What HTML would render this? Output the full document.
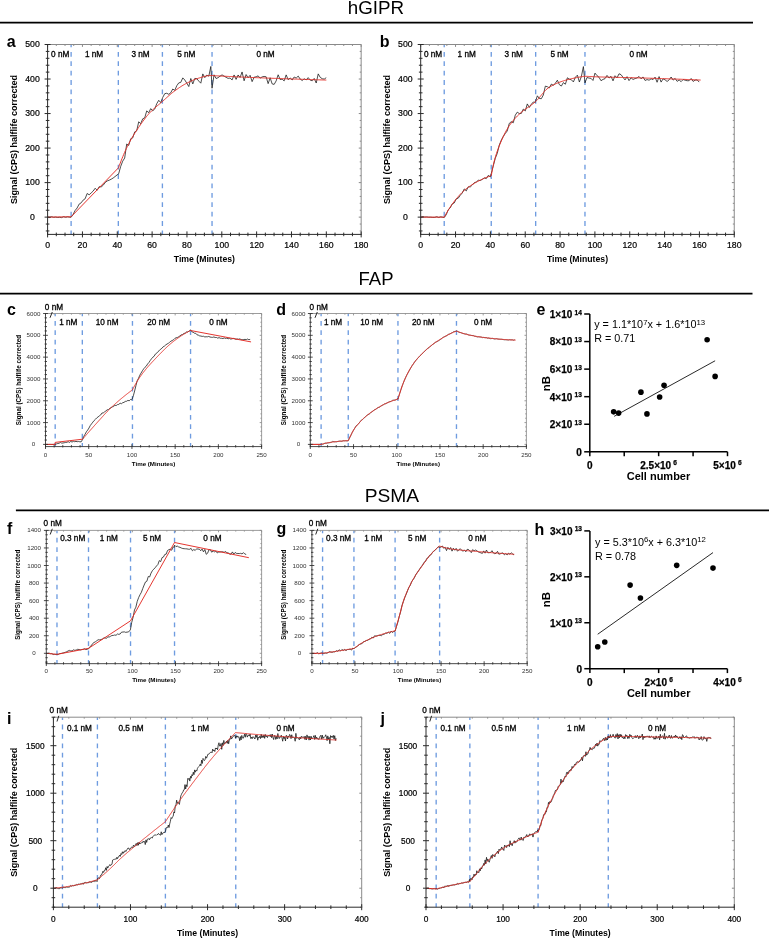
<!DOCTYPE html>
<html><head><meta charset="utf-8"><style>
html,body{margin:0;padding:0;background:#fff;}
svg{display:block;font-family:"Liberation Sans", sans-serif;will-change:transform;}
</style></head><body>
<svg width="769" height="938" viewBox="0 0 769 938">
<rect width="769" height="938" fill="#fff"/>
<text x="376" y="14" font-size="18.8" text-anchor="middle" fill="#000" >hGIPR</text>
<line x1="0" y1="22.6" x2="753" y2="22.6" stroke="#000" stroke-width="1.8" />
<text x="376" y="285" font-size="18.5" text-anchor="middle" fill="#000" >FAP</text>
<line x1="0" y1="293.6" x2="752.5" y2="293.6" stroke="#000" stroke-width="1.8" />
<text x="391.9" y="502" font-size="19.2" text-anchor="middle" fill="#000" >PSMA</text>
<line x1="15.9" y1="510.4" x2="769" y2="510.4" stroke="#000" stroke-width="1.7" />
<line x1="71.12" y1="44.5" x2="71.12" y2="234.4" stroke="#6f9ce0" stroke-width="1.35" stroke-dasharray="4.8 4.6" stroke-dashoffset="2"/>
<line x1="118.33" y1="44.5" x2="118.33" y2="234.4" stroke="#6f9ce0" stroke-width="1.35" stroke-dasharray="4.8 4.6" stroke-dashoffset="2"/>
<line x1="162.4" y1="44.5" x2="162.4" y2="234.4" stroke="#6f9ce0" stroke-width="1.35" stroke-dasharray="4.8 4.6" stroke-dashoffset="2"/>
<line x1="212.04" y1="44.5" x2="212.04" y2="234.4" stroke="#6f9ce0" stroke-width="1.35" stroke-dasharray="4.8 4.6" stroke-dashoffset="2"/>
<polyline points="47.6,217.03 49.6,217.56 51.61,216.7 53.61,217.35 55.61,217.06 57.62,217.51 59.62,217.25 61.62,217.62 63.63,216.66 65.63,217.29 67.63,216.81 69.64,217.22 71.12,217.22 73.12,214.46 75.12,210.47 77.13,207.97 79.13,204.13 81.13,202.85 83.14,200.11 85.14,198.77 87.14,193.47 89.15,194.8 91.15,192.98 93.15,191.08 95.16,188.26 97.16,190.29 99.16,186.69 101.17,186.94 103.17,185.26 105.17,182.56 107.18,180.96 109.18,180.19 111.18,179.23 113.19,177.98 118.67,173.75 120.68,166.44 122.68,161.19 124.68,158.03 126.69,144.01 128.69,145.42 130.69,138.75 132.7,137.94 134.7,131.89 136.7,130.81 138.71,121.79 140.71,123.68 142.71,118.82 144.72,117.84 146.72,110.88 148.72,112.68 150.73,108.64 152.73,110.85 154.73,109.04 156.74,103.71 158.74,100.31 160.74,102.64 162.75,97.38 164.75,93.65 166.75,93.26 168.76,94.31 170.76,92.75 172.76,89.01 174.77,90.39 176.77,85.73 178.77,82.9 180.78,82.37 182.78,77.89 184.78,79.97 186.79,83.15 188.79,86.55 190.79,78.51 192.8,83.95 194.8,78.39 196.8,78.67 198.81,81.11 200.81,83.18 202.81,73.92 204.82,77.64 206.82,75.12 208.82,76.17 210.83,66.44 212.04,88.22 214.05,74.82 216.05,78.49 218.05,77.7 220.06,76.13 222.06,74.89 224.06,76.11 226.07,77.3 228.07,78.38 230.07,78.04 232.08,79.98 234.08,74.95 236.08,79.42 238.09,74.98 240.09,77.44 242.09,71.94 244.1,80.79 246.1,74.56 248.1,77.74 250.11,75.28 252.11,81.64 254.11,77.2 256.12,76.82 258.12,75.86 260.12,78.14 262.13,76.88 264.13,76.45 266.13,76.79 268.14,83.65 270.14,77.78 272.14,83.87 274.15,84.4 276.15,80.92 278.15,74.79 280.16,79.54 282.16,79.18 284.16,80.9 286.17,74.89 288.17,79.67 290.17,77.99 292.18,79.98 294.18,76.99 296.18,78.08 298.19,76.1 300.19,79.07 302.19,80.5 304.2,78.77 306.2,79.88 308.2,77.61 310.21,80.14 312.21,80.76 314.21,78.43 316.22,83.02 318.22,73.88 320.22,77.35 322.23,78.72 324.23,79.08 326.23,77.7" fill="none" stroke="#111" stroke-width="0.75" stroke-linejoin="round"/>
<polyline points="47.6,217.14 71.12,216.79 71.12,216.79 118.5,167.76 118.5,167.76 119.37,165.41 120.24,163.11 121.11,160.86 121.98,158.66 122.85,156.52 123.73,154.43 124.6,152.41 125.47,150.45 126.34,148.56 127.21,146.73 128.08,144.97 128.95,143.28 129.82,141.65 130.69,140.07 131.56,138.54 132.44,137.05 133.31,135.61 134.18,134.2 135.05,132.82 135.92,131.47 136.79,130.14 137.66,128.83 138.53,127.54 139.4,126.25 140.27,124.98 141.15,123.73 142.02,122.5 142.89,121.28 143.76,120.1 144.63,118.94 145.5,117.81 146.37,116.71 147.24,115.64 148.11,114.61 148.98,113.63 149.86,112.68 150.73,111.77 151.6,110.9 152.47,110.06 153.34,109.25 154.21,108.46 155.08,107.69 155.95,106.93 156.82,106.19 157.69,105.46 158.57,104.73 159.44,104 160.31,103.27 161.18,102.53 162.05,101.77 162.92,101.01 163.79,100.23 164.66,99.45 165.53,98.66 166.4,97.88 167.28,97.09 168.15,96.31 169.02,95.54 169.89,94.78 170.76,94.03 171.63,93.3 172.5,92.59 173.37,91.9 174.24,91.24 175.11,90.6 175.99,89.97 176.86,89.35 177.73,88.73 178.6,88.13 179.47,87.54 180.34,86.96 181.21,86.39 182.08,85.84 182.95,85.31 183.82,84.79 184.7,84.29 185.57,83.81 186.44,83.35 187.31,82.91 188.18,82.47 189.05,82.04 189.92,81.63 190.79,81.22 191.66,80.82 192.53,80.43 193.41,80.06 194.28,79.7 195.15,79.35 196.02,79.02 196.89,78.71 197.76,78.42 198.63,78.15 199.5,77.89 200.37,77.63 201.24,77.37 202.12,77.11 202.99,76.85 203.86,76.6 204.73,76.37 205.6,76.15 206.47,75.97 207.34,75.81 208.21,75.69 209.08,75.61 209.95,75.58 210.83,75.57 211.7,75.57 212.04,75.57 212.04,75.57 212.92,75.62 213.79,75.67 214.66,75.72 215.53,75.77 216.4,75.81 217.27,75.86 218.14,75.91 219.01,75.96 219.88,76 220.75,76.05 221.63,76.09 222.5,76.14 223.37,76.19 224.24,76.23 225.11,76.28 225.98,76.32 226.85,76.36 227.72,76.41 228.59,76.45 229.46,76.5 230.34,76.54 231.21,76.58 232.08,76.62 232.95,76.66 233.82,76.71 234.69,76.75 235.56,76.79 236.43,76.83 237.3,76.87 238.17,76.91 239.05,76.95 239.92,76.99 240.79,77.03 241.66,77.06 242.53,77.1 243.4,77.14 244.27,77.18 245.14,77.21 246.01,77.25 246.88,77.29 247.76,77.32 248.63,77.36 249.5,77.4 250.37,77.43 251.24,77.47 252.11,77.5 252.98,77.54 253.85,77.57 254.72,77.61 255.59,77.64 256.47,77.68 257.34,77.71 258.21,77.74 259.08,77.78 259.95,77.81 260.82,77.85 261.69,77.88 262.56,77.91 263.43,77.94 264.3,77.98 265.18,78.01 266.05,78.04 266.92,78.07 267.79,78.11 268.66,78.14 269.53,78.17 270.4,78.2 271.27,78.24 272.14,78.27 273.01,78.3 273.89,78.33 274.76,78.36 275.63,78.39 276.5,78.42 277.37,78.46 278.24,78.49 279.11,78.52 279.98,78.55 280.85,78.58 281.72,78.61 282.6,78.64 283.47,78.67 284.34,78.7 285.21,78.73 286.08,78.77 286.95,78.8 287.82,78.83 288.69,78.86 289.56,78.89 290.43,78.92 291.31,78.95 292.18,78.98 293.05,79.01 293.92,79.04 294.79,79.07 295.66,79.1 296.53,79.12 297.4,79.15 298.27,79.18 299.14,79.21 300.02,79.24 300.89,79.27 301.76,79.3 302.63,79.33 303.5,79.36 304.37,79.38 305.24,79.41 306.11,79.44 306.98,79.47 307.85,79.5 308.73,79.53 309.6,79.55 310.47,79.58 311.34,79.61 312.21,79.64 313.08,79.66 313.95,79.69 314.82,79.72 315.69,79.74 316.56,79.77 317.44,79.8 318.31,79.82 319.18,79.85 320.05,79.88 320.92,79.9 321.79,79.93 322.66,79.96 323.53,79.98 324.4,80.01 325.27,80.03 326.15,80.06 326.32,80.06" fill="none" stroke="#e32b25" stroke-width="0.95" stroke-linejoin="round"/>
<line x1="47.6" y1="44.5" x2="361.16" y2="44.5" stroke="#8a8a8a" stroke-width="1.0" />
<line x1="361.16" y1="44.5" x2="361.16" y2="234.4" stroke="#8a8a8a" stroke-width="1.0" />
<line x1="47.6" y1="231.4" x2="47.6" y2="237.4" stroke="#2a2a2a" stroke-width="1.0" />
<line x1="47.6" y1="44.5" x2="47.6" y2="46.9" stroke="#8a8a8a" stroke-width="1.0" />
<text x="47.6" y="248.3" font-size="8.7" text-anchor="middle" stroke="#000" stroke-width="0.2" fill="#000" >0</text>
<line x1="56.31" y1="232.6" x2="56.31" y2="236.2" stroke="#2a2a2a" stroke-width="1.0" />
<line x1="56.31" y1="44.5" x2="56.31" y2="45.94" stroke="#8a8a8a" stroke-width="1.0" />
<line x1="65.02" y1="232.6" x2="65.02" y2="236.2" stroke="#2a2a2a" stroke-width="1.0" />
<line x1="65.02" y1="44.5" x2="65.02" y2="45.94" stroke="#8a8a8a" stroke-width="1.0" />
<line x1="73.73" y1="232.6" x2="73.73" y2="236.2" stroke="#2a2a2a" stroke-width="1.0" />
<line x1="73.73" y1="44.5" x2="73.73" y2="45.94" stroke="#8a8a8a" stroke-width="1.0" />
<line x1="82.44" y1="231.4" x2="82.44" y2="237.4" stroke="#2a2a2a" stroke-width="1.0" />
<line x1="82.44" y1="44.5" x2="82.44" y2="46.9" stroke="#8a8a8a" stroke-width="1.0" />
<text x="82.44" y="248.3" font-size="8.7" text-anchor="middle" stroke="#000" stroke-width="0.2" fill="#000" >20</text>
<line x1="91.15" y1="232.6" x2="91.15" y2="236.2" stroke="#2a2a2a" stroke-width="1.0" />
<line x1="91.15" y1="44.5" x2="91.15" y2="45.94" stroke="#8a8a8a" stroke-width="1.0" />
<line x1="99.86" y1="232.6" x2="99.86" y2="236.2" stroke="#2a2a2a" stroke-width="1.0" />
<line x1="99.86" y1="44.5" x2="99.86" y2="45.94" stroke="#8a8a8a" stroke-width="1.0" />
<line x1="108.57" y1="232.6" x2="108.57" y2="236.2" stroke="#2a2a2a" stroke-width="1.0" />
<line x1="108.57" y1="44.5" x2="108.57" y2="45.94" stroke="#8a8a8a" stroke-width="1.0" />
<line x1="117.28" y1="231.4" x2="117.28" y2="237.4" stroke="#2a2a2a" stroke-width="1.0" />
<line x1="117.28" y1="44.5" x2="117.28" y2="46.9" stroke="#8a8a8a" stroke-width="1.0" />
<text x="117.28" y="248.3" font-size="8.7" text-anchor="middle" stroke="#000" stroke-width="0.2" fill="#000" >40</text>
<line x1="125.99" y1="232.6" x2="125.99" y2="236.2" stroke="#2a2a2a" stroke-width="1.0" />
<line x1="125.99" y1="44.5" x2="125.99" y2="45.94" stroke="#8a8a8a" stroke-width="1.0" />
<line x1="134.7" y1="232.6" x2="134.7" y2="236.2" stroke="#2a2a2a" stroke-width="1.0" />
<line x1="134.7" y1="44.5" x2="134.7" y2="45.94" stroke="#8a8a8a" stroke-width="1.0" />
<line x1="143.41" y1="232.6" x2="143.41" y2="236.2" stroke="#2a2a2a" stroke-width="1.0" />
<line x1="143.41" y1="44.5" x2="143.41" y2="45.94" stroke="#8a8a8a" stroke-width="1.0" />
<line x1="152.12" y1="231.4" x2="152.12" y2="237.4" stroke="#2a2a2a" stroke-width="1.0" />
<line x1="152.12" y1="44.5" x2="152.12" y2="46.9" stroke="#8a8a8a" stroke-width="1.0" />
<text x="152.12" y="248.3" font-size="8.7" text-anchor="middle" stroke="#000" stroke-width="0.2" fill="#000" >60</text>
<line x1="160.83" y1="232.6" x2="160.83" y2="236.2" stroke="#2a2a2a" stroke-width="1.0" />
<line x1="160.83" y1="44.5" x2="160.83" y2="45.94" stroke="#8a8a8a" stroke-width="1.0" />
<line x1="169.54" y1="232.6" x2="169.54" y2="236.2" stroke="#2a2a2a" stroke-width="1.0" />
<line x1="169.54" y1="44.5" x2="169.54" y2="45.94" stroke="#8a8a8a" stroke-width="1.0" />
<line x1="178.25" y1="232.6" x2="178.25" y2="236.2" stroke="#2a2a2a" stroke-width="1.0" />
<line x1="178.25" y1="44.5" x2="178.25" y2="45.94" stroke="#8a8a8a" stroke-width="1.0" />
<line x1="186.96" y1="231.4" x2="186.96" y2="237.4" stroke="#2a2a2a" stroke-width="1.0" />
<line x1="186.96" y1="44.5" x2="186.96" y2="46.9" stroke="#8a8a8a" stroke-width="1.0" />
<text x="186.96" y="248.3" font-size="8.7" text-anchor="middle" stroke="#000" stroke-width="0.2" fill="#000" >80</text>
<line x1="195.67" y1="232.6" x2="195.67" y2="236.2" stroke="#2a2a2a" stroke-width="1.0" />
<line x1="195.67" y1="44.5" x2="195.67" y2="45.94" stroke="#8a8a8a" stroke-width="1.0" />
<line x1="204.38" y1="232.6" x2="204.38" y2="236.2" stroke="#2a2a2a" stroke-width="1.0" />
<line x1="204.38" y1="44.5" x2="204.38" y2="45.94" stroke="#8a8a8a" stroke-width="1.0" />
<line x1="213.09" y1="232.6" x2="213.09" y2="236.2" stroke="#2a2a2a" stroke-width="1.0" />
<line x1="213.09" y1="44.5" x2="213.09" y2="45.94" stroke="#8a8a8a" stroke-width="1.0" />
<line x1="221.8" y1="231.4" x2="221.8" y2="237.4" stroke="#2a2a2a" stroke-width="1.0" />
<line x1="221.8" y1="44.5" x2="221.8" y2="46.9" stroke="#8a8a8a" stroke-width="1.0" />
<text x="221.8" y="248.3" font-size="8.7" text-anchor="middle" stroke="#000" stroke-width="0.2" fill="#000" >100</text>
<line x1="230.51" y1="232.6" x2="230.51" y2="236.2" stroke="#2a2a2a" stroke-width="1.0" />
<line x1="230.51" y1="44.5" x2="230.51" y2="45.94" stroke="#8a8a8a" stroke-width="1.0" />
<line x1="239.22" y1="232.6" x2="239.22" y2="236.2" stroke="#2a2a2a" stroke-width="1.0" />
<line x1="239.22" y1="44.5" x2="239.22" y2="45.94" stroke="#8a8a8a" stroke-width="1.0" />
<line x1="247.93" y1="232.6" x2="247.93" y2="236.2" stroke="#2a2a2a" stroke-width="1.0" />
<line x1="247.93" y1="44.5" x2="247.93" y2="45.94" stroke="#8a8a8a" stroke-width="1.0" />
<line x1="256.64" y1="231.4" x2="256.64" y2="237.4" stroke="#2a2a2a" stroke-width="1.0" />
<line x1="256.64" y1="44.5" x2="256.64" y2="46.9" stroke="#8a8a8a" stroke-width="1.0" />
<text x="256.64" y="248.3" font-size="8.7" text-anchor="middle" stroke="#000" stroke-width="0.2" fill="#000" >120</text>
<line x1="265.35" y1="232.6" x2="265.35" y2="236.2" stroke="#2a2a2a" stroke-width="1.0" />
<line x1="265.35" y1="44.5" x2="265.35" y2="45.94" stroke="#8a8a8a" stroke-width="1.0" />
<line x1="274.06" y1="232.6" x2="274.06" y2="236.2" stroke="#2a2a2a" stroke-width="1.0" />
<line x1="274.06" y1="44.5" x2="274.06" y2="45.94" stroke="#8a8a8a" stroke-width="1.0" />
<line x1="282.77" y1="232.6" x2="282.77" y2="236.2" stroke="#2a2a2a" stroke-width="1.0" />
<line x1="282.77" y1="44.5" x2="282.77" y2="45.94" stroke="#8a8a8a" stroke-width="1.0" />
<line x1="291.48" y1="231.4" x2="291.48" y2="237.4" stroke="#2a2a2a" stroke-width="1.0" />
<line x1="291.48" y1="44.5" x2="291.48" y2="46.9" stroke="#8a8a8a" stroke-width="1.0" />
<text x="291.48" y="248.3" font-size="8.7" text-anchor="middle" stroke="#000" stroke-width="0.2" fill="#000" >140</text>
<line x1="300.19" y1="232.6" x2="300.19" y2="236.2" stroke="#2a2a2a" stroke-width="1.0" />
<line x1="300.19" y1="44.5" x2="300.19" y2="45.94" stroke="#8a8a8a" stroke-width="1.0" />
<line x1="308.9" y1="232.6" x2="308.9" y2="236.2" stroke="#2a2a2a" stroke-width="1.0" />
<line x1="308.9" y1="44.5" x2="308.9" y2="45.94" stroke="#8a8a8a" stroke-width="1.0" />
<line x1="317.61" y1="232.6" x2="317.61" y2="236.2" stroke="#2a2a2a" stroke-width="1.0" />
<line x1="317.61" y1="44.5" x2="317.61" y2="45.94" stroke="#8a8a8a" stroke-width="1.0" />
<line x1="326.32" y1="231.4" x2="326.32" y2="237.4" stroke="#2a2a2a" stroke-width="1.0" />
<line x1="326.32" y1="44.5" x2="326.32" y2="46.9" stroke="#8a8a8a" stroke-width="1.0" />
<text x="326.32" y="248.3" font-size="8.7" text-anchor="middle" stroke="#000" stroke-width="0.2" fill="#000" >160</text>
<line x1="335.03" y1="232.6" x2="335.03" y2="236.2" stroke="#2a2a2a" stroke-width="1.0" />
<line x1="335.03" y1="44.5" x2="335.03" y2="45.94" stroke="#8a8a8a" stroke-width="1.0" />
<line x1="343.74" y1="232.6" x2="343.74" y2="236.2" stroke="#2a2a2a" stroke-width="1.0" />
<line x1="343.74" y1="44.5" x2="343.74" y2="45.94" stroke="#8a8a8a" stroke-width="1.0" />
<line x1="352.45" y1="232.6" x2="352.45" y2="236.2" stroke="#2a2a2a" stroke-width="1.0" />
<line x1="352.45" y1="44.5" x2="352.45" y2="45.94" stroke="#8a8a8a" stroke-width="1.0" />
<line x1="361.16" y1="231.4" x2="361.16" y2="237.4" stroke="#2a2a2a" stroke-width="1.0" />
<line x1="361.16" y1="44.5" x2="361.16" y2="46.9" stroke="#8a8a8a" stroke-width="1.0" />
<text x="361.16" y="248.3" font-size="8.7" text-anchor="middle" stroke="#000" stroke-width="0.2" fill="#000" >180</text>
<line x1="45.8" y1="230.95" x2="49.4" y2="230.95" stroke="#2a2a2a" stroke-width="1.0" />
<line x1="359.72" y1="230.95" x2="361.16" y2="230.95" stroke="#8a8a8a" stroke-width="1.0" />
<line x1="45.8" y1="224.04" x2="49.4" y2="224.04" stroke="#2a2a2a" stroke-width="1.0" />
<line x1="359.72" y1="224.04" x2="361.16" y2="224.04" stroke="#8a8a8a" stroke-width="1.0" />
<line x1="44.6" y1="217.14" x2="50.6" y2="217.14" stroke="#2a2a2a" stroke-width="1.0" />
<line x1="358.76" y1="217.14" x2="361.16" y2="217.14" stroke="#8a8a8a" stroke-width="1.0" />
<text x="32.5" y="219.74" font-size="8.7" text-anchor="middle" stroke="#000" stroke-width="0.2" fill="#000" >0</text>
<line x1="45.8" y1="210.23" x2="49.4" y2="210.23" stroke="#2a2a2a" stroke-width="1.0" />
<line x1="359.72" y1="210.23" x2="361.16" y2="210.23" stroke="#8a8a8a" stroke-width="1.0" />
<line x1="45.8" y1="203.33" x2="49.4" y2="203.33" stroke="#2a2a2a" stroke-width="1.0" />
<line x1="359.72" y1="203.33" x2="361.16" y2="203.33" stroke="#8a8a8a" stroke-width="1.0" />
<line x1="45.8" y1="196.42" x2="49.4" y2="196.42" stroke="#2a2a2a" stroke-width="1.0" />
<line x1="359.72" y1="196.42" x2="361.16" y2="196.42" stroke="#8a8a8a" stroke-width="1.0" />
<line x1="45.8" y1="189.51" x2="49.4" y2="189.51" stroke="#2a2a2a" stroke-width="1.0" />
<line x1="359.72" y1="189.51" x2="361.16" y2="189.51" stroke="#8a8a8a" stroke-width="1.0" />
<line x1="44.6" y1="182.61" x2="50.6" y2="182.61" stroke="#2a2a2a" stroke-width="1.0" />
<line x1="358.76" y1="182.61" x2="361.16" y2="182.61" stroke="#8a8a8a" stroke-width="1.0" />
<text x="32.5" y="185.21" font-size="8.7" text-anchor="middle" stroke="#000" stroke-width="0.2" fill="#000" >100</text>
<line x1="45.8" y1="175.7" x2="49.4" y2="175.7" stroke="#2a2a2a" stroke-width="1.0" />
<line x1="359.72" y1="175.7" x2="361.16" y2="175.7" stroke="#8a8a8a" stroke-width="1.0" />
<line x1="45.8" y1="168.8" x2="49.4" y2="168.8" stroke="#2a2a2a" stroke-width="1.0" />
<line x1="359.72" y1="168.8" x2="361.16" y2="168.8" stroke="#8a8a8a" stroke-width="1.0" />
<line x1="45.8" y1="161.89" x2="49.4" y2="161.89" stroke="#2a2a2a" stroke-width="1.0" />
<line x1="359.72" y1="161.89" x2="361.16" y2="161.89" stroke="#8a8a8a" stroke-width="1.0" />
<line x1="45.8" y1="154.99" x2="49.4" y2="154.99" stroke="#2a2a2a" stroke-width="1.0" />
<line x1="359.72" y1="154.99" x2="361.16" y2="154.99" stroke="#8a8a8a" stroke-width="1.0" />
<line x1="44.6" y1="148.08" x2="50.6" y2="148.08" stroke="#2a2a2a" stroke-width="1.0" />
<line x1="358.76" y1="148.08" x2="361.16" y2="148.08" stroke="#8a8a8a" stroke-width="1.0" />
<text x="32.5" y="150.68" font-size="8.7" text-anchor="middle" stroke="#000" stroke-width="0.2" fill="#000" >200</text>
<line x1="45.8" y1="141.18" x2="49.4" y2="141.18" stroke="#2a2a2a" stroke-width="1.0" />
<line x1="359.72" y1="141.18" x2="361.16" y2="141.18" stroke="#8a8a8a" stroke-width="1.0" />
<line x1="45.8" y1="134.27" x2="49.4" y2="134.27" stroke="#2a2a2a" stroke-width="1.0" />
<line x1="359.72" y1="134.27" x2="361.16" y2="134.27" stroke="#8a8a8a" stroke-width="1.0" />
<line x1="45.8" y1="127.37" x2="49.4" y2="127.37" stroke="#2a2a2a" stroke-width="1.0" />
<line x1="359.72" y1="127.37" x2="361.16" y2="127.37" stroke="#8a8a8a" stroke-width="1.0" />
<line x1="45.8" y1="120.46" x2="49.4" y2="120.46" stroke="#2a2a2a" stroke-width="1.0" />
<line x1="359.72" y1="120.46" x2="361.16" y2="120.46" stroke="#8a8a8a" stroke-width="1.0" />
<line x1="44.6" y1="113.55" x2="50.6" y2="113.55" stroke="#2a2a2a" stroke-width="1.0" />
<line x1="358.76" y1="113.55" x2="361.16" y2="113.55" stroke="#8a8a8a" stroke-width="1.0" />
<text x="32.5" y="116.15" font-size="8.7" text-anchor="middle" stroke="#000" stroke-width="0.2" fill="#000" >300</text>
<line x1="45.8" y1="106.65" x2="49.4" y2="106.65" stroke="#2a2a2a" stroke-width="1.0" />
<line x1="359.72" y1="106.65" x2="361.16" y2="106.65" stroke="#8a8a8a" stroke-width="1.0" />
<line x1="45.8" y1="99.74" x2="49.4" y2="99.74" stroke="#2a2a2a" stroke-width="1.0" />
<line x1="359.72" y1="99.74" x2="361.16" y2="99.74" stroke="#8a8a8a" stroke-width="1.0" />
<line x1="45.8" y1="92.84" x2="49.4" y2="92.84" stroke="#2a2a2a" stroke-width="1.0" />
<line x1="359.72" y1="92.84" x2="361.16" y2="92.84" stroke="#8a8a8a" stroke-width="1.0" />
<line x1="45.8" y1="85.93" x2="49.4" y2="85.93" stroke="#2a2a2a" stroke-width="1.0" />
<line x1="359.72" y1="85.93" x2="361.16" y2="85.93" stroke="#8a8a8a" stroke-width="1.0" />
<line x1="44.6" y1="79.03" x2="50.6" y2="79.03" stroke="#2a2a2a" stroke-width="1.0" />
<line x1="358.76" y1="79.03" x2="361.16" y2="79.03" stroke="#8a8a8a" stroke-width="1.0" />
<text x="32.5" y="81.63" font-size="8.7" text-anchor="middle" stroke="#000" stroke-width="0.2" fill="#000" >400</text>
<line x1="45.8" y1="72.12" x2="49.4" y2="72.12" stroke="#2a2a2a" stroke-width="1.0" />
<line x1="359.72" y1="72.12" x2="361.16" y2="72.12" stroke="#8a8a8a" stroke-width="1.0" />
<line x1="45.8" y1="65.22" x2="49.4" y2="65.22" stroke="#2a2a2a" stroke-width="1.0" />
<line x1="359.72" y1="65.22" x2="361.16" y2="65.22" stroke="#8a8a8a" stroke-width="1.0" />
<line x1="45.8" y1="58.31" x2="49.4" y2="58.31" stroke="#2a2a2a" stroke-width="1.0" />
<line x1="359.72" y1="58.31" x2="361.16" y2="58.31" stroke="#8a8a8a" stroke-width="1.0" />
<line x1="45.8" y1="51.41" x2="49.4" y2="51.41" stroke="#2a2a2a" stroke-width="1.0" />
<line x1="359.72" y1="51.41" x2="361.16" y2="51.41" stroke="#8a8a8a" stroke-width="1.0" />
<line x1="44.6" y1="44.5" x2="50.6" y2="44.5" stroke="#2a2a2a" stroke-width="1.0" />
<line x1="358.76" y1="44.5" x2="361.16" y2="44.5" stroke="#8a8a8a" stroke-width="1.0" />
<text x="32.5" y="47.1" font-size="8.7" text-anchor="middle" stroke="#000" stroke-width="0.2" fill="#000" >500</text>
<line x1="47.6" y1="44.5" x2="47.6" y2="234.9" stroke="#2a2a2a" stroke-width="1.0" />
<line x1="47.1" y1="234.4" x2="361.66" y2="234.4" stroke="#2a2a2a" stroke-width="1.0" />
<text x="60.2" y="57.2" font-size="8.2" text-anchor="middle" stroke="#000" stroke-width="0.3" fill="#000" >0 nM</text>
<text x="94" y="57.2" font-size="8.2" text-anchor="middle" stroke="#000" stroke-width="0.3" fill="#000" >1 nM</text>
<text x="140.5" y="57.2" font-size="8.2" text-anchor="middle" stroke="#000" stroke-width="0.3" fill="#000" >3 nM</text>
<text x="186.3" y="57.2" font-size="8.2" text-anchor="middle" stroke="#000" stroke-width="0.3" fill="#000" >5 nM</text>
<text x="265.5" y="57.2" font-size="8.2" text-anchor="middle" stroke="#000" stroke-width="0.3" fill="#000" >0 nM</text>
<text x="17.2" y="139.45" font-size="9.0" text-anchor="middle" font-weight="bold" fill="#000" transform="rotate(-90 17.2 139.45)">Signal (CPS) halflife corrected</text>
<text x="204.38" y="262.4" font-size="8.7" text-anchor="middle" font-weight="bold" fill="#000" >Time (Minutes)</text>
<text x="6.8" y="47.4" font-size="16" text-anchor="start" font-weight="bold" fill="#000" >a</text>
<line x1="444.22" y1="44.5" x2="444.22" y2="234.4" stroke="#6f9ce0" stroke-width="1.35" stroke-dasharray="4.8 4.6" stroke-dashoffset="2"/>
<line x1="491.25" y1="44.5" x2="491.25" y2="234.4" stroke="#6f9ce0" stroke-width="1.35" stroke-dasharray="4.8 4.6" stroke-dashoffset="2"/>
<line x1="535.67" y1="44.5" x2="535.67" y2="234.4" stroke="#6f9ce0" stroke-width="1.35" stroke-dasharray="4.8 4.6" stroke-dashoffset="2"/>
<line x1="584.97" y1="44.5" x2="584.97" y2="234.4" stroke="#6f9ce0" stroke-width="1.35" stroke-dasharray="4.8 4.6" stroke-dashoffset="2"/>
<polyline points="420.7,217.31 422.7,216.58 424.71,217.05 426.71,216.92 428.71,217.22 430.72,217.18 432.72,217.41 434.72,217.39 436.73,216.71 438.73,217.5 440.73,216.81 442.74,217.23 444.22,217.55 446.22,214.71 448.22,209.81 450.23,207.86 452.23,203.93 454.23,202.98 456.24,198.84 458.24,198.17 460.24,195.31 462.25,193.02 464.25,188.93 466.25,190.92 468.26,186.81 470.26,186.91 472.26,185.06 474.27,182.71 476.27,182 478.27,180.25 480.28,180.49 482.28,179.36 484.28,177.88 486.29,178.61 488.29,175.41 490.29,176.93 491.25,173.44 493.25,165.91 495.26,158.35 497.26,153.36 499.26,145.19 501.27,140.22 503.27,136.47 505.27,133.52 507.28,130.92 509.28,123.39 511.28,121.67 513.29,122.75 515.29,115.14 517.29,112.15 519.3,113.6 521.3,113.46 523.3,109.05 525.31,110.91 527.31,103.92 529.31,107.49 531.32,104.27 533.32,102 535.32,102.24 537.33,95.82 539.33,98.43 541.33,98.71 543.34,95 545.34,86.13 547.34,86.73 549.35,87.87 551.35,84.1 553.35,85.37 555.36,83.2 557.36,80.18 559.36,84.66 561.37,86.07 563.37,82.6 565.37,84.24 567.38,77.79 569.38,79.25 571.38,79.78 573.39,81.95 575.39,77.23 577.39,75.16 579.4,82.02 581.4,76.36 583.4,66.59 584.97,82.91 586.97,77.54 588.98,78.06 590.98,78.3 592.98,80.48 594.99,73.11 596.99,75.64 598.99,77.26 601,80.72 603,79.39 605,78.67 607.01,75.4 609.01,78.06 611.01,76.32 613.02,80.84 615.02,75.73 617.02,77.88 619.03,73.76 621.03,74.66 623.03,77.32 625.04,79.93 627.04,76.65 629.04,80.64 631.05,77.79 633.05,79.47 635.05,78.55 637.06,77.95 639.06,76.48 641.06,78.8 643.07,76.94 645.07,80.47 647.07,79.57 649.08,80.21 651.08,78.82 653.08,79.55 655.09,77.12 657.09,82.26 659.09,76.59 661.1,82.09 663.1,78.83 665.1,79.85 667.11,81.47 669.11,79.87 671.11,77.01 673.12,80.12 675.12,78.4 677.12,81.36 679.13,79.99 681.13,81.65 683.13,79.53 685.14,80.22 687.14,80.72 689.14,80.69 691.15,78.48 693.15,81.43 695.15,80.1 697.16,79.91 699.16,82.1" fill="none" stroke="#111" stroke-width="0.75" stroke-linejoin="round"/>
<polyline points="420.7,217.14 444.22,217.14 444.22,217.14 445.09,215.57 445.96,214.03 446.83,212.53 447.7,211.06 448.57,209.62 449.44,208.24 450.31,206.9 451.19,205.61 452.06,204.38 452.93,203.21 453.8,202.06 454.67,200.94 455.54,199.84 456.41,198.76 457.28,197.71 458.15,196.69 459.02,195.69 459.89,194.73 460.77,193.8 461.64,192.91 462.51,192.05 463.38,191.23 464.25,190.45 465.12,189.72 465.99,189.01 466.86,188.33 467.73,187.66 468.61,187.02 469.48,186.41 470.35,185.81 471.22,185.23 472.09,184.67 472.96,184.13 473.83,183.6 474.7,183.1 475.57,182.6 476.44,182.13 477.31,181.66 478.19,181.21 479.06,180.77 479.93,180.33 480.8,179.91 481.67,179.49 482.54,179.09 483.41,178.69 484.28,178.3 485.15,177.93 486.02,177.57 486.9,177.22 487.77,176.89 488.64,176.57 489.51,176.27 490.38,175.98 491.25,175.7 491.25,175.7 492.12,170.93 492.99,166.47 493.86,162.58 494.74,159.3 495.61,156.3 496.48,153.52 497.35,150.94 498.22,148.53 499.09,146.26 499.96,144.09 500.83,142 501.7,139.99 502.57,138.04 503.44,136.17 504.32,134.37 505.19,132.65 506.06,131.02 506.93,129.48 507.8,128.03 508.67,126.67 509.54,125.4 510.41,124.17 511.28,122.99 512.15,121.87 513.03,120.78 513.9,119.74 514.77,118.74 515.64,117.78 516.51,116.85 517.38,115.95 518.25,115.09 519.12,114.25 519.99,113.44 520.87,112.67 521.74,111.94 522.61,111.24 523.48,110.57 524.35,109.92 525.22,109.29 526.09,108.67 526.96,108.06 527.83,107.46 528.7,106.85 529.58,106.25 530.45,105.63 531.32,104.99 532.19,104.34 533.06,103.67 533.93,102.97 534.8,102.24 535.67,101.47 536.54,100.64 537.41,99.74 538.28,98.77 539.16,97.76 540.03,96.72 540.9,95.66 541.77,94.59 542.64,93.54 543.51,92.51 544.38,91.53 545.25,90.59 546.12,89.72 547,88.94 547.87,88.25 548.74,87.65 549.61,87.09 550.48,86.56 551.35,86.05 552.22,85.56 553.09,85.09 553.96,84.65 554.83,84.23 555.7,83.82 556.58,83.43 557.45,83.06 558.32,82.71 559.19,82.37 560.06,82.04 560.93,81.73 561.8,81.42 562.67,81.13 563.54,80.85 564.41,80.58 565.29,80.32 566.16,80.06 567.03,79.82 567.9,79.58 568.77,79.36 569.64,79.14 570.51,78.93 571.38,78.72 572.25,78.53 573.12,78.34 574,78.15 574.87,77.97 575.74,77.79 576.61,77.62 577.48,77.45 578.35,77.29 579.22,77.14 580.09,76.98 580.96,76.84 581.84,76.7 582.71,76.57 583.58,76.45 584.45,76.33 584.97,76.27 584.97,76.27 585.84,76.31 586.71,76.36 587.58,76.4 588.45,76.45 589.33,76.5 590.2,76.54 591.07,76.58 591.94,76.63 592.81,76.67 593.68,76.71 594.55,76.75 595.42,76.79 596.29,76.82 597.16,76.86 598.04,76.89 598.91,76.92 599.78,76.95 600.65,76.98 601.52,77 602.39,77.03 603.26,77.05 604.13,77.08 605,77.1 605.87,77.12 606.75,77.15 607.62,77.17 608.49,77.19 609.36,77.21 610.23,77.23 611.1,77.25 611.97,77.26 612.84,77.28 613.71,77.3 614.58,77.32 615.46,77.34 616.33,77.35 617.2,77.37 618.07,77.39 618.94,77.41 619.81,77.42 620.68,77.44 621.55,77.46 622.42,77.48 623.29,77.5 624.17,77.51 625.04,77.53 625.91,77.55 626.78,77.57 627.65,77.59 628.52,77.62 629.39,77.64 630.26,77.66 631.13,77.68 632,77.71 632.88,77.73 633.75,77.75 634.62,77.78 635.49,77.8 636.36,77.82 637.23,77.85 638.1,77.87 638.97,77.9 639.84,77.92 640.71,77.94 641.59,77.97 642.46,77.99 643.33,78.02 644.2,78.04 645.07,78.07 645.94,78.1 646.81,78.12 647.68,78.15 648.55,78.17 649.42,78.2 650.3,78.23 651.17,78.25 652.04,78.28 652.91,78.31 653.78,78.33 654.65,78.36 655.52,78.39 656.39,78.42 657.26,78.44 658.13,78.47 659.01,78.5 659.88,78.53 660.75,78.56 661.62,78.58 662.49,78.61 663.36,78.64 664.23,78.67 665.1,78.7 665.97,78.73 666.84,78.76 667.72,78.79 668.59,78.82 669.46,78.85 670.33,78.88 671.2,78.91 672.07,78.94 672.94,78.97 673.81,79 674.68,79.03 675.55,79.07 676.43,79.1 677.3,79.13 678.17,79.16 679.04,79.2 679.91,79.23 680.78,79.26 681.65,79.29 682.52,79.33 683.39,79.36 684.26,79.39 685.14,79.43 686.01,79.46 686.88,79.5 687.75,79.53 688.62,79.57 689.49,79.6 690.36,79.64 691.23,79.67 692.1,79.71 692.97,79.74 693.85,79.78 694.72,79.81 695.59,79.85 696.46,79.89 697.33,79.92 698.2,79.96 699.07,80 699.94,80.03 700.64,80.06" fill="none" stroke="#e32b25" stroke-width="0.95" stroke-linejoin="round"/>
<line x1="420.7" y1="44.5" x2="734.26" y2="44.5" stroke="#8a8a8a" stroke-width="1.0" />
<line x1="734.26" y1="44.5" x2="734.26" y2="234.4" stroke="#8a8a8a" stroke-width="1.0" />
<line x1="420.7" y1="231.4" x2="420.7" y2="237.4" stroke="#2a2a2a" stroke-width="1.0" />
<line x1="420.7" y1="44.5" x2="420.7" y2="46.9" stroke="#8a8a8a" stroke-width="1.0" />
<text x="420.7" y="248.3" font-size="8.7" text-anchor="middle" stroke="#000" stroke-width="0.2" fill="#000" >0</text>
<line x1="429.41" y1="232.6" x2="429.41" y2="236.2" stroke="#2a2a2a" stroke-width="1.0" />
<line x1="429.41" y1="44.5" x2="429.41" y2="45.94" stroke="#8a8a8a" stroke-width="1.0" />
<line x1="438.12" y1="232.6" x2="438.12" y2="236.2" stroke="#2a2a2a" stroke-width="1.0" />
<line x1="438.12" y1="44.5" x2="438.12" y2="45.94" stroke="#8a8a8a" stroke-width="1.0" />
<line x1="446.83" y1="232.6" x2="446.83" y2="236.2" stroke="#2a2a2a" stroke-width="1.0" />
<line x1="446.83" y1="44.5" x2="446.83" y2="45.94" stroke="#8a8a8a" stroke-width="1.0" />
<line x1="455.54" y1="231.4" x2="455.54" y2="237.4" stroke="#2a2a2a" stroke-width="1.0" />
<line x1="455.54" y1="44.5" x2="455.54" y2="46.9" stroke="#8a8a8a" stroke-width="1.0" />
<text x="455.54" y="248.3" font-size="8.7" text-anchor="middle" stroke="#000" stroke-width="0.2" fill="#000" >20</text>
<line x1="464.25" y1="232.6" x2="464.25" y2="236.2" stroke="#2a2a2a" stroke-width="1.0" />
<line x1="464.25" y1="44.5" x2="464.25" y2="45.94" stroke="#8a8a8a" stroke-width="1.0" />
<line x1="472.96" y1="232.6" x2="472.96" y2="236.2" stroke="#2a2a2a" stroke-width="1.0" />
<line x1="472.96" y1="44.5" x2="472.96" y2="45.94" stroke="#8a8a8a" stroke-width="1.0" />
<line x1="481.67" y1="232.6" x2="481.67" y2="236.2" stroke="#2a2a2a" stroke-width="1.0" />
<line x1="481.67" y1="44.5" x2="481.67" y2="45.94" stroke="#8a8a8a" stroke-width="1.0" />
<line x1="490.38" y1="231.4" x2="490.38" y2="237.4" stroke="#2a2a2a" stroke-width="1.0" />
<line x1="490.38" y1="44.5" x2="490.38" y2="46.9" stroke="#8a8a8a" stroke-width="1.0" />
<text x="490.38" y="248.3" font-size="8.7" text-anchor="middle" stroke="#000" stroke-width="0.2" fill="#000" >40</text>
<line x1="499.09" y1="232.6" x2="499.09" y2="236.2" stroke="#2a2a2a" stroke-width="1.0" />
<line x1="499.09" y1="44.5" x2="499.09" y2="45.94" stroke="#8a8a8a" stroke-width="1.0" />
<line x1="507.8" y1="232.6" x2="507.8" y2="236.2" stroke="#2a2a2a" stroke-width="1.0" />
<line x1="507.8" y1="44.5" x2="507.8" y2="45.94" stroke="#8a8a8a" stroke-width="1.0" />
<line x1="516.51" y1="232.6" x2="516.51" y2="236.2" stroke="#2a2a2a" stroke-width="1.0" />
<line x1="516.51" y1="44.5" x2="516.51" y2="45.94" stroke="#8a8a8a" stroke-width="1.0" />
<line x1="525.22" y1="231.4" x2="525.22" y2="237.4" stroke="#2a2a2a" stroke-width="1.0" />
<line x1="525.22" y1="44.5" x2="525.22" y2="46.9" stroke="#8a8a8a" stroke-width="1.0" />
<text x="525.22" y="248.3" font-size="8.7" text-anchor="middle" stroke="#000" stroke-width="0.2" fill="#000" >60</text>
<line x1="533.93" y1="232.6" x2="533.93" y2="236.2" stroke="#2a2a2a" stroke-width="1.0" />
<line x1="533.93" y1="44.5" x2="533.93" y2="45.94" stroke="#8a8a8a" stroke-width="1.0" />
<line x1="542.64" y1="232.6" x2="542.64" y2="236.2" stroke="#2a2a2a" stroke-width="1.0" />
<line x1="542.64" y1="44.5" x2="542.64" y2="45.94" stroke="#8a8a8a" stroke-width="1.0" />
<line x1="551.35" y1="232.6" x2="551.35" y2="236.2" stroke="#2a2a2a" stroke-width="1.0" />
<line x1="551.35" y1="44.5" x2="551.35" y2="45.94" stroke="#8a8a8a" stroke-width="1.0" />
<line x1="560.06" y1="231.4" x2="560.06" y2="237.4" stroke="#2a2a2a" stroke-width="1.0" />
<line x1="560.06" y1="44.5" x2="560.06" y2="46.9" stroke="#8a8a8a" stroke-width="1.0" />
<text x="560.06" y="248.3" font-size="8.7" text-anchor="middle" stroke="#000" stroke-width="0.2" fill="#000" >80</text>
<line x1="568.77" y1="232.6" x2="568.77" y2="236.2" stroke="#2a2a2a" stroke-width="1.0" />
<line x1="568.77" y1="44.5" x2="568.77" y2="45.94" stroke="#8a8a8a" stroke-width="1.0" />
<line x1="577.48" y1="232.6" x2="577.48" y2="236.2" stroke="#2a2a2a" stroke-width="1.0" />
<line x1="577.48" y1="44.5" x2="577.48" y2="45.94" stroke="#8a8a8a" stroke-width="1.0" />
<line x1="586.19" y1="232.6" x2="586.19" y2="236.2" stroke="#2a2a2a" stroke-width="1.0" />
<line x1="586.19" y1="44.5" x2="586.19" y2="45.94" stroke="#8a8a8a" stroke-width="1.0" />
<line x1="594.9" y1="231.4" x2="594.9" y2="237.4" stroke="#2a2a2a" stroke-width="1.0" />
<line x1="594.9" y1="44.5" x2="594.9" y2="46.9" stroke="#8a8a8a" stroke-width="1.0" />
<text x="594.9" y="248.3" font-size="8.7" text-anchor="middle" stroke="#000" stroke-width="0.2" fill="#000" >100</text>
<line x1="603.61" y1="232.6" x2="603.61" y2="236.2" stroke="#2a2a2a" stroke-width="1.0" />
<line x1="603.61" y1="44.5" x2="603.61" y2="45.94" stroke="#8a8a8a" stroke-width="1.0" />
<line x1="612.32" y1="232.6" x2="612.32" y2="236.2" stroke="#2a2a2a" stroke-width="1.0" />
<line x1="612.32" y1="44.5" x2="612.32" y2="45.94" stroke="#8a8a8a" stroke-width="1.0" />
<line x1="621.03" y1="232.6" x2="621.03" y2="236.2" stroke="#2a2a2a" stroke-width="1.0" />
<line x1="621.03" y1="44.5" x2="621.03" y2="45.94" stroke="#8a8a8a" stroke-width="1.0" />
<line x1="629.74" y1="231.4" x2="629.74" y2="237.4" stroke="#2a2a2a" stroke-width="1.0" />
<line x1="629.74" y1="44.5" x2="629.74" y2="46.9" stroke="#8a8a8a" stroke-width="1.0" />
<text x="629.74" y="248.3" font-size="8.7" text-anchor="middle" stroke="#000" stroke-width="0.2" fill="#000" >120</text>
<line x1="638.45" y1="232.6" x2="638.45" y2="236.2" stroke="#2a2a2a" stroke-width="1.0" />
<line x1="638.45" y1="44.5" x2="638.45" y2="45.94" stroke="#8a8a8a" stroke-width="1.0" />
<line x1="647.16" y1="232.6" x2="647.16" y2="236.2" stroke="#2a2a2a" stroke-width="1.0" />
<line x1="647.16" y1="44.5" x2="647.16" y2="45.94" stroke="#8a8a8a" stroke-width="1.0" />
<line x1="655.87" y1="232.6" x2="655.87" y2="236.2" stroke="#2a2a2a" stroke-width="1.0" />
<line x1="655.87" y1="44.5" x2="655.87" y2="45.94" stroke="#8a8a8a" stroke-width="1.0" />
<line x1="664.58" y1="231.4" x2="664.58" y2="237.4" stroke="#2a2a2a" stroke-width="1.0" />
<line x1="664.58" y1="44.5" x2="664.58" y2="46.9" stroke="#8a8a8a" stroke-width="1.0" />
<text x="664.58" y="248.3" font-size="8.7" text-anchor="middle" stroke="#000" stroke-width="0.2" fill="#000" >140</text>
<line x1="673.29" y1="232.6" x2="673.29" y2="236.2" stroke="#2a2a2a" stroke-width="1.0" />
<line x1="673.29" y1="44.5" x2="673.29" y2="45.94" stroke="#8a8a8a" stroke-width="1.0" />
<line x1="682" y1="232.6" x2="682" y2="236.2" stroke="#2a2a2a" stroke-width="1.0" />
<line x1="682" y1="44.5" x2="682" y2="45.94" stroke="#8a8a8a" stroke-width="1.0" />
<line x1="690.71" y1="232.6" x2="690.71" y2="236.2" stroke="#2a2a2a" stroke-width="1.0" />
<line x1="690.71" y1="44.5" x2="690.71" y2="45.94" stroke="#8a8a8a" stroke-width="1.0" />
<line x1="699.42" y1="231.4" x2="699.42" y2="237.4" stroke="#2a2a2a" stroke-width="1.0" />
<line x1="699.42" y1="44.5" x2="699.42" y2="46.9" stroke="#8a8a8a" stroke-width="1.0" />
<text x="699.42" y="248.3" font-size="8.7" text-anchor="middle" stroke="#000" stroke-width="0.2" fill="#000" >160</text>
<line x1="708.13" y1="232.6" x2="708.13" y2="236.2" stroke="#2a2a2a" stroke-width="1.0" />
<line x1="708.13" y1="44.5" x2="708.13" y2="45.94" stroke="#8a8a8a" stroke-width="1.0" />
<line x1="716.84" y1="232.6" x2="716.84" y2="236.2" stroke="#2a2a2a" stroke-width="1.0" />
<line x1="716.84" y1="44.5" x2="716.84" y2="45.94" stroke="#8a8a8a" stroke-width="1.0" />
<line x1="725.55" y1="232.6" x2="725.55" y2="236.2" stroke="#2a2a2a" stroke-width="1.0" />
<line x1="725.55" y1="44.5" x2="725.55" y2="45.94" stroke="#8a8a8a" stroke-width="1.0" />
<line x1="734.26" y1="231.4" x2="734.26" y2="237.4" stroke="#2a2a2a" stroke-width="1.0" />
<line x1="734.26" y1="44.5" x2="734.26" y2="46.9" stroke="#8a8a8a" stroke-width="1.0" />
<text x="734.26" y="248.3" font-size="8.7" text-anchor="middle" stroke="#000" stroke-width="0.2" fill="#000" >180</text>
<line x1="418.9" y1="230.95" x2="422.5" y2="230.95" stroke="#2a2a2a" stroke-width="1.0" />
<line x1="732.82" y1="230.95" x2="734.26" y2="230.95" stroke="#8a8a8a" stroke-width="1.0" />
<line x1="418.9" y1="224.04" x2="422.5" y2="224.04" stroke="#2a2a2a" stroke-width="1.0" />
<line x1="732.82" y1="224.04" x2="734.26" y2="224.04" stroke="#8a8a8a" stroke-width="1.0" />
<line x1="417.7" y1="217.14" x2="423.7" y2="217.14" stroke="#2a2a2a" stroke-width="1.0" />
<line x1="731.86" y1="217.14" x2="734.26" y2="217.14" stroke="#8a8a8a" stroke-width="1.0" />
<text x="405.3" y="219.74" font-size="8.7" text-anchor="middle" stroke="#000" stroke-width="0.2" fill="#000" >0</text>
<line x1="418.9" y1="210.23" x2="422.5" y2="210.23" stroke="#2a2a2a" stroke-width="1.0" />
<line x1="732.82" y1="210.23" x2="734.26" y2="210.23" stroke="#8a8a8a" stroke-width="1.0" />
<line x1="418.9" y1="203.33" x2="422.5" y2="203.33" stroke="#2a2a2a" stroke-width="1.0" />
<line x1="732.82" y1="203.33" x2="734.26" y2="203.33" stroke="#8a8a8a" stroke-width="1.0" />
<line x1="418.9" y1="196.42" x2="422.5" y2="196.42" stroke="#2a2a2a" stroke-width="1.0" />
<line x1="732.82" y1="196.42" x2="734.26" y2="196.42" stroke="#8a8a8a" stroke-width="1.0" />
<line x1="418.9" y1="189.51" x2="422.5" y2="189.51" stroke="#2a2a2a" stroke-width="1.0" />
<line x1="732.82" y1="189.51" x2="734.26" y2="189.51" stroke="#8a8a8a" stroke-width="1.0" />
<line x1="417.7" y1="182.61" x2="423.7" y2="182.61" stroke="#2a2a2a" stroke-width="1.0" />
<line x1="731.86" y1="182.61" x2="734.26" y2="182.61" stroke="#8a8a8a" stroke-width="1.0" />
<text x="405.3" y="185.21" font-size="8.7" text-anchor="middle" stroke="#000" stroke-width="0.2" fill="#000" >100</text>
<line x1="418.9" y1="175.7" x2="422.5" y2="175.7" stroke="#2a2a2a" stroke-width="1.0" />
<line x1="732.82" y1="175.7" x2="734.26" y2="175.7" stroke="#8a8a8a" stroke-width="1.0" />
<line x1="418.9" y1="168.8" x2="422.5" y2="168.8" stroke="#2a2a2a" stroke-width="1.0" />
<line x1="732.82" y1="168.8" x2="734.26" y2="168.8" stroke="#8a8a8a" stroke-width="1.0" />
<line x1="418.9" y1="161.89" x2="422.5" y2="161.89" stroke="#2a2a2a" stroke-width="1.0" />
<line x1="732.82" y1="161.89" x2="734.26" y2="161.89" stroke="#8a8a8a" stroke-width="1.0" />
<line x1="418.9" y1="154.99" x2="422.5" y2="154.99" stroke="#2a2a2a" stroke-width="1.0" />
<line x1="732.82" y1="154.99" x2="734.26" y2="154.99" stroke="#8a8a8a" stroke-width="1.0" />
<line x1="417.7" y1="148.08" x2="423.7" y2="148.08" stroke="#2a2a2a" stroke-width="1.0" />
<line x1="731.86" y1="148.08" x2="734.26" y2="148.08" stroke="#8a8a8a" stroke-width="1.0" />
<text x="405.3" y="150.68" font-size="8.7" text-anchor="middle" stroke="#000" stroke-width="0.2" fill="#000" >200</text>
<line x1="418.9" y1="141.18" x2="422.5" y2="141.18" stroke="#2a2a2a" stroke-width="1.0" />
<line x1="732.82" y1="141.18" x2="734.26" y2="141.18" stroke="#8a8a8a" stroke-width="1.0" />
<line x1="418.9" y1="134.27" x2="422.5" y2="134.27" stroke="#2a2a2a" stroke-width="1.0" />
<line x1="732.82" y1="134.27" x2="734.26" y2="134.27" stroke="#8a8a8a" stroke-width="1.0" />
<line x1="418.9" y1="127.37" x2="422.5" y2="127.37" stroke="#2a2a2a" stroke-width="1.0" />
<line x1="732.82" y1="127.37" x2="734.26" y2="127.37" stroke="#8a8a8a" stroke-width="1.0" />
<line x1="418.9" y1="120.46" x2="422.5" y2="120.46" stroke="#2a2a2a" stroke-width="1.0" />
<line x1="732.82" y1="120.46" x2="734.26" y2="120.46" stroke="#8a8a8a" stroke-width="1.0" />
<line x1="417.7" y1="113.55" x2="423.7" y2="113.55" stroke="#2a2a2a" stroke-width="1.0" />
<line x1="731.86" y1="113.55" x2="734.26" y2="113.55" stroke="#8a8a8a" stroke-width="1.0" />
<text x="405.3" y="116.15" font-size="8.7" text-anchor="middle" stroke="#000" stroke-width="0.2" fill="#000" >300</text>
<line x1="418.9" y1="106.65" x2="422.5" y2="106.65" stroke="#2a2a2a" stroke-width="1.0" />
<line x1="732.82" y1="106.65" x2="734.26" y2="106.65" stroke="#8a8a8a" stroke-width="1.0" />
<line x1="418.9" y1="99.74" x2="422.5" y2="99.74" stroke="#2a2a2a" stroke-width="1.0" />
<line x1="732.82" y1="99.74" x2="734.26" y2="99.74" stroke="#8a8a8a" stroke-width="1.0" />
<line x1="418.9" y1="92.84" x2="422.5" y2="92.84" stroke="#2a2a2a" stroke-width="1.0" />
<line x1="732.82" y1="92.84" x2="734.26" y2="92.84" stroke="#8a8a8a" stroke-width="1.0" />
<line x1="418.9" y1="85.93" x2="422.5" y2="85.93" stroke="#2a2a2a" stroke-width="1.0" />
<line x1="732.82" y1="85.93" x2="734.26" y2="85.93" stroke="#8a8a8a" stroke-width="1.0" />
<line x1="417.7" y1="79.03" x2="423.7" y2="79.03" stroke="#2a2a2a" stroke-width="1.0" />
<line x1="731.86" y1="79.03" x2="734.26" y2="79.03" stroke="#8a8a8a" stroke-width="1.0" />
<text x="405.3" y="81.63" font-size="8.7" text-anchor="middle" stroke="#000" stroke-width="0.2" fill="#000" >400</text>
<line x1="418.9" y1="72.12" x2="422.5" y2="72.12" stroke="#2a2a2a" stroke-width="1.0" />
<line x1="732.82" y1="72.12" x2="734.26" y2="72.12" stroke="#8a8a8a" stroke-width="1.0" />
<line x1="418.9" y1="65.22" x2="422.5" y2="65.22" stroke="#2a2a2a" stroke-width="1.0" />
<line x1="732.82" y1="65.22" x2="734.26" y2="65.22" stroke="#8a8a8a" stroke-width="1.0" />
<line x1="418.9" y1="58.31" x2="422.5" y2="58.31" stroke="#2a2a2a" stroke-width="1.0" />
<line x1="732.82" y1="58.31" x2="734.26" y2="58.31" stroke="#8a8a8a" stroke-width="1.0" />
<line x1="418.9" y1="51.41" x2="422.5" y2="51.41" stroke="#2a2a2a" stroke-width="1.0" />
<line x1="732.82" y1="51.41" x2="734.26" y2="51.41" stroke="#8a8a8a" stroke-width="1.0" />
<line x1="417.7" y1="44.5" x2="423.7" y2="44.5" stroke="#2a2a2a" stroke-width="1.0" />
<line x1="731.86" y1="44.5" x2="734.26" y2="44.5" stroke="#8a8a8a" stroke-width="1.0" />
<text x="405.3" y="47.1" font-size="8.7" text-anchor="middle" stroke="#000" stroke-width="0.2" fill="#000" >500</text>
<line x1="420.7" y1="44.5" x2="420.7" y2="234.9" stroke="#2a2a2a" stroke-width="1.0" />
<line x1="420.2" y1="234.4" x2="734.76" y2="234.4" stroke="#2a2a2a" stroke-width="1.0" />
<text x="433" y="57.2" font-size="8.2" text-anchor="middle" stroke="#000" stroke-width="0.3" fill="#000" >0 nM</text>
<text x="466.7" y="57.2" font-size="8.2" text-anchor="middle" stroke="#000" stroke-width="0.3" fill="#000" >1 nM</text>
<text x="513.7" y="57.2" font-size="8.2" text-anchor="middle" stroke="#000" stroke-width="0.3" fill="#000" >3 nM</text>
<text x="559.5" y="57.2" font-size="8.2" text-anchor="middle" stroke="#000" stroke-width="0.3" fill="#000" >5 nM</text>
<text x="638.6" y="57.2" font-size="8.2" text-anchor="middle" stroke="#000" stroke-width="0.3" fill="#000" >0 nM</text>
<text x="390.3" y="139.45" font-size="9.0" text-anchor="middle" font-weight="bold" fill="#000" transform="rotate(-90 390.3 139.45)">Signal (CPS) halflife corrected</text>
<text x="577.48" y="262.4" font-size="8.7" text-anchor="middle" font-weight="bold" fill="#000" >Time (Minutes)</text>
<text x="379.8" y="47.4" font-size="16" text-anchor="start" font-weight="bold" fill="#000" >b</text>
<line x1="55.18" y1="313.5" x2="55.18" y2="446.58" stroke="#6f9ce0" stroke-width="1.35" stroke-dasharray="4.8 4.6" stroke-dashoffset="2"/>
<line x1="82.32" y1="313.5" x2="82.32" y2="446.58" stroke="#6f9ce0" stroke-width="1.35" stroke-dasharray="4.8 4.6" stroke-dashoffset="2"/>
<line x1="132.46" y1="313.5" x2="132.46" y2="446.58" stroke="#6f9ce0" stroke-width="1.35" stroke-dasharray="4.8 4.6" stroke-dashoffset="2"/>
<line x1="190.55" y1="313.5" x2="190.55" y2="446.58" stroke="#6f9ce0" stroke-width="1.35" stroke-dasharray="4.8 4.6" stroke-dashoffset="2"/>
<polyline points="45.5,444.33 46.8,444.45 48.09,444.46 49.39,444.39 50.69,444.4 51.98,444.47 53.28,444.4 54.58,444.43 55.18,444.81 56.48,443.91 57.77,443.51 59.07,443.26 60.37,442.49 61.66,443.09 62.96,443.02 64.26,442.72 65.55,442.45 66.85,442.34 68.15,441.66 69.44,442.44 70.74,441.4 72.04,442.09 73.33,441.32 74.63,441.7 75.93,441.4 77.22,441.68 78.52,441.54 79.82,441.78 81.11,441.87 82.5,439.66 83.79,436.39 85.09,434.23 86.39,431.79 87.68,430.08 88.98,428.02 90.28,425.56 91.57,423.8 92.87,422.14 94.17,420.51 95.46,419.29 96.76,417.88 98.06,416.95 99.35,415.85 100.65,415.01 101.95,413.02 103.24,412.92 104.54,411.87 105.84,410.99 107.13,409.82 108.43,409.58 109.72,408.34 111.02,407.67 112.32,406.92 113.61,406.49 114.91,405.27 116.21,405.54 117.5,404.57 118.8,404.42 120.1,403.17 121.39,403.74 122.69,402.73 123.99,402.38 125.28,401.42 126.58,401.28 127.88,400.38 129.17,400.8 130.47,399.54 131.77,399.69 132.03,399.46 133.32,395.82 134.62,391.03 135.92,385.72 137.21,380.75 138.51,378.32 139.81,375.21 141.1,373.02 142.4,370.75 143.7,368.86 144.99,367.24 146.29,366.13 147.59,364.03 148.88,362.56 150.18,360.57 151.48,358.77 152.77,357.23 154.07,356.33 155.37,354.07 156.66,353.28 157.96,351.61 159.26,350.67 160.55,349.18 161.85,348.33 163.14,346.8 164.44,346.1 165.74,344.91 167.03,344.03 168.33,343.34 169.63,342.28 170.92,341.15 172.22,340.52 173.52,339.77 174.81,338.45 176.11,337.75 177.41,337.47 178.7,336.71 180,335.87 181.3,334.79 182.59,334.54 183.89,333.44 185.19,333.17 186.48,331.93 187.78,332.02 189.08,331.06 190.37,330.45 190.55,329.76 191.84,331.76 193.14,332.21 194.44,333.2 195.73,333.28 197.03,334.82 198.33,335.13 199.62,335.86 200.92,336.06 202.22,336.38 203.51,336.25 204.81,336.93 206.11,336.76 207.4,336.8 208.7,336.45 210,337.01 211.29,337.26 212.59,337.35 213.89,336.96 215.18,337.49 216.48,337.49 217.77,338.15 219.07,337.61 220.37,338.24 221.66,338.28 222.96,338.56 224.26,337.92 225.55,338.53 226.85,338.07 228.15,338.8 229.44,338.34 230.74,339.09 232.04,338.78 233.33,338.4 234.63,338.7 235.93,339.32 237.22,338.99 238.52,339.24 239.82,338.89 241.11,339.61 242.41,339.6 243.71,339.55 245,339.39 246.3,339.57 247.6,339.06 248.89,339.73 250.19,339.41" fill="none" stroke="#111" stroke-width="0.75" stroke-linejoin="round"/>
<polyline points="45.5,444.4 55.18,444.4 55.18,442.39 82.5,439.21 82.5,439.21 82.93,438.71 83.36,438.2 83.79,437.7 84.23,437.2 84.66,436.7 85.09,436.21 85.52,435.71 85.95,435.21 86.39,434.72 86.82,434.22 87.25,433.73 87.68,433.23 88.11,432.74 88.55,432.25 88.98,431.76 89.41,431.26 89.84,430.77 90.28,430.28 90.71,429.8 91.14,429.31 91.57,428.82 92,428.34 92.44,427.85 92.87,427.36 93.3,426.88 93.73,426.4 94.17,425.91 94.6,425.43 95.03,424.95 95.46,424.47 95.89,423.99 96.33,423.51 96.76,423.03 97.19,422.56 97.62,422.08 98.06,421.6 98.49,421.12 98.92,420.64 99.35,420.16 99.78,419.68 100.22,419.2 100.65,418.72 101.08,418.23 101.51,417.75 101.95,417.27 102.38,416.79 102.81,416.32 103.24,415.84 103.67,415.36 104.11,414.89 104.54,414.42 104.97,413.95 105.4,413.48 105.84,413.02 106.27,412.56 106.7,412.1 107.13,411.64 107.56,411.19 108,410.75 108.43,410.3 108.86,409.86 109.29,409.43 109.72,409 110.16,408.57 110.59,408.15 111.02,407.73 111.45,407.32 111.89,406.91 112.32,406.5 112.75,406.1 113.18,405.69 113.61,405.29 114.05,404.9 114.48,404.51 114.91,404.11 115.34,403.73 115.78,403.34 116.21,402.96 116.64,402.58 117.07,402.2 117.5,401.82 117.94,401.45 118.37,401.07 118.8,400.7 119.23,400.33 119.67,399.96 120.1,399.6 120.53,399.23 120.96,398.87 121.39,398.51 121.83,398.15 122.26,397.79 122.69,397.44 123.12,397.08 123.56,396.73 123.99,396.38 124.42,396.03 124.85,395.68 125.28,395.33 125.72,394.99 126.15,394.65 126.58,394.31 127.01,393.97 127.45,393.63 127.88,393.3 128.31,392.96 128.74,392.63 129.17,392.3 129.61,391.98 130.04,391.65 130.47,391.33 130.9,391.01 131.33,390.69 131.77,390.37 132.2,390.05 132.29,389.99 132.29,389.99 132.72,389.19 133.15,388.4 133.58,387.6 134.01,386.82 134.45,386.04 134.88,385.27 135.31,384.51 135.74,383.75 136.18,383 136.61,382.27 137.04,381.54 137.47,380.83 137.9,380.13 138.34,379.44 138.77,378.76 139.2,378.1 139.63,377.45 140.07,376.82 140.5,376.2 140.93,375.6 141.36,375 141.79,374.42 142.23,373.84 142.66,373.26 143.09,372.7 143.52,372.14 143.96,371.59 144.39,371.04 144.82,370.5 145.25,369.97 145.68,369.44 146.12,368.92 146.55,368.41 146.98,367.9 147.41,367.39 147.84,366.89 148.28,366.39 148.71,365.9 149.14,365.41 149.57,364.93 150.01,364.45 150.44,363.97 150.87,363.5 151.3,363.02 151.73,362.56 152.17,362.09 152.6,361.63 153.03,361.16 153.46,360.7 153.9,360.25 154.33,359.79 154.76,359.33 155.19,358.88 155.62,358.43 156.06,357.97 156.49,357.52 156.92,357.07 157.35,356.61 157.79,356.16 158.22,355.71 158.65,355.26 159.08,354.81 159.51,354.37 159.95,353.92 160.38,353.48 160.81,353.03 161.24,352.59 161.68,352.15 162.11,351.72 162.54,351.28 162.97,350.85 163.4,350.42 163.84,349.99 164.27,349.57 164.7,349.14 165.13,348.72 165.57,348.31 166,347.89 166.43,347.48 166.86,347.08 167.29,346.68 167.73,346.28 168.16,345.88 168.59,345.49 169.02,345.1 169.45,344.72 169.89,344.34 170.32,343.97 170.75,343.6 171.18,343.24 171.62,342.88 172.05,342.53 172.48,342.18 172.91,341.83 173.34,341.5 173.78,341.16 174.21,340.84 174.64,340.51 175.07,340.19 175.51,339.87 175.94,339.55 176.37,339.23 176.8,338.92 177.23,338.61 177.67,338.3 178.1,337.99 178.53,337.69 178.96,337.39 179.4,337.09 179.83,336.8 180.26,336.5 180.69,336.21 181.12,335.93 181.56,335.64 181.99,335.36 182.42,335.08 182.85,334.81 183.29,334.54 183.72,334.27 184.15,334.01 184.58,333.74 185.01,333.49 185.45,333.23 185.88,332.98 186.31,332.73 186.74,332.49 187.18,332.25 187.61,332.01 188.04,331.77 188.47,331.54 188.9,331.32 189.34,331.1 189.77,330.88 190.2,330.66 190.55,330.5 190.55,330.5 251.05,341.91" fill="none" stroke="#e32b25" stroke-width="0.95" stroke-linejoin="round"/>
<line x1="45.5" y1="313.5" x2="261.6" y2="313.5" stroke="#8a8a8a" stroke-width="0.85" />
<line x1="261.6" y1="313.5" x2="261.6" y2="446.58" stroke="#8a8a8a" stroke-width="0.85" />
<line x1="45.5" y1="444.18" x2="45.5" y2="448.98" stroke="#2a2a2a" stroke-width="0.85" />
<line x1="45.5" y1="313.5" x2="45.5" y2="315.42" stroke="#8a8a8a" stroke-width="0.85" />
<text x="45.5" y="456.6" font-size="6.2" text-anchor="middle" fill="#333" >0</text>
<line x1="54.14" y1="445.08" x2="54.14" y2="447.48" stroke="#2a2a2a" stroke-width="0.85" />
<line x1="54.14" y1="313.5" x2="54.14" y2="314.7" stroke="#8a8a8a" stroke-width="0.85" />
<line x1="62.79" y1="445.08" x2="62.79" y2="447.48" stroke="#2a2a2a" stroke-width="0.85" />
<line x1="62.79" y1="313.5" x2="62.79" y2="314.7" stroke="#8a8a8a" stroke-width="0.85" />
<line x1="71.43" y1="445.08" x2="71.43" y2="447.48" stroke="#2a2a2a" stroke-width="0.85" />
<line x1="71.43" y1="313.5" x2="71.43" y2="314.7" stroke="#8a8a8a" stroke-width="0.85" />
<line x1="80.08" y1="445.08" x2="80.08" y2="447.48" stroke="#2a2a2a" stroke-width="0.85" />
<line x1="80.08" y1="313.5" x2="80.08" y2="314.7" stroke="#8a8a8a" stroke-width="0.85" />
<line x1="88.72" y1="444.18" x2="88.72" y2="448.98" stroke="#2a2a2a" stroke-width="0.85" />
<line x1="88.72" y1="313.5" x2="88.72" y2="315.42" stroke="#8a8a8a" stroke-width="0.85" />
<text x="88.72" y="456.6" font-size="6.2" text-anchor="middle" fill="#333" >50</text>
<line x1="97.36" y1="445.08" x2="97.36" y2="447.48" stroke="#2a2a2a" stroke-width="0.85" />
<line x1="97.36" y1="313.5" x2="97.36" y2="314.7" stroke="#8a8a8a" stroke-width="0.85" />
<line x1="106.01" y1="445.08" x2="106.01" y2="447.48" stroke="#2a2a2a" stroke-width="0.85" />
<line x1="106.01" y1="313.5" x2="106.01" y2="314.7" stroke="#8a8a8a" stroke-width="0.85" />
<line x1="114.65" y1="445.08" x2="114.65" y2="447.48" stroke="#2a2a2a" stroke-width="0.85" />
<line x1="114.65" y1="313.5" x2="114.65" y2="314.7" stroke="#8a8a8a" stroke-width="0.85" />
<line x1="123.3" y1="445.08" x2="123.3" y2="447.48" stroke="#2a2a2a" stroke-width="0.85" />
<line x1="123.3" y1="313.5" x2="123.3" y2="314.7" stroke="#8a8a8a" stroke-width="0.85" />
<line x1="131.94" y1="444.18" x2="131.94" y2="448.98" stroke="#2a2a2a" stroke-width="0.85" />
<line x1="131.94" y1="313.5" x2="131.94" y2="315.42" stroke="#8a8a8a" stroke-width="0.85" />
<text x="131.94" y="456.6" font-size="6.2" text-anchor="middle" fill="#333" >100</text>
<line x1="140.58" y1="445.08" x2="140.58" y2="447.48" stroke="#2a2a2a" stroke-width="0.85" />
<line x1="140.58" y1="313.5" x2="140.58" y2="314.7" stroke="#8a8a8a" stroke-width="0.85" />
<line x1="149.23" y1="445.08" x2="149.23" y2="447.48" stroke="#2a2a2a" stroke-width="0.85" />
<line x1="149.23" y1="313.5" x2="149.23" y2="314.7" stroke="#8a8a8a" stroke-width="0.85" />
<line x1="157.87" y1="445.08" x2="157.87" y2="447.48" stroke="#2a2a2a" stroke-width="0.85" />
<line x1="157.87" y1="313.5" x2="157.87" y2="314.7" stroke="#8a8a8a" stroke-width="0.85" />
<line x1="166.52" y1="445.08" x2="166.52" y2="447.48" stroke="#2a2a2a" stroke-width="0.85" />
<line x1="166.52" y1="313.5" x2="166.52" y2="314.7" stroke="#8a8a8a" stroke-width="0.85" />
<line x1="175.16" y1="444.18" x2="175.16" y2="448.98" stroke="#2a2a2a" stroke-width="0.85" />
<line x1="175.16" y1="313.5" x2="175.16" y2="315.42" stroke="#8a8a8a" stroke-width="0.85" />
<text x="175.16" y="456.6" font-size="6.2" text-anchor="middle" fill="#333" >150</text>
<line x1="183.8" y1="445.08" x2="183.8" y2="447.48" stroke="#2a2a2a" stroke-width="0.85" />
<line x1="183.8" y1="313.5" x2="183.8" y2="314.7" stroke="#8a8a8a" stroke-width="0.85" />
<line x1="192.45" y1="445.08" x2="192.45" y2="447.48" stroke="#2a2a2a" stroke-width="0.85" />
<line x1="192.45" y1="313.5" x2="192.45" y2="314.7" stroke="#8a8a8a" stroke-width="0.85" />
<line x1="201.09" y1="445.08" x2="201.09" y2="447.48" stroke="#2a2a2a" stroke-width="0.85" />
<line x1="201.09" y1="313.5" x2="201.09" y2="314.7" stroke="#8a8a8a" stroke-width="0.85" />
<line x1="209.74" y1="445.08" x2="209.74" y2="447.48" stroke="#2a2a2a" stroke-width="0.85" />
<line x1="209.74" y1="313.5" x2="209.74" y2="314.7" stroke="#8a8a8a" stroke-width="0.85" />
<line x1="218.38" y1="444.18" x2="218.38" y2="448.98" stroke="#2a2a2a" stroke-width="0.85" />
<line x1="218.38" y1="313.5" x2="218.38" y2="315.42" stroke="#8a8a8a" stroke-width="0.85" />
<text x="218.38" y="456.6" font-size="6.2" text-anchor="middle" fill="#333" >200</text>
<line x1="227.02" y1="445.08" x2="227.02" y2="447.48" stroke="#2a2a2a" stroke-width="0.85" />
<line x1="227.02" y1="313.5" x2="227.02" y2="314.7" stroke="#8a8a8a" stroke-width="0.85" />
<line x1="235.67" y1="445.08" x2="235.67" y2="447.48" stroke="#2a2a2a" stroke-width="0.85" />
<line x1="235.67" y1="313.5" x2="235.67" y2="314.7" stroke="#8a8a8a" stroke-width="0.85" />
<line x1="244.31" y1="445.08" x2="244.31" y2="447.48" stroke="#2a2a2a" stroke-width="0.85" />
<line x1="244.31" y1="313.5" x2="244.31" y2="314.7" stroke="#8a8a8a" stroke-width="0.85" />
<line x1="252.96" y1="445.08" x2="252.96" y2="447.48" stroke="#2a2a2a" stroke-width="0.85" />
<line x1="252.96" y1="313.5" x2="252.96" y2="314.7" stroke="#8a8a8a" stroke-width="0.85" />
<line x1="261.6" y1="444.18" x2="261.6" y2="448.98" stroke="#2a2a2a" stroke-width="0.85" />
<line x1="261.6" y1="313.5" x2="261.6" y2="315.42" stroke="#8a8a8a" stroke-width="0.85" />
<text x="261.6" y="456.6" font-size="6.2" text-anchor="middle" fill="#333" >250</text>
<line x1="43.1" y1="444.4" x2="47.9" y2="444.4" stroke="#2a2a2a" stroke-width="0.85" />
<line x1="259.68" y1="444.4" x2="261.6" y2="444.4" stroke="#8a8a8a" stroke-width="0.85" />
<text x="33.5" y="446.4" font-size="6.2" text-anchor="middle" fill="#333" >0</text>
<line x1="44.6" y1="440.04" x2="47" y2="440.04" stroke="#2a2a2a" stroke-width="0.85" />
<line x1="260.4" y1="440.04" x2="261.6" y2="440.04" stroke="#8a8a8a" stroke-width="0.85" />
<line x1="44.6" y1="435.67" x2="47" y2="435.67" stroke="#2a2a2a" stroke-width="0.85" />
<line x1="260.4" y1="435.67" x2="261.6" y2="435.67" stroke="#8a8a8a" stroke-width="0.85" />
<line x1="44.6" y1="431.31" x2="47" y2="431.31" stroke="#2a2a2a" stroke-width="0.85" />
<line x1="260.4" y1="431.31" x2="261.6" y2="431.31" stroke="#8a8a8a" stroke-width="0.85" />
<line x1="44.6" y1="426.95" x2="47" y2="426.95" stroke="#2a2a2a" stroke-width="0.85" />
<line x1="260.4" y1="426.95" x2="261.6" y2="426.95" stroke="#8a8a8a" stroke-width="0.85" />
<line x1="43.1" y1="422.58" x2="47.9" y2="422.58" stroke="#2a2a2a" stroke-width="0.85" />
<line x1="259.68" y1="422.58" x2="261.6" y2="422.58" stroke="#8a8a8a" stroke-width="0.85" />
<text x="33.5" y="424.58" font-size="6.2" text-anchor="middle" fill="#333" >1000</text>
<line x1="44.6" y1="418.22" x2="47" y2="418.22" stroke="#2a2a2a" stroke-width="0.85" />
<line x1="260.4" y1="418.22" x2="261.6" y2="418.22" stroke="#8a8a8a" stroke-width="0.85" />
<line x1="44.6" y1="413.86" x2="47" y2="413.86" stroke="#2a2a2a" stroke-width="0.85" />
<line x1="260.4" y1="413.86" x2="261.6" y2="413.86" stroke="#8a8a8a" stroke-width="0.85" />
<line x1="44.6" y1="409.49" x2="47" y2="409.49" stroke="#2a2a2a" stroke-width="0.85" />
<line x1="260.4" y1="409.49" x2="261.6" y2="409.49" stroke="#8a8a8a" stroke-width="0.85" />
<line x1="44.6" y1="405.13" x2="47" y2="405.13" stroke="#2a2a2a" stroke-width="0.85" />
<line x1="260.4" y1="405.13" x2="261.6" y2="405.13" stroke="#8a8a8a" stroke-width="0.85" />
<line x1="43.1" y1="400.77" x2="47.9" y2="400.77" stroke="#2a2a2a" stroke-width="0.85" />
<line x1="259.68" y1="400.77" x2="261.6" y2="400.77" stroke="#8a8a8a" stroke-width="0.85" />
<text x="33.5" y="402.77" font-size="6.2" text-anchor="middle" fill="#333" >2000</text>
<line x1="44.6" y1="396.4" x2="47" y2="396.4" stroke="#2a2a2a" stroke-width="0.85" />
<line x1="260.4" y1="396.4" x2="261.6" y2="396.4" stroke="#8a8a8a" stroke-width="0.85" />
<line x1="44.6" y1="392.04" x2="47" y2="392.04" stroke="#2a2a2a" stroke-width="0.85" />
<line x1="260.4" y1="392.04" x2="261.6" y2="392.04" stroke="#8a8a8a" stroke-width="0.85" />
<line x1="44.6" y1="387.68" x2="47" y2="387.68" stroke="#2a2a2a" stroke-width="0.85" />
<line x1="260.4" y1="387.68" x2="261.6" y2="387.68" stroke="#8a8a8a" stroke-width="0.85" />
<line x1="44.6" y1="383.31" x2="47" y2="383.31" stroke="#2a2a2a" stroke-width="0.85" />
<line x1="260.4" y1="383.31" x2="261.6" y2="383.31" stroke="#8a8a8a" stroke-width="0.85" />
<line x1="43.1" y1="378.95" x2="47.9" y2="378.95" stroke="#2a2a2a" stroke-width="0.85" />
<line x1="259.68" y1="378.95" x2="261.6" y2="378.95" stroke="#8a8a8a" stroke-width="0.85" />
<text x="33.5" y="380.95" font-size="6.2" text-anchor="middle" fill="#333" >3000</text>
<line x1="44.6" y1="374.59" x2="47" y2="374.59" stroke="#2a2a2a" stroke-width="0.85" />
<line x1="260.4" y1="374.59" x2="261.6" y2="374.59" stroke="#8a8a8a" stroke-width="0.85" />
<line x1="44.6" y1="370.22" x2="47" y2="370.22" stroke="#2a2a2a" stroke-width="0.85" />
<line x1="260.4" y1="370.22" x2="261.6" y2="370.22" stroke="#8a8a8a" stroke-width="0.85" />
<line x1="44.6" y1="365.86" x2="47" y2="365.86" stroke="#2a2a2a" stroke-width="0.85" />
<line x1="260.4" y1="365.86" x2="261.6" y2="365.86" stroke="#8a8a8a" stroke-width="0.85" />
<line x1="44.6" y1="361.5" x2="47" y2="361.5" stroke="#2a2a2a" stroke-width="0.85" />
<line x1="260.4" y1="361.5" x2="261.6" y2="361.5" stroke="#8a8a8a" stroke-width="0.85" />
<line x1="43.1" y1="357.13" x2="47.9" y2="357.13" stroke="#2a2a2a" stroke-width="0.85" />
<line x1="259.68" y1="357.13" x2="261.6" y2="357.13" stroke="#8a8a8a" stroke-width="0.85" />
<text x="33.5" y="359.13" font-size="6.2" text-anchor="middle" fill="#333" >4000</text>
<line x1="44.6" y1="352.77" x2="47" y2="352.77" stroke="#2a2a2a" stroke-width="0.85" />
<line x1="260.4" y1="352.77" x2="261.6" y2="352.77" stroke="#8a8a8a" stroke-width="0.85" />
<line x1="44.6" y1="348.41" x2="47" y2="348.41" stroke="#2a2a2a" stroke-width="0.85" />
<line x1="260.4" y1="348.41" x2="261.6" y2="348.41" stroke="#8a8a8a" stroke-width="0.85" />
<line x1="44.6" y1="344.04" x2="47" y2="344.04" stroke="#2a2a2a" stroke-width="0.85" />
<line x1="260.4" y1="344.04" x2="261.6" y2="344.04" stroke="#8a8a8a" stroke-width="0.85" />
<line x1="44.6" y1="339.68" x2="47" y2="339.68" stroke="#2a2a2a" stroke-width="0.85" />
<line x1="260.4" y1="339.68" x2="261.6" y2="339.68" stroke="#8a8a8a" stroke-width="0.85" />
<line x1="43.1" y1="335.32" x2="47.9" y2="335.32" stroke="#2a2a2a" stroke-width="0.85" />
<line x1="259.68" y1="335.32" x2="261.6" y2="335.32" stroke="#8a8a8a" stroke-width="0.85" />
<text x="33.5" y="337.32" font-size="6.2" text-anchor="middle" fill="#333" >5000</text>
<line x1="44.6" y1="330.95" x2="47" y2="330.95" stroke="#2a2a2a" stroke-width="0.85" />
<line x1="260.4" y1="330.95" x2="261.6" y2="330.95" stroke="#8a8a8a" stroke-width="0.85" />
<line x1="44.6" y1="326.59" x2="47" y2="326.59" stroke="#2a2a2a" stroke-width="0.85" />
<line x1="260.4" y1="326.59" x2="261.6" y2="326.59" stroke="#8a8a8a" stroke-width="0.85" />
<line x1="44.6" y1="322.23" x2="47" y2="322.23" stroke="#2a2a2a" stroke-width="0.85" />
<line x1="260.4" y1="322.23" x2="261.6" y2="322.23" stroke="#8a8a8a" stroke-width="0.85" />
<line x1="44.6" y1="317.86" x2="47" y2="317.86" stroke="#2a2a2a" stroke-width="0.85" />
<line x1="260.4" y1="317.86" x2="261.6" y2="317.86" stroke="#8a8a8a" stroke-width="0.85" />
<line x1="43.1" y1="313.5" x2="47.9" y2="313.5" stroke="#2a2a2a" stroke-width="0.85" />
<line x1="259.68" y1="313.5" x2="261.6" y2="313.5" stroke="#8a8a8a" stroke-width="0.85" />
<text x="33.5" y="315.5" font-size="6.2" text-anchor="middle" fill="#333" >6000</text>
<line x1="45.5" y1="313.5" x2="45.5" y2="447.08" stroke="#2a2a2a" stroke-width="0.85" />
<line x1="45" y1="446.58" x2="262.1" y2="446.58" stroke="#2a2a2a" stroke-width="0.85" />
<text x="68.3" y="324.8" font-size="8.2" text-anchor="middle" stroke="#000" stroke-width="0.3" fill="#000" >1 nM</text>
<text x="107.1" y="324.8" font-size="8.2" text-anchor="middle" stroke="#000" stroke-width="0.3" fill="#000" >10 nM</text>
<text x="158.7" y="324.8" font-size="8.2" text-anchor="middle" stroke="#000" stroke-width="0.3" fill="#000" >20 nM</text>
<text x="218.4" y="324.8" font-size="8.2" text-anchor="middle" stroke="#000" stroke-width="0.3" fill="#000" >0 nM</text>
<text x="44.8" y="309.9" font-size="8.2" text-anchor="start" stroke="#000" stroke-width="0.3" fill="#000" >0 nM</text>
<line x1="50" y1="317.8" x2="52.3" y2="312" stroke="#111" stroke-width="0.9" />
<text x="21.4" y="380.04" font-size="6.3" text-anchor="middle" font-weight="bold" fill="#000" transform="rotate(-90 21.4 380.04)">Signal (CPS) halflife corrected</text>
<text x="153.55" y="466.1" font-size="6.2" text-anchor="middle" font-weight="bold" fill="#000" >Time (Minutes)</text>
<text x="6.9" y="314.5" font-size="16" text-anchor="start" font-weight="bold" fill="#000" >c</text>
<line x1="321.11" y1="313.5" x2="321.11" y2="446.58" stroke="#6f9ce0" stroke-width="1.35" stroke-dasharray="4.8 4.6" stroke-dashoffset="2"/>
<line x1="348.25" y1="313.5" x2="348.25" y2="446.58" stroke="#6f9ce0" stroke-width="1.35" stroke-dasharray="4.8 4.6" stroke-dashoffset="2"/>
<line x1="397.95" y1="313.5" x2="397.95" y2="446.58" stroke="#6f9ce0" stroke-width="1.35" stroke-dasharray="4.8 4.6" stroke-dashoffset="2"/>
<line x1="456.47" y1="313.5" x2="456.47" y2="446.58" stroke="#6f9ce0" stroke-width="1.35" stroke-dasharray="4.8 4.6" stroke-dashoffset="2"/>
<polyline points="310.3,444.34 311.6,444.32 312.89,444.37 314.19,444.44 315.49,444.42 316.78,444.4 318.08,444.38 319.38,444.36 320.67,444.38 321.11,444.11 322.4,444.32 323.7,443.94 324.99,443.01 326.29,443.3 327.59,442.98 328.88,442.86 330.18,442.68 331.48,442.24 332.77,441.27 334.07,441.75 335.37,441.8 336.66,441.89 337.96,441.45 339.26,441.09 340.55,441.18 341.85,441.42 343.15,440.64 344.44,440.81 345.74,440.72 347.04,441.02 348.25,440.83 349.54,438.01 350.84,435.61 352.14,432.59 353.43,430.32 354.73,428.26 356.03,425.89 357.32,424.91 358.62,423.74 359.92,421.97 361.21,420.19 362.51,419.65 363.81,418.3 365.1,417.07 366.4,416.08 367.7,414.63 368.99,414.38 370.29,413.27 371.59,411.88 372.88,411.21 374.18,409.93 375.48,409.46 376.77,408.49 378.07,407.48 379.37,407.32 380.66,406.33 381.96,405.44 383.26,404.85 384.55,403.87 385.85,403.75 387.15,402.86 388.44,402.2 389.74,401.59 391.03,401.58 392.33,400.25 393.63,400.07 394.92,400.24 396.22,399.62 397.52,398.57 397.95,399.16 399.25,394.77 400.54,390.9 401.84,386.99 403.14,383.55 404.43,380.22 405.73,377.26 407.03,374.62 408.32,372.35 409.62,369.95 410.92,367.74 412.21,365.51 413.51,363.77 414.81,361.47 416.1,360.3 417.4,358.45 418.7,357.3 419.99,355.72 421.29,354.7 422.59,353.2 423.88,351.94 425.18,350.83 426.48,349.31 427.77,348.25 429.07,347.64 430.37,346.26 431.66,345.48 432.96,344.12 434.25,343.52 435.55,341.93 436.85,341.74 438.14,341.05 439.44,340.2 440.74,339.3 442.03,338.42 443.33,337.01 444.63,336.61 445.92,336.09 447.22,335.53 448.52,333.97 449.81,334.05 451.11,333.17 452.41,332.6 453.7,331.5 455,331.47 456.3,331.04 456.47,331.08 457.77,331.37 459.06,332.37 460.36,332.56 461.66,332.98 462.95,333.53 464.25,333.84 465.55,334.02 466.84,333.95 468.14,334.83 469.44,335.19 470.73,335.25 472.03,335.56 473.33,335.43 474.62,336.29 475.92,336.41 477.22,337.06 478.51,336.78 479.81,336.9 481.11,336.97 482.4,337.66 483.7,337.39 485,337.75 486.29,337.54 487.59,338.27 488.89,337.98 490.18,338.72 491.48,338.57 492.77,338.3 494.07,339.1 495.37,338.92 496.66,338.61 497.96,339.13 499.26,339.24 500.55,339.31 501.85,339.27 503.15,339.57 504.44,339.85 505.74,339.75 507.04,339.86 508.33,340.1 509.63,339.63 510.93,339.9 512.22,339.7 513.52,340.29 514.82,339.7" fill="none" stroke="#111" stroke-width="0.55" stroke-linejoin="round"/>
<polyline points="310.3,444.4 321.11,444.4 321.11,444.4 321.54,444.28 321.97,444.16 322.4,444.04 322.83,443.92 323.27,443.81 323.7,443.69 324.13,443.58 324.56,443.48 324.99,443.37 325.43,443.27 325.86,443.18 326.29,443.08 326.72,442.99 327.16,442.91 327.59,442.83 328.02,442.75 328.45,442.68 328.88,442.6 329.32,442.53 329.75,442.46 330.18,442.39 330.61,442.33 331.05,442.26 331.48,442.2 331.91,442.14 332.34,442.08 332.77,442.02 333.21,441.97 333.64,441.91 334.07,441.86 334.5,441.8 334.94,441.75 335.37,441.7 335.8,441.65 336.23,441.61 336.66,441.56 337.1,441.52 337.53,441.47 337.96,441.42 338.39,441.38 338.83,441.34 339.26,441.29 339.69,441.25 340.12,441.21 340.55,441.17 340.99,441.13 341.42,441.09 341.85,441.05 342.28,441.01 342.72,440.97 343.15,440.93 343.58,440.9 344.01,440.86 344.44,440.83 344.88,440.8 345.31,440.77 345.74,440.74 346.17,440.71 346.6,440.68 347.04,440.65 347.47,440.63 347.9,440.6 348.25,440.58 348.25,440.58 348.68,439.64 349.11,438.71 349.54,437.8 349.98,436.91 350.41,436.03 350.84,435.19 351.27,434.35 351.7,433.52 352.14,432.7 352.57,431.88 353,431.09 353.43,430.33 353.87,429.6 354.3,428.9 354.73,428.26 355.16,427.65 355.59,427.08 356.03,426.53 356.46,426.01 356.89,425.5 357.32,425.01 357.76,424.52 358.19,424.04 358.62,423.55 359.05,423.07 359.48,422.58 359.92,422.1 360.35,421.62 360.78,421.14 361.21,420.68 361.65,420.22 362.08,419.77 362.51,419.34 362.94,418.92 363.37,418.52 363.81,418.13 364.24,417.74 364.67,417.36 365.1,416.99 365.54,416.62 365.97,416.26 366.4,415.9 366.83,415.54 367.26,415.2 367.7,414.85 368.13,414.51 368.56,414.17 368.99,413.84 369.42,413.52 369.86,413.19 370.29,412.87 370.72,412.56 371.15,412.25 371.59,411.94 372.02,411.64 372.45,411.34 372.88,411.04 373.31,410.75 373.75,410.46 374.18,410.17 374.61,409.89 375.04,409.6 375.48,409.33 375.91,409.05 376.34,408.78 376.77,408.5 377.2,408.23 377.64,407.96 378.07,407.69 378.5,407.43 378.93,407.17 379.37,406.91 379.8,406.65 380.23,406.4 380.66,406.15 381.09,405.9 381.53,405.65 381.96,405.41 382.39,405.18 382.82,404.95 383.26,404.72 383.69,404.49 384.12,404.28 384.55,404.06 384.98,403.85 385.42,403.65 385.85,403.45 386.28,403.25 386.71,403.07 387.15,402.88 387.58,402.7 388.01,402.52 388.44,402.35 388.87,402.17 389.31,402 389.74,401.83 390.17,401.66 390.6,401.5 391.03,401.34 391.47,401.18 391.9,401.02 392.33,400.87 392.76,400.72 393.2,400.57 393.63,400.43 394.06,400.29 394.49,400.15 394.92,400.02 395.36,399.89 395.79,399.76 396.22,399.64 396.65,399.52 397.09,399.41 397.52,399.3 397.95,399.2 397.95,399.2 398.38,397.74 398.81,396.3 399.25,394.88 399.68,393.48 400.11,392.11 400.54,390.76 400.98,389.45 401.41,388.16 401.84,386.91 402.27,385.69 402.7,384.51 403.14,383.37 403.57,382.26 404,381.21 404.43,380.19 404.87,379.21 405.3,378.25 405.73,377.32 406.16,376.4 406.59,375.5 407.03,374.62 407.46,373.75 407.89,372.91 408.32,372.09 408.76,371.28 409.19,370.5 409.62,369.73 410.05,368.98 410.48,368.25 410.92,367.53 411.35,366.84 411.78,366.16 412.21,365.49 412.64,364.85 413.08,364.22 413.51,363.6 413.94,363 414.37,362.42 414.81,361.85 415.24,361.29 415.67,360.74 416.1,360.2 416.53,359.68 416.97,359.17 417.4,358.66 417.83,358.17 418.26,357.69 418.7,357.21 419.13,356.74 419.56,356.28 419.99,355.83 420.42,355.38 420.86,354.94 421.29,354.51 421.72,354.08 422.15,353.65 422.59,353.23 423.02,352.81 423.45,352.39 423.88,351.98 424.31,351.57 424.75,351.17 425.18,350.76 425.61,350.37 426.04,349.97 426.48,349.58 426.91,349.2 427.34,348.81 427.77,348.43 428.2,348.06 428.64,347.69 429.07,347.32 429.5,346.96 429.93,346.6 430.37,346.25 430.8,345.9 431.23,345.55 431.66,345.21 432.09,344.88 432.53,344.54 432.96,344.22 433.39,343.89 433.82,343.58 434.25,343.26 434.69,342.95 435.12,342.65 435.55,342.35 435.98,342.06 436.42,341.77 436.85,341.49 437.28,341.21 437.71,340.92 438.14,340.65 438.58,340.37 439.01,340.09 439.44,339.82 439.87,339.55 440.31,339.28 440.74,339.01 441.17,338.75 441.6,338.48 442.03,338.22 442.47,337.96 442.9,337.7 443.33,337.45 443.76,337.2 444.2,336.95 444.63,336.7 445.06,336.45 445.49,336.21 445.92,335.97 446.36,335.73 446.79,335.5 447.22,335.27 447.65,335.04 448.09,334.81 448.52,334.59 448.95,334.37 449.38,334.16 449.81,333.94 450.25,333.73 450.68,333.53 451.11,333.32 451.54,333.12 451.98,332.93 452.41,332.73 452.84,332.54 453.27,332.36 453.7,332.18 454.14,332 454.57,331.82 455,331.65 455.43,331.49 455.86,331.33 456.3,331.17 456.47,331.11 456.47,331.11 456.9,331.26 457.33,331.42 457.77,331.58 458.2,331.74 458.63,331.89 459.06,332.04 459.5,332.19 459.93,332.34 460.36,332.49 460.79,332.64 461.22,332.78 461.66,332.93 462.09,333.07 462.52,333.21 462.95,333.34 463.39,333.48 463.82,333.61 464.25,333.74 464.68,333.86 465.11,333.99 465.55,334.11 465.98,334.23 466.41,334.34 466.84,334.45 467.28,334.56 467.71,334.66 468.14,334.77 468.57,334.86 469,334.96 469.44,335.05 469.87,335.14 470.3,335.24 470.73,335.33 471.16,335.41 471.6,335.5 472.03,335.59 472.46,335.67 472.89,335.76 473.33,335.84 473.76,335.92 474.19,336 474.62,336.08 475.05,336.16 475.49,336.24 475.92,336.32 476.35,336.39 476.78,336.46 477.22,336.54 477.65,336.61 478.08,336.68 478.51,336.75 478.94,336.82 479.38,336.88 479.81,336.95 480.24,337.01 480.67,337.08 481.11,337.14 481.54,337.2 481.97,337.26 482.4,337.32 482.83,337.38 483.27,337.43 483.7,337.49 484.13,337.54 484.56,337.59 485,337.65 485.43,337.7 485.86,337.75 486.29,337.79 486.72,337.84 487.16,337.89 487.59,337.94 488.02,337.98 488.45,338.03 488.89,338.08 489.32,338.12 489.75,338.17 490.18,338.21 490.61,338.26 491.05,338.31 491.48,338.35 491.91,338.4 492.34,338.44 492.77,338.49 493.21,338.53 493.64,338.57 494.07,338.62 494.5,338.66 494.94,338.7 495.37,338.75 495.8,338.79 496.23,338.83 496.66,338.87 497.1,338.91 497.53,338.95 497.96,338.99 498.39,339.03 498.83,339.07 499.26,339.11 499.69,339.15 500.12,339.18 500.55,339.22 500.99,339.26 501.42,339.29 501.85,339.33 502.28,339.37 502.72,339.4 503.15,339.43 503.58,339.47 504.01,339.5 504.44,339.53 504.88,339.56 505.31,339.59 505.74,339.62 506.17,339.65 506.61,339.68 507.04,339.71 507.47,339.74 507.9,339.76 508.33,339.79 508.77,339.81 509.2,339.84 509.63,339.86 510.06,339.88 510.5,339.9 510.93,339.92 511.36,339.95 511.79,339.96 512.22,339.98 512.66,340 513.09,340.02 513.52,340.03 513.95,340.05 514.38,340.06 514.82,340.07 515.25,340.09 515.6,340.09" fill="none" stroke="#e32b25" stroke-width="1.0" stroke-linejoin="round"/>
<line x1="310.3" y1="313.5" x2="526.4" y2="313.5" stroke="#8a8a8a" stroke-width="0.85" />
<line x1="526.4" y1="313.5" x2="526.4" y2="446.58" stroke="#8a8a8a" stroke-width="0.85" />
<line x1="310.3" y1="444.18" x2="310.3" y2="448.98" stroke="#2a2a2a" stroke-width="0.85" />
<line x1="310.3" y1="313.5" x2="310.3" y2="315.42" stroke="#8a8a8a" stroke-width="0.85" />
<text x="310.3" y="456.6" font-size="6.2" text-anchor="middle" fill="#333" >0</text>
<line x1="318.94" y1="445.08" x2="318.94" y2="447.48" stroke="#2a2a2a" stroke-width="0.85" />
<line x1="318.94" y1="313.5" x2="318.94" y2="314.7" stroke="#8a8a8a" stroke-width="0.85" />
<line x1="327.59" y1="445.08" x2="327.59" y2="447.48" stroke="#2a2a2a" stroke-width="0.85" />
<line x1="327.59" y1="313.5" x2="327.59" y2="314.7" stroke="#8a8a8a" stroke-width="0.85" />
<line x1="336.23" y1="445.08" x2="336.23" y2="447.48" stroke="#2a2a2a" stroke-width="0.85" />
<line x1="336.23" y1="313.5" x2="336.23" y2="314.7" stroke="#8a8a8a" stroke-width="0.85" />
<line x1="344.88" y1="445.08" x2="344.88" y2="447.48" stroke="#2a2a2a" stroke-width="0.85" />
<line x1="344.88" y1="313.5" x2="344.88" y2="314.7" stroke="#8a8a8a" stroke-width="0.85" />
<line x1="353.52" y1="444.18" x2="353.52" y2="448.98" stroke="#2a2a2a" stroke-width="0.85" />
<line x1="353.52" y1="313.5" x2="353.52" y2="315.42" stroke="#8a8a8a" stroke-width="0.85" />
<text x="353.52" y="456.6" font-size="6.2" text-anchor="middle" fill="#333" >50</text>
<line x1="362.16" y1="445.08" x2="362.16" y2="447.48" stroke="#2a2a2a" stroke-width="0.85" />
<line x1="362.16" y1="313.5" x2="362.16" y2="314.7" stroke="#8a8a8a" stroke-width="0.85" />
<line x1="370.81" y1="445.08" x2="370.81" y2="447.48" stroke="#2a2a2a" stroke-width="0.85" />
<line x1="370.81" y1="313.5" x2="370.81" y2="314.7" stroke="#8a8a8a" stroke-width="0.85" />
<line x1="379.45" y1="445.08" x2="379.45" y2="447.48" stroke="#2a2a2a" stroke-width="0.85" />
<line x1="379.45" y1="313.5" x2="379.45" y2="314.7" stroke="#8a8a8a" stroke-width="0.85" />
<line x1="388.1" y1="445.08" x2="388.1" y2="447.48" stroke="#2a2a2a" stroke-width="0.85" />
<line x1="388.1" y1="313.5" x2="388.1" y2="314.7" stroke="#8a8a8a" stroke-width="0.85" />
<line x1="396.74" y1="444.18" x2="396.74" y2="448.98" stroke="#2a2a2a" stroke-width="0.85" />
<line x1="396.74" y1="313.5" x2="396.74" y2="315.42" stroke="#8a8a8a" stroke-width="0.85" />
<text x="396.74" y="456.6" font-size="6.2" text-anchor="middle" fill="#333" >100</text>
<line x1="405.38" y1="445.08" x2="405.38" y2="447.48" stroke="#2a2a2a" stroke-width="0.85" />
<line x1="405.38" y1="313.5" x2="405.38" y2="314.7" stroke="#8a8a8a" stroke-width="0.85" />
<line x1="414.03" y1="445.08" x2="414.03" y2="447.48" stroke="#2a2a2a" stroke-width="0.85" />
<line x1="414.03" y1="313.5" x2="414.03" y2="314.7" stroke="#8a8a8a" stroke-width="0.85" />
<line x1="422.67" y1="445.08" x2="422.67" y2="447.48" stroke="#2a2a2a" stroke-width="0.85" />
<line x1="422.67" y1="313.5" x2="422.67" y2="314.7" stroke="#8a8a8a" stroke-width="0.85" />
<line x1="431.32" y1="445.08" x2="431.32" y2="447.48" stroke="#2a2a2a" stroke-width="0.85" />
<line x1="431.32" y1="313.5" x2="431.32" y2="314.7" stroke="#8a8a8a" stroke-width="0.85" />
<line x1="439.96" y1="444.18" x2="439.96" y2="448.98" stroke="#2a2a2a" stroke-width="0.85" />
<line x1="439.96" y1="313.5" x2="439.96" y2="315.42" stroke="#8a8a8a" stroke-width="0.85" />
<text x="439.96" y="456.6" font-size="6.2" text-anchor="middle" fill="#333" >150</text>
<line x1="448.6" y1="445.08" x2="448.6" y2="447.48" stroke="#2a2a2a" stroke-width="0.85" />
<line x1="448.6" y1="313.5" x2="448.6" y2="314.7" stroke="#8a8a8a" stroke-width="0.85" />
<line x1="457.25" y1="445.08" x2="457.25" y2="447.48" stroke="#2a2a2a" stroke-width="0.85" />
<line x1="457.25" y1="313.5" x2="457.25" y2="314.7" stroke="#8a8a8a" stroke-width="0.85" />
<line x1="465.89" y1="445.08" x2="465.89" y2="447.48" stroke="#2a2a2a" stroke-width="0.85" />
<line x1="465.89" y1="313.5" x2="465.89" y2="314.7" stroke="#8a8a8a" stroke-width="0.85" />
<line x1="474.54" y1="445.08" x2="474.54" y2="447.48" stroke="#2a2a2a" stroke-width="0.85" />
<line x1="474.54" y1="313.5" x2="474.54" y2="314.7" stroke="#8a8a8a" stroke-width="0.85" />
<line x1="483.18" y1="444.18" x2="483.18" y2="448.98" stroke="#2a2a2a" stroke-width="0.85" />
<line x1="483.18" y1="313.5" x2="483.18" y2="315.42" stroke="#8a8a8a" stroke-width="0.85" />
<text x="483.18" y="456.6" font-size="6.2" text-anchor="middle" fill="#333" >200</text>
<line x1="491.82" y1="445.08" x2="491.82" y2="447.48" stroke="#2a2a2a" stroke-width="0.85" />
<line x1="491.82" y1="313.5" x2="491.82" y2="314.7" stroke="#8a8a8a" stroke-width="0.85" />
<line x1="500.47" y1="445.08" x2="500.47" y2="447.48" stroke="#2a2a2a" stroke-width="0.85" />
<line x1="500.47" y1="313.5" x2="500.47" y2="314.7" stroke="#8a8a8a" stroke-width="0.85" />
<line x1="509.11" y1="445.08" x2="509.11" y2="447.48" stroke="#2a2a2a" stroke-width="0.85" />
<line x1="509.11" y1="313.5" x2="509.11" y2="314.7" stroke="#8a8a8a" stroke-width="0.85" />
<line x1="517.76" y1="445.08" x2="517.76" y2="447.48" stroke="#2a2a2a" stroke-width="0.85" />
<line x1="517.76" y1="313.5" x2="517.76" y2="314.7" stroke="#8a8a8a" stroke-width="0.85" />
<line x1="526.4" y1="444.18" x2="526.4" y2="448.98" stroke="#2a2a2a" stroke-width="0.85" />
<line x1="526.4" y1="313.5" x2="526.4" y2="315.42" stroke="#8a8a8a" stroke-width="0.85" />
<text x="526.4" y="456.6" font-size="6.2" text-anchor="middle" fill="#333" >250</text>
<line x1="307.9" y1="444.4" x2="312.7" y2="444.4" stroke="#2a2a2a" stroke-width="0.85" />
<line x1="524.48" y1="444.4" x2="526.4" y2="444.4" stroke="#8a8a8a" stroke-width="0.85" />
<text x="298.5" y="446.4" font-size="6.2" text-anchor="middle" fill="#333" >0</text>
<line x1="309.4" y1="440.04" x2="311.8" y2="440.04" stroke="#2a2a2a" stroke-width="0.85" />
<line x1="525.2" y1="440.04" x2="526.4" y2="440.04" stroke="#8a8a8a" stroke-width="0.85" />
<line x1="309.4" y1="435.67" x2="311.8" y2="435.67" stroke="#2a2a2a" stroke-width="0.85" />
<line x1="525.2" y1="435.67" x2="526.4" y2="435.67" stroke="#8a8a8a" stroke-width="0.85" />
<line x1="309.4" y1="431.31" x2="311.8" y2="431.31" stroke="#2a2a2a" stroke-width="0.85" />
<line x1="525.2" y1="431.31" x2="526.4" y2="431.31" stroke="#8a8a8a" stroke-width="0.85" />
<line x1="309.4" y1="426.95" x2="311.8" y2="426.95" stroke="#2a2a2a" stroke-width="0.85" />
<line x1="525.2" y1="426.95" x2="526.4" y2="426.95" stroke="#8a8a8a" stroke-width="0.85" />
<line x1="307.9" y1="422.58" x2="312.7" y2="422.58" stroke="#2a2a2a" stroke-width="0.85" />
<line x1="524.48" y1="422.58" x2="526.4" y2="422.58" stroke="#8a8a8a" stroke-width="0.85" />
<text x="298.5" y="424.58" font-size="6.2" text-anchor="middle" fill="#333" >1000</text>
<line x1="309.4" y1="418.22" x2="311.8" y2="418.22" stroke="#2a2a2a" stroke-width="0.85" />
<line x1="525.2" y1="418.22" x2="526.4" y2="418.22" stroke="#8a8a8a" stroke-width="0.85" />
<line x1="309.4" y1="413.86" x2="311.8" y2="413.86" stroke="#2a2a2a" stroke-width="0.85" />
<line x1="525.2" y1="413.86" x2="526.4" y2="413.86" stroke="#8a8a8a" stroke-width="0.85" />
<line x1="309.4" y1="409.49" x2="311.8" y2="409.49" stroke="#2a2a2a" stroke-width="0.85" />
<line x1="525.2" y1="409.49" x2="526.4" y2="409.49" stroke="#8a8a8a" stroke-width="0.85" />
<line x1="309.4" y1="405.13" x2="311.8" y2="405.13" stroke="#2a2a2a" stroke-width="0.85" />
<line x1="525.2" y1="405.13" x2="526.4" y2="405.13" stroke="#8a8a8a" stroke-width="0.85" />
<line x1="307.9" y1="400.77" x2="312.7" y2="400.77" stroke="#2a2a2a" stroke-width="0.85" />
<line x1="524.48" y1="400.77" x2="526.4" y2="400.77" stroke="#8a8a8a" stroke-width="0.85" />
<text x="298.5" y="402.77" font-size="6.2" text-anchor="middle" fill="#333" >2000</text>
<line x1="309.4" y1="396.4" x2="311.8" y2="396.4" stroke="#2a2a2a" stroke-width="0.85" />
<line x1="525.2" y1="396.4" x2="526.4" y2="396.4" stroke="#8a8a8a" stroke-width="0.85" />
<line x1="309.4" y1="392.04" x2="311.8" y2="392.04" stroke="#2a2a2a" stroke-width="0.85" />
<line x1="525.2" y1="392.04" x2="526.4" y2="392.04" stroke="#8a8a8a" stroke-width="0.85" />
<line x1="309.4" y1="387.68" x2="311.8" y2="387.68" stroke="#2a2a2a" stroke-width="0.85" />
<line x1="525.2" y1="387.68" x2="526.4" y2="387.68" stroke="#8a8a8a" stroke-width="0.85" />
<line x1="309.4" y1="383.31" x2="311.8" y2="383.31" stroke="#2a2a2a" stroke-width="0.85" />
<line x1="525.2" y1="383.31" x2="526.4" y2="383.31" stroke="#8a8a8a" stroke-width="0.85" />
<line x1="307.9" y1="378.95" x2="312.7" y2="378.95" stroke="#2a2a2a" stroke-width="0.85" />
<line x1="524.48" y1="378.95" x2="526.4" y2="378.95" stroke="#8a8a8a" stroke-width="0.85" />
<text x="298.5" y="380.95" font-size="6.2" text-anchor="middle" fill="#333" >3000</text>
<line x1="309.4" y1="374.59" x2="311.8" y2="374.59" stroke="#2a2a2a" stroke-width="0.85" />
<line x1="525.2" y1="374.59" x2="526.4" y2="374.59" stroke="#8a8a8a" stroke-width="0.85" />
<line x1="309.4" y1="370.22" x2="311.8" y2="370.22" stroke="#2a2a2a" stroke-width="0.85" />
<line x1="525.2" y1="370.22" x2="526.4" y2="370.22" stroke="#8a8a8a" stroke-width="0.85" />
<line x1="309.4" y1="365.86" x2="311.8" y2="365.86" stroke="#2a2a2a" stroke-width="0.85" />
<line x1="525.2" y1="365.86" x2="526.4" y2="365.86" stroke="#8a8a8a" stroke-width="0.85" />
<line x1="309.4" y1="361.5" x2="311.8" y2="361.5" stroke="#2a2a2a" stroke-width="0.85" />
<line x1="525.2" y1="361.5" x2="526.4" y2="361.5" stroke="#8a8a8a" stroke-width="0.85" />
<line x1="307.9" y1="357.13" x2="312.7" y2="357.13" stroke="#2a2a2a" stroke-width="0.85" />
<line x1="524.48" y1="357.13" x2="526.4" y2="357.13" stroke="#8a8a8a" stroke-width="0.85" />
<text x="298.5" y="359.13" font-size="6.2" text-anchor="middle" fill="#333" >4000</text>
<line x1="309.4" y1="352.77" x2="311.8" y2="352.77" stroke="#2a2a2a" stroke-width="0.85" />
<line x1="525.2" y1="352.77" x2="526.4" y2="352.77" stroke="#8a8a8a" stroke-width="0.85" />
<line x1="309.4" y1="348.41" x2="311.8" y2="348.41" stroke="#2a2a2a" stroke-width="0.85" />
<line x1="525.2" y1="348.41" x2="526.4" y2="348.41" stroke="#8a8a8a" stroke-width="0.85" />
<line x1="309.4" y1="344.04" x2="311.8" y2="344.04" stroke="#2a2a2a" stroke-width="0.85" />
<line x1="525.2" y1="344.04" x2="526.4" y2="344.04" stroke="#8a8a8a" stroke-width="0.85" />
<line x1="309.4" y1="339.68" x2="311.8" y2="339.68" stroke="#2a2a2a" stroke-width="0.85" />
<line x1="525.2" y1="339.68" x2="526.4" y2="339.68" stroke="#8a8a8a" stroke-width="0.85" />
<line x1="307.9" y1="335.32" x2="312.7" y2="335.32" stroke="#2a2a2a" stroke-width="0.85" />
<line x1="524.48" y1="335.32" x2="526.4" y2="335.32" stroke="#8a8a8a" stroke-width="0.85" />
<text x="298.5" y="337.32" font-size="6.2" text-anchor="middle" fill="#333" >5000</text>
<line x1="309.4" y1="330.95" x2="311.8" y2="330.95" stroke="#2a2a2a" stroke-width="0.85" />
<line x1="525.2" y1="330.95" x2="526.4" y2="330.95" stroke="#8a8a8a" stroke-width="0.85" />
<line x1="309.4" y1="326.59" x2="311.8" y2="326.59" stroke="#2a2a2a" stroke-width="0.85" />
<line x1="525.2" y1="326.59" x2="526.4" y2="326.59" stroke="#8a8a8a" stroke-width="0.85" />
<line x1="309.4" y1="322.23" x2="311.8" y2="322.23" stroke="#2a2a2a" stroke-width="0.85" />
<line x1="525.2" y1="322.23" x2="526.4" y2="322.23" stroke="#8a8a8a" stroke-width="0.85" />
<line x1="309.4" y1="317.86" x2="311.8" y2="317.86" stroke="#2a2a2a" stroke-width="0.85" />
<line x1="525.2" y1="317.86" x2="526.4" y2="317.86" stroke="#8a8a8a" stroke-width="0.85" />
<line x1="307.9" y1="313.5" x2="312.7" y2="313.5" stroke="#2a2a2a" stroke-width="0.85" />
<line x1="524.48" y1="313.5" x2="526.4" y2="313.5" stroke="#8a8a8a" stroke-width="0.85" />
<text x="298.5" y="315.5" font-size="6.2" text-anchor="middle" fill="#333" >6000</text>
<line x1="310.3" y1="313.5" x2="310.3" y2="447.08" stroke="#2a2a2a" stroke-width="0.85" />
<line x1="309.8" y1="446.58" x2="526.9" y2="446.58" stroke="#2a2a2a" stroke-width="0.85" />
<text x="333" y="324.8" font-size="8.2" text-anchor="middle" stroke="#000" stroke-width="0.3" fill="#000" >1 nM</text>
<text x="371.7" y="324.8" font-size="8.2" text-anchor="middle" stroke="#000" stroke-width="0.3" fill="#000" >10 nM</text>
<text x="423.3" y="324.8" font-size="8.2" text-anchor="middle" stroke="#000" stroke-width="0.3" fill="#000" >20 nM</text>
<text x="483" y="324.8" font-size="8.2" text-anchor="middle" stroke="#000" stroke-width="0.3" fill="#000" >0 nM</text>
<text x="309.6" y="310" font-size="8.2" text-anchor="start" stroke="#000" stroke-width="0.3" fill="#000" >0 nM</text>
<line x1="315" y1="317.8" x2="317.3" y2="312" stroke="#111" stroke-width="0.9" />
<text x="286.2" y="380.04" font-size="6.3" text-anchor="middle" font-weight="bold" fill="#000" transform="rotate(-90 286.2 380.04)">Signal (CPS) halflife corrected</text>
<text x="418.35" y="466.1" font-size="6.2" text-anchor="middle" font-weight="bold" fill="#000" >Time (Minutes)</text>
<text x="276.3" y="314.5" font-size="16" text-anchor="start" font-weight="bold" fill="#000" >d</text>
<line x1="56.98" y1="530.4" x2="56.98" y2="663.66" stroke="#6f9ce0" stroke-width="1.35" stroke-dasharray="4.8 4.6" stroke-dashoffset="2"/>
<line x1="88.5" y1="530.4" x2="88.5" y2="663.66" stroke="#6f9ce0" stroke-width="1.35" stroke-dasharray="4.8 4.6" stroke-dashoffset="2"/>
<line x1="130.53" y1="530.4" x2="130.53" y2="663.66" stroke="#6f9ce0" stroke-width="1.35" stroke-dasharray="4.8 4.6" stroke-dashoffset="2"/>
<line x1="174.53" y1="530.4" x2="174.53" y2="663.66" stroke="#6f9ce0" stroke-width="1.35" stroke-dasharray="4.8 4.6" stroke-dashoffset="2"/>
<polyline points="46.3,653.24 47.68,653.42 49.06,653.09 50.43,653.66 51.81,653.59 53.19,654.48 54.57,654.34 55.95,654.4 56.98,654.32 58.36,654.42 59.73,653.59 61.11,653.44 62.49,653.07 63.87,652.78 65.25,652.31 66.62,651.73 68,651.02 69.38,650.39 70.76,650.92 72.14,650.88 73.51,649.82 74.89,650.38 76.27,649.96 77.65,649.3 79.03,649.53 80.4,649.85 81.78,649.54 83.16,649.28 84.54,648.79 85.92,649.6 87.29,649.18 88.5,648.85 89.88,646.72 91.25,645.75 92.63,643.59 94.01,642.49 95.39,641.77 96.77,640.78 98.14,639.73 99.52,639.87 100.9,639.59 102.28,639.14 103.66,638.06 105.03,637.82 106.41,638.42 107.79,636.8 109.17,637.06 110.55,636.29 111.92,635.49 113.3,635.43 114.68,635.01 116.06,635.29 117.44,633.98 118.81,634.35 120.19,633.93 121.57,632.14 122.95,632.06 124.32,631.85 125.7,632.39 127.08,632.07 128.46,632.02 130.35,629.93 131.73,622.35 133.11,617.2 134.49,609.92 135.86,607.19 137.24,601.37 138.62,597.62 140,594.69 141.38,592.29 142.75,588.51 144.13,585.04 145.51,581.93 146.89,581.19 148.27,576.5 149.64,576.93 151.02,573.13 152.4,570.66 153.78,569.15 155.16,567.71 156.53,565.96 157.91,564.47 159.29,560.6 160.67,561.63 162.05,557.63 163.42,557.08 164.8,554.45 166.18,554.13 167.56,550.46 168.93,549.67 170.31,549.13 171.69,550.21 173.07,546.86 174.45,547.29 174.53,545.14 175.91,546.58 177.29,546.09 178.67,546.96 180.04,547.33 181.42,548.04 182.8,548.52 184.18,548.69 185.56,548.79 186.93,548.89 188.31,549.21 189.69,549.22 191.07,548.4 192.45,550.8 193.82,549.49 195.2,550.43 196.58,548.84 197.96,549.08 199.34,549.11 200.71,550.75 202.09,549.07 203.47,551.86 204.85,549.41 206.22,554.3 207.6,553.24 208.98,549.67 210.36,549.72 211.74,552.28 213.11,550.85 214.49,551.89 215.87,551.06 217.25,552.96 218.63,552.07 220,551.96 221.38,551.76 222.76,551.81 224.14,552.3 225.52,551.5 226.89,552.73 228.27,552.95 229.65,554.03 231.03,554.2 232.41,551.91 233.78,554.18 235.16,552.51 236.54,553.41 237.92,553.49 239.29,553.59 240.67,553.34 242.05,553.93 243.43,552.63 244.81,554.05 246.18,554.41" fill="none" stroke="#111" stroke-width="0.75" stroke-linejoin="round"/>
<polyline points="46.3,653.3 56.98,654.35 88.5,648.38 130.53,620.82 174.53,542.51 248.85,557.7" fill="none" stroke="#e32b25" stroke-width="0.95" stroke-linejoin="round"/>
<line x1="46.3" y1="530.4" x2="261.6" y2="530.4" stroke="#8a8a8a" stroke-width="0.85" />
<line x1="261.6" y1="530.4" x2="261.6" y2="663.66" stroke="#8a8a8a" stroke-width="0.85" />
<line x1="46.3" y1="661.26" x2="46.3" y2="666.06" stroke="#2a2a2a" stroke-width="0.85" />
<line x1="46.3" y1="530.4" x2="46.3" y2="532.32" stroke="#8a8a8a" stroke-width="0.85" />
<text x="46.3" y="673" font-size="6.2" text-anchor="middle" fill="#333" >0</text>
<line x1="54.91" y1="662.16" x2="54.91" y2="664.56" stroke="#2a2a2a" stroke-width="0.85" />
<line x1="54.91" y1="530.4" x2="54.91" y2="531.6" stroke="#8a8a8a" stroke-width="0.85" />
<line x1="63.52" y1="662.16" x2="63.52" y2="664.56" stroke="#2a2a2a" stroke-width="0.85" />
<line x1="63.52" y1="530.4" x2="63.52" y2="531.6" stroke="#8a8a8a" stroke-width="0.85" />
<line x1="72.14" y1="662.16" x2="72.14" y2="664.56" stroke="#2a2a2a" stroke-width="0.85" />
<line x1="72.14" y1="530.4" x2="72.14" y2="531.6" stroke="#8a8a8a" stroke-width="0.85" />
<line x1="80.75" y1="662.16" x2="80.75" y2="664.56" stroke="#2a2a2a" stroke-width="0.85" />
<line x1="80.75" y1="530.4" x2="80.75" y2="531.6" stroke="#8a8a8a" stroke-width="0.85" />
<line x1="89.36" y1="661.26" x2="89.36" y2="666.06" stroke="#2a2a2a" stroke-width="0.85" />
<line x1="89.36" y1="530.4" x2="89.36" y2="532.32" stroke="#8a8a8a" stroke-width="0.85" />
<text x="89.36" y="673" font-size="6.2" text-anchor="middle" fill="#333" >50</text>
<line x1="97.97" y1="662.16" x2="97.97" y2="664.56" stroke="#2a2a2a" stroke-width="0.85" />
<line x1="97.97" y1="530.4" x2="97.97" y2="531.6" stroke="#8a8a8a" stroke-width="0.85" />
<line x1="106.58" y1="662.16" x2="106.58" y2="664.56" stroke="#2a2a2a" stroke-width="0.85" />
<line x1="106.58" y1="530.4" x2="106.58" y2="531.6" stroke="#8a8a8a" stroke-width="0.85" />
<line x1="115.2" y1="662.16" x2="115.2" y2="664.56" stroke="#2a2a2a" stroke-width="0.85" />
<line x1="115.2" y1="530.4" x2="115.2" y2="531.6" stroke="#8a8a8a" stroke-width="0.85" />
<line x1="123.81" y1="662.16" x2="123.81" y2="664.56" stroke="#2a2a2a" stroke-width="0.85" />
<line x1="123.81" y1="530.4" x2="123.81" y2="531.6" stroke="#8a8a8a" stroke-width="0.85" />
<line x1="132.42" y1="661.26" x2="132.42" y2="666.06" stroke="#2a2a2a" stroke-width="0.85" />
<line x1="132.42" y1="530.4" x2="132.42" y2="532.32" stroke="#8a8a8a" stroke-width="0.85" />
<text x="132.42" y="673" font-size="6.2" text-anchor="middle" fill="#333" >100</text>
<line x1="141.03" y1="662.16" x2="141.03" y2="664.56" stroke="#2a2a2a" stroke-width="0.85" />
<line x1="141.03" y1="530.4" x2="141.03" y2="531.6" stroke="#8a8a8a" stroke-width="0.85" />
<line x1="149.64" y1="662.16" x2="149.64" y2="664.56" stroke="#2a2a2a" stroke-width="0.85" />
<line x1="149.64" y1="530.4" x2="149.64" y2="531.6" stroke="#8a8a8a" stroke-width="0.85" />
<line x1="158.26" y1="662.16" x2="158.26" y2="664.56" stroke="#2a2a2a" stroke-width="0.85" />
<line x1="158.26" y1="530.4" x2="158.26" y2="531.6" stroke="#8a8a8a" stroke-width="0.85" />
<line x1="166.87" y1="662.16" x2="166.87" y2="664.56" stroke="#2a2a2a" stroke-width="0.85" />
<line x1="166.87" y1="530.4" x2="166.87" y2="531.6" stroke="#8a8a8a" stroke-width="0.85" />
<line x1="175.48" y1="661.26" x2="175.48" y2="666.06" stroke="#2a2a2a" stroke-width="0.85" />
<line x1="175.48" y1="530.4" x2="175.48" y2="532.32" stroke="#8a8a8a" stroke-width="0.85" />
<text x="175.48" y="673" font-size="6.2" text-anchor="middle" fill="#333" >150</text>
<line x1="184.09" y1="662.16" x2="184.09" y2="664.56" stroke="#2a2a2a" stroke-width="0.85" />
<line x1="184.09" y1="530.4" x2="184.09" y2="531.6" stroke="#8a8a8a" stroke-width="0.85" />
<line x1="192.7" y1="662.16" x2="192.7" y2="664.56" stroke="#2a2a2a" stroke-width="0.85" />
<line x1="192.7" y1="530.4" x2="192.7" y2="531.6" stroke="#8a8a8a" stroke-width="0.85" />
<line x1="201.32" y1="662.16" x2="201.32" y2="664.56" stroke="#2a2a2a" stroke-width="0.85" />
<line x1="201.32" y1="530.4" x2="201.32" y2="531.6" stroke="#8a8a8a" stroke-width="0.85" />
<line x1="209.93" y1="662.16" x2="209.93" y2="664.56" stroke="#2a2a2a" stroke-width="0.85" />
<line x1="209.93" y1="530.4" x2="209.93" y2="531.6" stroke="#8a8a8a" stroke-width="0.85" />
<line x1="218.54" y1="661.26" x2="218.54" y2="666.06" stroke="#2a2a2a" stroke-width="0.85" />
<line x1="218.54" y1="530.4" x2="218.54" y2="532.32" stroke="#8a8a8a" stroke-width="0.85" />
<text x="218.54" y="673" font-size="6.2" text-anchor="middle" fill="#333" >200</text>
<line x1="227.15" y1="662.16" x2="227.15" y2="664.56" stroke="#2a2a2a" stroke-width="0.85" />
<line x1="227.15" y1="530.4" x2="227.15" y2="531.6" stroke="#8a8a8a" stroke-width="0.85" />
<line x1="235.76" y1="662.16" x2="235.76" y2="664.56" stroke="#2a2a2a" stroke-width="0.85" />
<line x1="235.76" y1="530.4" x2="235.76" y2="531.6" stroke="#8a8a8a" stroke-width="0.85" />
<line x1="244.38" y1="662.16" x2="244.38" y2="664.56" stroke="#2a2a2a" stroke-width="0.85" />
<line x1="244.38" y1="530.4" x2="244.38" y2="531.6" stroke="#8a8a8a" stroke-width="0.85" />
<line x1="252.99" y1="662.16" x2="252.99" y2="664.56" stroke="#2a2a2a" stroke-width="0.85" />
<line x1="252.99" y1="530.4" x2="252.99" y2="531.6" stroke="#8a8a8a" stroke-width="0.85" />
<line x1="261.6" y1="661.26" x2="261.6" y2="666.06" stroke="#2a2a2a" stroke-width="0.85" />
<line x1="261.6" y1="530.4" x2="261.6" y2="532.32" stroke="#8a8a8a" stroke-width="0.85" />
<text x="261.6" y="673" font-size="6.2" text-anchor="middle" fill="#333" >250</text>
<line x1="45.4" y1="662.08" x2="47.8" y2="662.08" stroke="#2a2a2a" stroke-width="0.85" />
<line x1="260.4" y1="662.08" x2="261.6" y2="662.08" stroke="#8a8a8a" stroke-width="0.85" />
<line x1="45.4" y1="657.69" x2="47.8" y2="657.69" stroke="#2a2a2a" stroke-width="0.85" />
<line x1="260.4" y1="657.69" x2="261.6" y2="657.69" stroke="#8a8a8a" stroke-width="0.85" />
<line x1="43.9" y1="653.3" x2="48.7" y2="653.3" stroke="#2a2a2a" stroke-width="0.85" />
<line x1="259.68" y1="653.3" x2="261.6" y2="653.3" stroke="#8a8a8a" stroke-width="0.85" />
<text x="34.1" y="655.3" font-size="6.2" text-anchor="middle" fill="#333" >0</text>
<line x1="45.4" y1="648.91" x2="47.8" y2="648.91" stroke="#2a2a2a" stroke-width="0.85" />
<line x1="260.4" y1="648.91" x2="261.6" y2="648.91" stroke="#8a8a8a" stroke-width="0.85" />
<line x1="45.4" y1="644.52" x2="47.8" y2="644.52" stroke="#2a2a2a" stroke-width="0.85" />
<line x1="260.4" y1="644.52" x2="261.6" y2="644.52" stroke="#8a8a8a" stroke-width="0.85" />
<line x1="45.4" y1="640.13" x2="47.8" y2="640.13" stroke="#2a2a2a" stroke-width="0.85" />
<line x1="260.4" y1="640.13" x2="261.6" y2="640.13" stroke="#8a8a8a" stroke-width="0.85" />
<line x1="43.9" y1="635.74" x2="48.7" y2="635.74" stroke="#2a2a2a" stroke-width="0.85" />
<line x1="259.68" y1="635.74" x2="261.6" y2="635.74" stroke="#8a8a8a" stroke-width="0.85" />
<text x="34.1" y="637.74" font-size="6.2" text-anchor="middle" fill="#333" >200</text>
<line x1="45.4" y1="631.35" x2="47.8" y2="631.35" stroke="#2a2a2a" stroke-width="0.85" />
<line x1="260.4" y1="631.35" x2="261.6" y2="631.35" stroke="#8a8a8a" stroke-width="0.85" />
<line x1="45.4" y1="626.96" x2="47.8" y2="626.96" stroke="#2a2a2a" stroke-width="0.85" />
<line x1="260.4" y1="626.96" x2="261.6" y2="626.96" stroke="#8a8a8a" stroke-width="0.85" />
<line x1="45.4" y1="622.57" x2="47.8" y2="622.57" stroke="#2a2a2a" stroke-width="0.85" />
<line x1="260.4" y1="622.57" x2="261.6" y2="622.57" stroke="#8a8a8a" stroke-width="0.85" />
<line x1="43.9" y1="618.19" x2="48.7" y2="618.19" stroke="#2a2a2a" stroke-width="0.85" />
<line x1="259.68" y1="618.19" x2="261.6" y2="618.19" stroke="#8a8a8a" stroke-width="0.85" />
<text x="34.1" y="620.19" font-size="6.2" text-anchor="middle" fill="#333" >400</text>
<line x1="45.4" y1="613.8" x2="47.8" y2="613.8" stroke="#2a2a2a" stroke-width="0.85" />
<line x1="260.4" y1="613.8" x2="261.6" y2="613.8" stroke="#8a8a8a" stroke-width="0.85" />
<line x1="45.4" y1="609.41" x2="47.8" y2="609.41" stroke="#2a2a2a" stroke-width="0.85" />
<line x1="260.4" y1="609.41" x2="261.6" y2="609.41" stroke="#8a8a8a" stroke-width="0.85" />
<line x1="45.4" y1="605.02" x2="47.8" y2="605.02" stroke="#2a2a2a" stroke-width="0.85" />
<line x1="260.4" y1="605.02" x2="261.6" y2="605.02" stroke="#8a8a8a" stroke-width="0.85" />
<line x1="43.9" y1="600.63" x2="48.7" y2="600.63" stroke="#2a2a2a" stroke-width="0.85" />
<line x1="259.68" y1="600.63" x2="261.6" y2="600.63" stroke="#8a8a8a" stroke-width="0.85" />
<text x="34.1" y="602.63" font-size="6.2" text-anchor="middle" fill="#333" >600</text>
<line x1="45.4" y1="596.24" x2="47.8" y2="596.24" stroke="#2a2a2a" stroke-width="0.85" />
<line x1="260.4" y1="596.24" x2="261.6" y2="596.24" stroke="#8a8a8a" stroke-width="0.85" />
<line x1="45.4" y1="591.85" x2="47.8" y2="591.85" stroke="#2a2a2a" stroke-width="0.85" />
<line x1="260.4" y1="591.85" x2="261.6" y2="591.85" stroke="#8a8a8a" stroke-width="0.85" />
<line x1="45.4" y1="587.46" x2="47.8" y2="587.46" stroke="#2a2a2a" stroke-width="0.85" />
<line x1="260.4" y1="587.46" x2="261.6" y2="587.46" stroke="#8a8a8a" stroke-width="0.85" />
<line x1="43.9" y1="583.07" x2="48.7" y2="583.07" stroke="#2a2a2a" stroke-width="0.85" />
<line x1="259.68" y1="583.07" x2="261.6" y2="583.07" stroke="#8a8a8a" stroke-width="0.85" />
<text x="34.1" y="585.07" font-size="6.2" text-anchor="middle" fill="#333" >800</text>
<line x1="45.4" y1="578.68" x2="47.8" y2="578.68" stroke="#2a2a2a" stroke-width="0.85" />
<line x1="260.4" y1="578.68" x2="261.6" y2="578.68" stroke="#8a8a8a" stroke-width="0.85" />
<line x1="45.4" y1="574.29" x2="47.8" y2="574.29" stroke="#2a2a2a" stroke-width="0.85" />
<line x1="260.4" y1="574.29" x2="261.6" y2="574.29" stroke="#8a8a8a" stroke-width="0.85" />
<line x1="45.4" y1="569.9" x2="47.8" y2="569.9" stroke="#2a2a2a" stroke-width="0.85" />
<line x1="260.4" y1="569.9" x2="261.6" y2="569.9" stroke="#8a8a8a" stroke-width="0.85" />
<line x1="43.9" y1="565.51" x2="48.7" y2="565.51" stroke="#2a2a2a" stroke-width="0.85" />
<line x1="259.68" y1="565.51" x2="261.6" y2="565.51" stroke="#8a8a8a" stroke-width="0.85" />
<text x="34.1" y="567.51" font-size="6.2" text-anchor="middle" fill="#333" >1000</text>
<line x1="45.4" y1="561.12" x2="47.8" y2="561.12" stroke="#2a2a2a" stroke-width="0.85" />
<line x1="260.4" y1="561.12" x2="261.6" y2="561.12" stroke="#8a8a8a" stroke-width="0.85" />
<line x1="45.4" y1="556.74" x2="47.8" y2="556.74" stroke="#2a2a2a" stroke-width="0.85" />
<line x1="260.4" y1="556.74" x2="261.6" y2="556.74" stroke="#8a8a8a" stroke-width="0.85" />
<line x1="45.4" y1="552.35" x2="47.8" y2="552.35" stroke="#2a2a2a" stroke-width="0.85" />
<line x1="260.4" y1="552.35" x2="261.6" y2="552.35" stroke="#8a8a8a" stroke-width="0.85" />
<line x1="43.9" y1="547.96" x2="48.7" y2="547.96" stroke="#2a2a2a" stroke-width="0.85" />
<line x1="259.68" y1="547.96" x2="261.6" y2="547.96" stroke="#8a8a8a" stroke-width="0.85" />
<text x="34.1" y="549.96" font-size="6.2" text-anchor="middle" fill="#333" >1200</text>
<line x1="45.4" y1="543.57" x2="47.8" y2="543.57" stroke="#2a2a2a" stroke-width="0.85" />
<line x1="260.4" y1="543.57" x2="261.6" y2="543.57" stroke="#8a8a8a" stroke-width="0.85" />
<line x1="45.4" y1="539.18" x2="47.8" y2="539.18" stroke="#2a2a2a" stroke-width="0.85" />
<line x1="260.4" y1="539.18" x2="261.6" y2="539.18" stroke="#8a8a8a" stroke-width="0.85" />
<line x1="45.4" y1="534.79" x2="47.8" y2="534.79" stroke="#2a2a2a" stroke-width="0.85" />
<line x1="260.4" y1="534.79" x2="261.6" y2="534.79" stroke="#8a8a8a" stroke-width="0.85" />
<line x1="43.9" y1="530.4" x2="48.7" y2="530.4" stroke="#2a2a2a" stroke-width="0.85" />
<line x1="259.68" y1="530.4" x2="261.6" y2="530.4" stroke="#8a8a8a" stroke-width="0.85" />
<text x="34.1" y="532.4" font-size="6.2" text-anchor="middle" fill="#333" >1400</text>
<line x1="46.3" y1="530.4" x2="46.3" y2="664.16" stroke="#2a2a2a" stroke-width="0.85" />
<line x1="45.8" y1="663.66" x2="262.1" y2="663.66" stroke="#2a2a2a" stroke-width="0.85" />
<text x="72.7" y="541.2" font-size="8.2" text-anchor="middle" stroke="#000" stroke-width="0.3" fill="#000" >0.3 nM</text>
<text x="108.8" y="541.2" font-size="8.2" text-anchor="middle" stroke="#000" stroke-width="0.3" fill="#000" >1 nM</text>
<text x="152" y="541.2" font-size="8.2" text-anchor="middle" stroke="#000" stroke-width="0.3" fill="#000" >5 nM</text>
<text x="212.4" y="541.2" font-size="8.2" text-anchor="middle" stroke="#000" stroke-width="0.3" fill="#000" >0 nM</text>
<text x="43.6" y="526.2" font-size="8.2" text-anchor="start" stroke="#000" stroke-width="0.3" fill="#000" >0 nM</text>
<line x1="50.2" y1="534.5" x2="52.3" y2="528.8" stroke="#111" stroke-width="0.9" />
<text x="20.3" y="594.7" font-size="6.3" text-anchor="middle" font-weight="bold" fill="#000" transform="rotate(-90 20.3 594.7)">Signal (CPS) halflife corrected</text>
<text x="153.95" y="682.3" font-size="6.2" text-anchor="middle" font-weight="bold" fill="#000" >Time (Minutes)</text>
<text x="7" y="534" font-size="16" text-anchor="start" font-weight="bold" fill="#000" >f</text>
<line x1="322.58" y1="530.4" x2="322.58" y2="663.66" stroke="#6f9ce0" stroke-width="1.35" stroke-dasharray="4.8 4.6" stroke-dashoffset="2"/>
<line x1="353.93" y1="530.4" x2="353.93" y2="663.66" stroke="#6f9ce0" stroke-width="1.35" stroke-dasharray="4.8 4.6" stroke-dashoffset="2"/>
<line x1="395.09" y1="530.4" x2="395.09" y2="663.66" stroke="#6f9ce0" stroke-width="1.35" stroke-dasharray="4.8 4.6" stroke-dashoffset="2"/>
<line x1="439.62" y1="530.4" x2="439.62" y2="663.66" stroke="#6f9ce0" stroke-width="1.35" stroke-dasharray="4.8 4.6" stroke-dashoffset="2"/>
<polyline points="311.9,653.42 313.28,653.54 314.66,653.46 316.03,653.54 317.41,652.67 318.79,653.86 320.17,653.32 321.55,652.87 322.58,653.18 323.96,653.31 325.33,653.02 326.71,653.25 328.09,652.58 329.47,651.62 330.85,652.03 332.22,652.3 333.6,651.79 334.98,651.9 336.36,650.68 337.74,651.25 339.11,649.73 340.49,650.98 341.87,649.51 343.25,650.43 344.63,649.46 346,650.62 347.38,649.47 348.76,649.48 350.14,649.09 351.52,650.09 352.89,647.99 353.93,648.85 355.3,647.44 356.68,646.91 358.06,645.47 359.44,644.43 360.82,643.89 362.19,643.51 363.57,641.64 364.95,641.39 366.33,640.49 367.71,640.33 369.08,639.27 370.46,638.99 371.84,637.22 373.22,638.03 374.6,635.73 375.97,636.11 377.35,635.75 378.73,635.35 380.11,635.27 381.48,635.68 382.86,634.4 384.24,634.17 385.62,633.11 387,633.23 388.37,632.13 389.75,633.32 391.13,631.16 392.51,632.49 393.89,631.34 395.09,631.26 396.47,626.48 397.85,622.24 399.23,616.56 400.6,611.75 401.98,605.5 403.36,601.49 404.74,597.56 406.12,594.41 407.49,590.83 408.87,587.42 410.25,585.37 411.63,581.65 413,579.71 414.38,577.79 415.76,574.65 417.14,572.76 418.52,570.71 419.89,568.69 421.27,566.67 422.65,564.96 424.03,562.31 425.41,561.58 426.78,558.48 428.16,557.8 429.54,555.39 430.92,554.89 432.3,552.71 433.67,551.07 435.05,550.38 436.43,548.56 437.81,547.23 439.19,546.52 439.62,547.6 440.99,546.93 442.37,545.99 443.75,548.32 445.13,547.24 446.51,550.6 447.88,547.35 449.26,549.49 450.64,547.54 452.02,551.15 453.4,548.29 454.77,550.25 456.15,548.35 457.53,551.24 458.91,549.85 460.28,548.69 461.66,550.35 463.04,551.18 464.42,550.13 465.8,551.74 467.17,549.35 468.55,549.52 469.93,551.12 471.31,552.65 472.69,549.58 474.06,550.87 475.44,550.04 476.82,550.7 478.2,551.81 479.58,552.49 480.95,552.84 482.33,553.42 483.71,550.9 485.09,553.16 486.47,550.06 487.84,552.78 489.22,552.69 490.6,552.45 491.98,550.7 493.35,552.95 494.73,553.68 496.11,553.27 497.49,551.37 498.87,554.23 500.24,553.81 501.62,553.26 503,552.92 504.38,554.88 505.76,553.64 507.13,554.92 508.51,553.2 509.89,554.2 511.27,552.79 512.65,553.93 514.02,555" fill="none" stroke="#111" stroke-width="0.75" stroke-linejoin="round"/>
<polyline points="311.9,653.3 322.58,653.3 322.58,653.3 323.01,653.24 323.44,653.18 323.87,653.12 324.3,653.06 324.73,653 325.16,652.94 325.59,652.88 326.02,652.82 326.45,652.76 326.88,652.7 327.32,652.64 327.75,652.58 328.18,652.52 328.61,652.46 329.04,652.4 329.47,652.33 329.9,652.27 330.33,652.21 330.76,652.15 331.19,652.08 331.62,652.02 332.05,651.96 332.48,651.89 332.91,651.83 333.34,651.77 333.77,651.7 334.21,651.64 334.64,651.57 335.07,651.51 335.5,651.45 335.93,651.38 336.36,651.32 336.79,651.25 337.22,651.18 337.65,651.12 338.08,651.05 338.51,650.99 338.94,650.92 339.37,650.85 339.8,650.79 340.23,650.72 340.66,650.65 341.09,650.58 341.53,650.52 341.96,650.45 342.39,650.38 342.82,650.31 343.25,650.24 343.68,650.17 344.11,650.11 344.54,650.04 344.97,649.97 345.4,649.9 345.83,649.83 346.26,649.76 346.69,649.69 347.12,649.62 347.55,649.54 347.98,649.47 348.41,649.4 348.85,649.33 349.28,649.26 349.71,649.19 350.14,649.12 350.57,649.04 351,648.97 351.43,648.9 351.86,648.82 352.29,648.75 352.72,648.68 353.15,648.6 353.58,648.53 353.93,648.47 353.93,648.47 354.36,648.15 354.79,647.82 355.22,647.5 355.65,647.18 356.08,646.86 356.51,646.55 356.94,646.24 357.37,645.93 357.8,645.63 358.23,645.33 358.66,645.04 359.09,644.75 359.52,644.46 359.95,644.18 360.39,643.9 360.82,643.63 361.25,643.36 361.68,643.1 362.11,642.84 362.54,642.59 362.97,642.35 363.4,642.11 363.83,641.88 364.26,641.65 364.69,641.42 365.12,641.19 365.55,640.97 365.98,640.75 366.41,640.53 366.84,640.32 367.28,640.1 367.71,639.89 368.14,639.68 368.57,639.48 369,639.27 369.43,639.07 369.86,638.88 370.29,638.68 370.72,638.49 371.15,638.3 371.58,638.11 372.01,637.92 372.44,637.74 372.87,637.56 373.3,637.38 373.73,637.2 374.16,637.03 374.6,636.86 375.03,636.69 375.46,636.53 375.89,636.37 376.32,636.21 376.75,636.05 377.18,635.9 377.61,635.75 378.04,635.6 378.47,635.45 378.9,635.3 379.33,635.16 379.76,635.02 380.19,634.87 380.62,634.73 381.05,634.59 381.48,634.45 381.92,634.32 382.35,634.18 382.78,634.04 383.21,633.91 383.64,633.78 384.07,633.65 384.5,633.52 384.93,633.39 385.36,633.26 385.79,633.14 386.22,633.02 386.65,632.89 387.08,632.77 387.51,632.66 387.94,632.54 388.37,632.43 388.81,632.31 389.24,632.2 389.67,632.1 390.1,631.99 390.53,631.88 390.96,631.78 391.39,631.68 391.82,631.58 392.25,631.49 392.68,631.39 393.11,631.3 393.54,631.21 393.97,631.13 394.4,631.04 394.83,630.96 395.09,630.91 395.09,630.91 395.52,629.42 395.95,627.92 396.38,626.43 396.81,624.93 397.24,623.43 397.68,621.93 398.11,620.43 398.54,618.93 398.97,617.41 399.4,615.84 399.83,614.25 400.26,612.64 400.69,611.01 401.12,609.39 401.55,607.78 401.98,606.2 402.41,604.65 402.84,603.15 403.27,601.71 403.7,600.34 404.13,599.05 404.57,597.85 405,596.7 405.43,595.58 405.86,594.49 406.29,593.43 406.72,592.39 407.15,591.38 407.58,590.39 408.01,589.42 408.44,588.48 408.87,587.56 409.3,586.65 409.73,585.77 410.16,584.9 410.59,584.06 411.02,583.22 411.45,582.41 411.89,581.61 412.32,580.82 412.75,580.04 413.18,579.27 413.61,578.52 414.04,577.79 414.47,577.07 414.9,576.37 415.33,575.68 415.76,575.01 416.19,574.35 416.62,573.71 417.05,573.07 417.48,572.44 417.91,571.82 418.34,571.21 418.77,570.6 419.21,570 419.64,569.4 420.07,568.8 420.5,568.2 420.93,567.61 421.36,567.01 421.79,566.4 422.22,565.8 422.65,565.19 423.08,564.57 423.51,563.96 423.94,563.34 424.37,562.73 424.8,562.11 425.23,561.5 425.66,560.9 426.1,560.29 426.53,559.7 426.96,559.11 427.39,558.52 427.82,557.95 428.25,557.39 428.68,556.84 429.11,556.3 429.54,555.77 429.97,555.26 430.4,554.76 430.83,554.28 431.26,553.81 431.69,553.34 432.12,552.89 432.55,552.43 432.98,551.99 433.42,551.55 433.85,551.12 434.28,550.69 434.71,550.28 435.14,549.87 435.57,549.47 436,549.07 436.43,548.69 436.86,548.31 437.29,547.94 437.72,547.58 438.15,547.23 438.58,546.89 439.01,546.56 439.44,546.24 439.62,546.11 439.62,546.11 440.05,546.24 440.48,546.37 440.91,546.5 441.34,546.62 441.77,546.75 442.2,546.88 442.63,547 443.06,547.12 443.49,547.25 443.92,547.37 444.35,547.48 444.78,547.6 445.21,547.71 445.64,547.83 446.07,547.94 446.51,548.04 446.94,548.15 447.37,548.25 447.8,548.35 448.23,548.44 448.66,548.53 449.09,548.62 449.52,548.7 449.95,548.78 450.38,548.86 450.81,548.93 451.24,549 451.67,549.06 452.1,549.12 452.53,549.18 452.96,549.24 453.4,549.3 453.83,549.36 454.26,549.41 454.69,549.46 455.12,549.52 455.55,549.57 455.98,549.62 456.41,549.67 456.84,549.72 457.27,549.77 457.7,549.81 458.13,549.86 458.56,549.9 458.99,549.95 459.42,549.99 459.85,550.03 460.28,550.08 460.72,550.12 461.15,550.16 461.58,550.2 462.01,550.24 462.44,550.28 462.87,550.31 463.3,550.35 463.73,550.39 464.16,550.43 464.59,550.46 465.02,550.5 465.45,550.54 465.88,550.57 466.31,550.61 466.74,550.64 467.17,550.68 467.6,550.71 468.04,550.75 468.47,550.78 468.9,550.81 469.33,550.85 469.76,550.88 470.19,550.92 470.62,550.95 471.05,550.99 471.48,551.02 471.91,551.06 472.34,551.09 472.77,551.13 473.2,551.16 473.63,551.2 474.06,551.23 474.49,551.27 474.93,551.31 475.36,551.34 475.79,551.38 476.22,551.42 476.65,551.46 477.08,551.49 477.51,551.53 477.94,551.57 478.37,551.6 478.8,551.64 479.23,551.67 479.66,551.71 480.09,551.75 480.52,551.78 480.95,551.82 481.38,551.85 481.81,551.89 482.25,551.93 482.68,551.96 483.11,552 483.54,552.03 483.97,552.07 484.4,552.1 484.83,552.14 485.26,552.17 485.69,552.21 486.12,552.24 486.55,552.28 486.98,552.31 487.41,552.35 487.84,552.38 488.27,552.42 488.7,552.45 489.13,552.49 489.57,552.52 490,552.55 490.43,552.59 490.86,552.62 491.29,552.66 491.72,552.69 492.15,552.72 492.58,552.76 493.01,552.79 493.44,552.82 493.87,552.86 494.3,552.89 494.73,552.92 495.16,552.95 495.59,552.99 496.02,553.02 496.46,553.05 496.89,553.08 497.32,553.12 497.75,553.15 498.18,553.18 498.61,553.21 499.04,553.24 499.47,553.28 499.9,553.31 500.33,553.34 500.76,553.37 501.19,553.4 501.62,553.43 502.05,553.46 502.48,553.49 502.91,553.52 503.34,553.55 503.78,553.58 504.21,553.61 504.64,553.64 505.07,553.67 505.5,553.7 505.93,553.73 506.36,553.76 506.79,553.79 507.22,553.82 507.65,553.85 508.08,553.88 508.51,553.91 508.94,553.94 509.37,553.96 509.8,553.99 510.23,554.02 510.66,554.05 511.1,554.08 511.53,554.1 511.96,554.13 512.39,554.16 512.82,554.19 513.25,554.21 513.68,554.24 514.11,554.27 514.28,554.28" fill="none" stroke="#e32b25" stroke-width="0.95" stroke-linejoin="round"/>
<line x1="311.9" y1="530.4" x2="527.2" y2="530.4" stroke="#8a8a8a" stroke-width="0.85" />
<line x1="527.2" y1="530.4" x2="527.2" y2="663.66" stroke="#8a8a8a" stroke-width="0.85" />
<line x1="311.9" y1="661.26" x2="311.9" y2="666.06" stroke="#2a2a2a" stroke-width="0.85" />
<line x1="311.9" y1="530.4" x2="311.9" y2="532.32" stroke="#8a8a8a" stroke-width="0.85" />
<text x="311.9" y="673" font-size="6.2" text-anchor="middle" fill="#333" >0</text>
<line x1="320.51" y1="662.16" x2="320.51" y2="664.56" stroke="#2a2a2a" stroke-width="0.85" />
<line x1="320.51" y1="530.4" x2="320.51" y2="531.6" stroke="#8a8a8a" stroke-width="0.85" />
<line x1="329.12" y1="662.16" x2="329.12" y2="664.56" stroke="#2a2a2a" stroke-width="0.85" />
<line x1="329.12" y1="530.4" x2="329.12" y2="531.6" stroke="#8a8a8a" stroke-width="0.85" />
<line x1="337.74" y1="662.16" x2="337.74" y2="664.56" stroke="#2a2a2a" stroke-width="0.85" />
<line x1="337.74" y1="530.4" x2="337.74" y2="531.6" stroke="#8a8a8a" stroke-width="0.85" />
<line x1="346.35" y1="662.16" x2="346.35" y2="664.56" stroke="#2a2a2a" stroke-width="0.85" />
<line x1="346.35" y1="530.4" x2="346.35" y2="531.6" stroke="#8a8a8a" stroke-width="0.85" />
<line x1="354.96" y1="661.26" x2="354.96" y2="666.06" stroke="#2a2a2a" stroke-width="0.85" />
<line x1="354.96" y1="530.4" x2="354.96" y2="532.32" stroke="#8a8a8a" stroke-width="0.85" />
<text x="354.96" y="673" font-size="6.2" text-anchor="middle" fill="#333" >50</text>
<line x1="363.57" y1="662.16" x2="363.57" y2="664.56" stroke="#2a2a2a" stroke-width="0.85" />
<line x1="363.57" y1="530.4" x2="363.57" y2="531.6" stroke="#8a8a8a" stroke-width="0.85" />
<line x1="372.18" y1="662.16" x2="372.18" y2="664.56" stroke="#2a2a2a" stroke-width="0.85" />
<line x1="372.18" y1="530.4" x2="372.18" y2="531.6" stroke="#8a8a8a" stroke-width="0.85" />
<line x1="380.8" y1="662.16" x2="380.8" y2="664.56" stroke="#2a2a2a" stroke-width="0.85" />
<line x1="380.8" y1="530.4" x2="380.8" y2="531.6" stroke="#8a8a8a" stroke-width="0.85" />
<line x1="389.41" y1="662.16" x2="389.41" y2="664.56" stroke="#2a2a2a" stroke-width="0.85" />
<line x1="389.41" y1="530.4" x2="389.41" y2="531.6" stroke="#8a8a8a" stroke-width="0.85" />
<line x1="398.02" y1="661.26" x2="398.02" y2="666.06" stroke="#2a2a2a" stroke-width="0.85" />
<line x1="398.02" y1="530.4" x2="398.02" y2="532.32" stroke="#8a8a8a" stroke-width="0.85" />
<text x="398.02" y="673" font-size="6.2" text-anchor="middle" fill="#333" >100</text>
<line x1="406.63" y1="662.16" x2="406.63" y2="664.56" stroke="#2a2a2a" stroke-width="0.85" />
<line x1="406.63" y1="530.4" x2="406.63" y2="531.6" stroke="#8a8a8a" stroke-width="0.85" />
<line x1="415.24" y1="662.16" x2="415.24" y2="664.56" stroke="#2a2a2a" stroke-width="0.85" />
<line x1="415.24" y1="530.4" x2="415.24" y2="531.6" stroke="#8a8a8a" stroke-width="0.85" />
<line x1="423.86" y1="662.16" x2="423.86" y2="664.56" stroke="#2a2a2a" stroke-width="0.85" />
<line x1="423.86" y1="530.4" x2="423.86" y2="531.6" stroke="#8a8a8a" stroke-width="0.85" />
<line x1="432.47" y1="662.16" x2="432.47" y2="664.56" stroke="#2a2a2a" stroke-width="0.85" />
<line x1="432.47" y1="530.4" x2="432.47" y2="531.6" stroke="#8a8a8a" stroke-width="0.85" />
<line x1="441.08" y1="661.26" x2="441.08" y2="666.06" stroke="#2a2a2a" stroke-width="0.85" />
<line x1="441.08" y1="530.4" x2="441.08" y2="532.32" stroke="#8a8a8a" stroke-width="0.85" />
<text x="441.08" y="673" font-size="6.2" text-anchor="middle" fill="#333" >150</text>
<line x1="449.69" y1="662.16" x2="449.69" y2="664.56" stroke="#2a2a2a" stroke-width="0.85" />
<line x1="449.69" y1="530.4" x2="449.69" y2="531.6" stroke="#8a8a8a" stroke-width="0.85" />
<line x1="458.3" y1="662.16" x2="458.3" y2="664.56" stroke="#2a2a2a" stroke-width="0.85" />
<line x1="458.3" y1="530.4" x2="458.3" y2="531.6" stroke="#8a8a8a" stroke-width="0.85" />
<line x1="466.92" y1="662.16" x2="466.92" y2="664.56" stroke="#2a2a2a" stroke-width="0.85" />
<line x1="466.92" y1="530.4" x2="466.92" y2="531.6" stroke="#8a8a8a" stroke-width="0.85" />
<line x1="475.53" y1="662.16" x2="475.53" y2="664.56" stroke="#2a2a2a" stroke-width="0.85" />
<line x1="475.53" y1="530.4" x2="475.53" y2="531.6" stroke="#8a8a8a" stroke-width="0.85" />
<line x1="484.14" y1="661.26" x2="484.14" y2="666.06" stroke="#2a2a2a" stroke-width="0.85" />
<line x1="484.14" y1="530.4" x2="484.14" y2="532.32" stroke="#8a8a8a" stroke-width="0.85" />
<text x="484.14" y="673" font-size="6.2" text-anchor="middle" fill="#333" >200</text>
<line x1="492.75" y1="662.16" x2="492.75" y2="664.56" stroke="#2a2a2a" stroke-width="0.85" />
<line x1="492.75" y1="530.4" x2="492.75" y2="531.6" stroke="#8a8a8a" stroke-width="0.85" />
<line x1="501.36" y1="662.16" x2="501.36" y2="664.56" stroke="#2a2a2a" stroke-width="0.85" />
<line x1="501.36" y1="530.4" x2="501.36" y2="531.6" stroke="#8a8a8a" stroke-width="0.85" />
<line x1="509.98" y1="662.16" x2="509.98" y2="664.56" stroke="#2a2a2a" stroke-width="0.85" />
<line x1="509.98" y1="530.4" x2="509.98" y2="531.6" stroke="#8a8a8a" stroke-width="0.85" />
<line x1="518.59" y1="662.16" x2="518.59" y2="664.56" stroke="#2a2a2a" stroke-width="0.85" />
<line x1="518.59" y1="530.4" x2="518.59" y2="531.6" stroke="#8a8a8a" stroke-width="0.85" />
<line x1="527.2" y1="661.26" x2="527.2" y2="666.06" stroke="#2a2a2a" stroke-width="0.85" />
<line x1="527.2" y1="530.4" x2="527.2" y2="532.32" stroke="#8a8a8a" stroke-width="0.85" />
<text x="527.2" y="673" font-size="6.2" text-anchor="middle" fill="#333" >250</text>
<line x1="311" y1="662.08" x2="313.4" y2="662.08" stroke="#2a2a2a" stroke-width="0.85" />
<line x1="526" y1="662.08" x2="527.2" y2="662.08" stroke="#8a8a8a" stroke-width="0.85" />
<line x1="311" y1="657.69" x2="313.4" y2="657.69" stroke="#2a2a2a" stroke-width="0.85" />
<line x1="526" y1="657.69" x2="527.2" y2="657.69" stroke="#8a8a8a" stroke-width="0.85" />
<line x1="309.5" y1="653.3" x2="314.3" y2="653.3" stroke="#2a2a2a" stroke-width="0.85" />
<line x1="525.28" y1="653.3" x2="527.2" y2="653.3" stroke="#8a8a8a" stroke-width="0.85" />
<text x="299.5" y="655.3" font-size="6.2" text-anchor="middle" fill="#333" >0</text>
<line x1="311" y1="648.91" x2="313.4" y2="648.91" stroke="#2a2a2a" stroke-width="0.85" />
<line x1="526" y1="648.91" x2="527.2" y2="648.91" stroke="#8a8a8a" stroke-width="0.85" />
<line x1="311" y1="644.52" x2="313.4" y2="644.52" stroke="#2a2a2a" stroke-width="0.85" />
<line x1="526" y1="644.52" x2="527.2" y2="644.52" stroke="#8a8a8a" stroke-width="0.85" />
<line x1="311" y1="640.13" x2="313.4" y2="640.13" stroke="#2a2a2a" stroke-width="0.85" />
<line x1="526" y1="640.13" x2="527.2" y2="640.13" stroke="#8a8a8a" stroke-width="0.85" />
<line x1="309.5" y1="635.74" x2="314.3" y2="635.74" stroke="#2a2a2a" stroke-width="0.85" />
<line x1="525.28" y1="635.74" x2="527.2" y2="635.74" stroke="#8a8a8a" stroke-width="0.85" />
<text x="299.5" y="637.74" font-size="6.2" text-anchor="middle" fill="#333" >200</text>
<line x1="311" y1="631.35" x2="313.4" y2="631.35" stroke="#2a2a2a" stroke-width="0.85" />
<line x1="526" y1="631.35" x2="527.2" y2="631.35" stroke="#8a8a8a" stroke-width="0.85" />
<line x1="311" y1="626.96" x2="313.4" y2="626.96" stroke="#2a2a2a" stroke-width="0.85" />
<line x1="526" y1="626.96" x2="527.2" y2="626.96" stroke="#8a8a8a" stroke-width="0.85" />
<line x1="311" y1="622.57" x2="313.4" y2="622.57" stroke="#2a2a2a" stroke-width="0.85" />
<line x1="526" y1="622.57" x2="527.2" y2="622.57" stroke="#8a8a8a" stroke-width="0.85" />
<line x1="309.5" y1="618.19" x2="314.3" y2="618.19" stroke="#2a2a2a" stroke-width="0.85" />
<line x1="525.28" y1="618.19" x2="527.2" y2="618.19" stroke="#8a8a8a" stroke-width="0.85" />
<text x="299.5" y="620.19" font-size="6.2" text-anchor="middle" fill="#333" >400</text>
<line x1="311" y1="613.8" x2="313.4" y2="613.8" stroke="#2a2a2a" stroke-width="0.85" />
<line x1="526" y1="613.8" x2="527.2" y2="613.8" stroke="#8a8a8a" stroke-width="0.85" />
<line x1="311" y1="609.41" x2="313.4" y2="609.41" stroke="#2a2a2a" stroke-width="0.85" />
<line x1="526" y1="609.41" x2="527.2" y2="609.41" stroke="#8a8a8a" stroke-width="0.85" />
<line x1="311" y1="605.02" x2="313.4" y2="605.02" stroke="#2a2a2a" stroke-width="0.85" />
<line x1="526" y1="605.02" x2="527.2" y2="605.02" stroke="#8a8a8a" stroke-width="0.85" />
<line x1="309.5" y1="600.63" x2="314.3" y2="600.63" stroke="#2a2a2a" stroke-width="0.85" />
<line x1="525.28" y1="600.63" x2="527.2" y2="600.63" stroke="#8a8a8a" stroke-width="0.85" />
<text x="299.5" y="602.63" font-size="6.2" text-anchor="middle" fill="#333" >600</text>
<line x1="311" y1="596.24" x2="313.4" y2="596.24" stroke="#2a2a2a" stroke-width="0.85" />
<line x1="526" y1="596.24" x2="527.2" y2="596.24" stroke="#8a8a8a" stroke-width="0.85" />
<line x1="311" y1="591.85" x2="313.4" y2="591.85" stroke="#2a2a2a" stroke-width="0.85" />
<line x1="526" y1="591.85" x2="527.2" y2="591.85" stroke="#8a8a8a" stroke-width="0.85" />
<line x1="311" y1="587.46" x2="313.4" y2="587.46" stroke="#2a2a2a" stroke-width="0.85" />
<line x1="526" y1="587.46" x2="527.2" y2="587.46" stroke="#8a8a8a" stroke-width="0.85" />
<line x1="309.5" y1="583.07" x2="314.3" y2="583.07" stroke="#2a2a2a" stroke-width="0.85" />
<line x1="525.28" y1="583.07" x2="527.2" y2="583.07" stroke="#8a8a8a" stroke-width="0.85" />
<text x="299.5" y="585.07" font-size="6.2" text-anchor="middle" fill="#333" >800</text>
<line x1="311" y1="578.68" x2="313.4" y2="578.68" stroke="#2a2a2a" stroke-width="0.85" />
<line x1="526" y1="578.68" x2="527.2" y2="578.68" stroke="#8a8a8a" stroke-width="0.85" />
<line x1="311" y1="574.29" x2="313.4" y2="574.29" stroke="#2a2a2a" stroke-width="0.85" />
<line x1="526" y1="574.29" x2="527.2" y2="574.29" stroke="#8a8a8a" stroke-width="0.85" />
<line x1="311" y1="569.9" x2="313.4" y2="569.9" stroke="#2a2a2a" stroke-width="0.85" />
<line x1="526" y1="569.9" x2="527.2" y2="569.9" stroke="#8a8a8a" stroke-width="0.85" />
<line x1="309.5" y1="565.51" x2="314.3" y2="565.51" stroke="#2a2a2a" stroke-width="0.85" />
<line x1="525.28" y1="565.51" x2="527.2" y2="565.51" stroke="#8a8a8a" stroke-width="0.85" />
<text x="299.5" y="567.51" font-size="6.2" text-anchor="middle" fill="#333" >1000</text>
<line x1="311" y1="561.12" x2="313.4" y2="561.12" stroke="#2a2a2a" stroke-width="0.85" />
<line x1="526" y1="561.12" x2="527.2" y2="561.12" stroke="#8a8a8a" stroke-width="0.85" />
<line x1="311" y1="556.74" x2="313.4" y2="556.74" stroke="#2a2a2a" stroke-width="0.85" />
<line x1="526" y1="556.74" x2="527.2" y2="556.74" stroke="#8a8a8a" stroke-width="0.85" />
<line x1="311" y1="552.35" x2="313.4" y2="552.35" stroke="#2a2a2a" stroke-width="0.85" />
<line x1="526" y1="552.35" x2="527.2" y2="552.35" stroke="#8a8a8a" stroke-width="0.85" />
<line x1="309.5" y1="547.96" x2="314.3" y2="547.96" stroke="#2a2a2a" stroke-width="0.85" />
<line x1="525.28" y1="547.96" x2="527.2" y2="547.96" stroke="#8a8a8a" stroke-width="0.85" />
<text x="299.5" y="549.96" font-size="6.2" text-anchor="middle" fill="#333" >1200</text>
<line x1="311" y1="543.57" x2="313.4" y2="543.57" stroke="#2a2a2a" stroke-width="0.85" />
<line x1="526" y1="543.57" x2="527.2" y2="543.57" stroke="#8a8a8a" stroke-width="0.85" />
<line x1="311" y1="539.18" x2="313.4" y2="539.18" stroke="#2a2a2a" stroke-width="0.85" />
<line x1="526" y1="539.18" x2="527.2" y2="539.18" stroke="#8a8a8a" stroke-width="0.85" />
<line x1="311" y1="534.79" x2="313.4" y2="534.79" stroke="#2a2a2a" stroke-width="0.85" />
<line x1="526" y1="534.79" x2="527.2" y2="534.79" stroke="#8a8a8a" stroke-width="0.85" />
<line x1="309.5" y1="530.4" x2="314.3" y2="530.4" stroke="#2a2a2a" stroke-width="0.85" />
<line x1="525.28" y1="530.4" x2="527.2" y2="530.4" stroke="#8a8a8a" stroke-width="0.85" />
<text x="299.5" y="532.4" font-size="6.2" text-anchor="middle" fill="#333" >1400</text>
<line x1="311.9" y1="530.4" x2="311.9" y2="664.16" stroke="#2a2a2a" stroke-width="0.85" />
<line x1="311.4" y1="663.66" x2="527.7" y2="663.66" stroke="#2a2a2a" stroke-width="0.85" />
<text x="338.6" y="541.2" font-size="8.2" text-anchor="middle" stroke="#000" stroke-width="0.3" fill="#000" >0.3 nM</text>
<text x="373.3" y="541.2" font-size="8.2" text-anchor="middle" stroke="#000" stroke-width="0.3" fill="#000" >1 nM</text>
<text x="417.2" y="541.2" font-size="8.2" text-anchor="middle" stroke="#000" stroke-width="0.3" fill="#000" >5 nM</text>
<text x="477.3" y="541.2" font-size="8.2" text-anchor="middle" stroke="#000" stroke-width="0.3" fill="#000" >0 nM</text>
<text x="308.7" y="526.2" font-size="8.2" text-anchor="start" stroke="#000" stroke-width="0.3" fill="#000" >0 nM</text>
<line x1="315.7" y1="534.5" x2="317.8" y2="528.8" stroke="#111" stroke-width="0.9" />
<text x="286.4" y="594.7" font-size="6.3" text-anchor="middle" font-weight="bold" fill="#000" transform="rotate(-90 286.4 594.7)">Signal (CPS) halflife corrected</text>
<text x="419.55" y="682.3" font-size="6.2" text-anchor="middle" font-weight="bold" fill="#000" >Time (Minutes)</text>
<text x="276.6" y="534" font-size="16" text-anchor="start" font-weight="bold" fill="#000" >g</text>
<line x1="62.49" y1="717.2" x2="62.49" y2="907.2" stroke="#6f9ce0" stroke-width="1.35" stroke-dasharray="4.8 4.6" stroke-dashoffset="2"/>
<line x1="97.41" y1="717.2" x2="97.41" y2="907.2" stroke="#6f9ce0" stroke-width="1.35" stroke-dasharray="4.8 4.6" stroke-dashoffset="2"/>
<line x1="165.39" y1="717.2" x2="165.39" y2="907.2" stroke="#6f9ce0" stroke-width="1.35" stroke-dasharray="4.8 4.6" stroke-dashoffset="2"/>
<line x1="235.76" y1="717.2" x2="235.76" y2="907.2" stroke="#6f9ce0" stroke-width="1.35" stroke-dasharray="4.8 4.6" stroke-dashoffset="2"/>
<polyline points="53.4,888.55 54.09,888.42 54.79,888.2 55.48,888.25 56.17,887.33 56.87,888.18 57.56,888.05 58.26,888.82 58.95,888.38 59.64,888.73 60.34,887.41 61.03,888.34 61.72,887.49 62.42,888.16 63.11,887.36 63.81,887.25 64.5,887.55 65.19,887.62 65.89,887.47 66.58,887.02 67.27,887.14 67.97,887.48 68.66,887.12 69.35,887.3 70.05,886.13 70.74,885.5 71.44,886.15 72.13,885.84 72.82,885.42 73.52,886.06 74.21,885.32 74.9,885.56 75.6,885.17 76.29,884.52 76.98,885.18 77.68,884.67 78.37,884.12 79.07,884.68 79.76,883.92 80.45,883.96 81.15,883.72 81.84,883.8 82.53,883.19 83.23,884.32 83.92,882.75 84.62,882.7 85.31,882.42 86,882.61 86.7,882.93 87.39,882.8 88.08,882.62 88.78,882.73 89.47,881.66 90.16,882.47 90.86,881.64 91.55,882.5 92.25,881.52 92.94,881.6 93.63,881.26 94.33,881.59 95.02,880.19 95.71,881.42 96.41,880.72 97.1,881.62 97.41,878.87 98.1,877.87 98.8,878.04 99.49,878.55 100.18,876.68 100.88,874.98 101.57,875.04 102.27,873.04 102.96,871.24 103.65,872.49 104.35,870.36 105.04,870.44 105.73,867.74 106.43,870.33 107.12,866.46 107.81,868.04 108.51,866.36 109.2,865.83 109.9,864.54 110.59,865.59 111.28,864.6 111.98,864.25 112.67,860.04 113.36,859.65 114.06,859.21 114.75,859.35 115.45,859.02 116.14,859.26 116.83,857.33 117.53,858.69 118.22,856.87 118.91,856.65 119.61,855.14 120.3,856.38 120.99,853.52 121.69,854.52 122.38,851.75 123.08,853.43 123.77,851.77 124.46,852.18 125.16,850.59 125.85,851.51 126.54,849.93 127.24,849.5 127.93,848.04 128.63,848 129.32,849.54 130.01,849.07 130.71,847.83 131.4,847.43 132.09,846.83 132.79,847.7 133.48,845.1 134.17,846.34 134.87,846.25 135.56,844.26 136.26,843.38 136.95,845.61 137.64,842.68 138.34,845.26 139.03,842.17 139.72,844.06 140.42,843.1 141.11,843.37 141.81,842.39 142.5,842.6 143.19,841.13 143.89,842.19 144.58,841.47 145.27,844.57 145.97,839.86 146.66,842.41 147.35,839.2 148.05,839.03 148.74,838.7 149.44,839.78 150.13,837.85 150.82,838.22 151.52,837.55 152.21,838.12 152.9,836.59 153.6,835.68 154.29,835.25 154.98,834.92 155.68,834.98 156.37,835.21 157.07,834.51 157.76,834.53 158.45,833.45 159.15,834.51 159.84,834.61 160.53,835.24 161.23,831.79 161.92,834.67 162.62,833.25 163.31,833.07 164,832.1 164.85,832.48 165.54,831.13 166.24,827.54 166.93,827.73 167.63,827.58 168.32,825.01 169.01,827.58 169.71,823.9 170.4,821.22 171.09,817.61 171.79,818.57 172.48,816.82 173.17,816.36 173.87,811.86 174.56,812.98 175.26,805.69 175.95,805.29 176.64,800.18 177.34,803.31 178.03,802.27 178.72,803.48 179.42,804.4 180.11,799.67 180.8,795.91 181.5,794.32 182.19,792.74 182.89,792.22 183.58,789.98 184.27,789.83 184.97,784.61 185.66,789 186.35,784.75 187.05,786.64 187.74,778.49 188.44,779.39 189.13,778.14 189.82,781.1 190.52,776.33 191.21,778.17 191.9,774.67 192.6,775.72 193.29,772.16 193.98,774.73 194.68,769.89 195.37,772.19 196.07,770.31 196.76,771.06 197.45,768.4 198.15,767.28 198.84,766.43 199.53,765.77 200.23,764.14 200.92,765.79 201.62,760.13 202.31,763.47 203,758.38 203.7,759.6 204.39,760.62 205.08,759.44 205.78,756.38 206.47,758.16 207.16,756.62 207.86,754.25 208.55,754.18 209.25,753.79 209.94,752.65 210.63,752.36 211.33,751.98 212.02,752.83 212.71,749.08 213.41,750.96 214.1,750.05 214.8,751.55 215.49,747.95 216.18,749 216.88,747.98 217.57,749.72 218.26,745 218.96,742.74 219.65,746.08 220.34,746.04 221.04,743.44 221.73,749.33 222.43,742.78 223.12,745.41 223.81,740.41 224.51,743.76 225.2,742.81 225.89,742.87 226.59,741.03 227.28,743.38 227.97,740.25 228.67,743.77 229.36,739.52 230.06,739.56 230.75,735.87 231.44,739.05 232.14,737.96 232.83,737.12 233.52,735.71 234.22,735.51 234.91,735.32 235.53,738.23 236.22,735.72 236.92,737.4 237.61,735.9 238.3,737.1 239,737.24 239.69,740.73 240.38,736.56 241.08,739.97 241.77,735.41 242.46,737.87 243.16,738.44 243.85,736.53 244.55,734.18 245.24,737.27 245.93,733.51 246.63,734.62 247.32,737.12 248.01,735.33 248.71,735.11 249.4,736.15 250.1,734.03 250.79,738.58 251.48,737.07 252.18,738.72 252.87,736.67 253.56,737.04 254.26,737.88 254.95,739.01 255.64,735.11 256.34,737.42 257.03,734.77 257.73,740.23 258.42,736.98 259.11,737.73 259.81,736.19 260.5,738.58 261.19,734.27 261.89,737.82 262.58,735.8 263.28,737.48 263.97,734.87 264.66,738.38 265.36,734.49 266.05,736.81 266.74,735.8 267.44,737.62 268.13,735.55 268.82,735.58 269.52,735.09 270.21,736.71 270.91,734.45 271.6,737.66 272.29,734.04 272.99,737.63 273.68,739.59 274.37,735.68 275.07,735.67 275.76,739.43 276.46,736.38 277.15,738.91 277.84,733.53 278.54,737.17 279.23,738.59 279.92,736.85 280.62,737.14 281.31,735.23 282,738.07 282.7,741.23 283.39,736.52 284.09,738.66 284.78,737.14 285.47,741.03 286.17,735.37 286.86,735.72 287.55,739.01 288.25,736.1 288.94,736.97 289.63,734.45 290.33,735.38 291.02,738.7 291.72,734.76 292.41,737.62 293.1,737.39 293.8,737.28 294.49,737.72 295.18,741.22 295.88,733.35 296.57,738.3 297.27,737.8 297.96,737.75 298.65,738.7 299.35,739.83 300.04,736.98 300.73,738.84 301.43,736.14 302.12,736.87 302.81,737.48 303.51,737.43 304.2,736.32 304.9,739.49 305.59,736.36 306.28,740 306.98,734.89 307.67,737.58 308.36,736.43 309.06,740.16 309.75,736.31 310.45,739.98 311.14,736.26 311.83,739.01 312.53,737.96 313.22,737.35 313.91,735.61 314.61,739.44 315.3,735.34 315.99,738.87 316.69,737.16 317.38,738.82 318.08,738.55 318.77,739.55 319.46,737.6 320.16,736.1 320.85,735.28 321.54,739.14 322.24,735.07 322.93,738.53 323.62,737.08 324.32,737.29 325.01,736.56 325.71,734.77 326.4,736.96 327.09,740.68 327.79,735.87 328.48,739.25 329.17,737.4 329.87,743.76 330.56,735.58 331.26,737.39 331.95,736 332.64,737.47 333.34,735.32 334.03,739.04 334.72,735.7 335.42,740.49 336.11,738.16" fill="none" stroke="#111" stroke-width="0.75" stroke-linejoin="round"/>
<polyline points="53.4,888.2 53.79,888.17 54.17,888.14 54.56,888.1 54.94,888.07 55.33,888.03 55.71,888 56.1,887.96 56.48,887.93 56.87,887.89 57.25,887.85 57.64,887.81 58.02,887.77 58.41,887.73 58.8,887.69 59.18,887.65 59.57,887.61 59.95,887.56 60.34,887.52 60.72,887.47 61.11,887.43 61.49,887.38 61.88,887.33 62.26,887.28 62.65,887.23 63.03,887.18 63.42,887.13 63.81,887.07 64.19,887.02 64.58,886.97 64.96,886.91 65.35,886.86 65.73,886.8 66.12,886.74 66.5,886.69 66.89,886.63 67.27,886.57 67.66,886.51 68.04,886.45 68.43,886.39 68.81,886.33 69.2,886.26 69.59,886.2 69.97,886.14 70.36,886.07 70.74,886.01 71.13,885.94 71.51,885.88 71.9,885.81 72.28,885.74 72.67,885.67 73.05,885.6 73.44,885.53 73.82,885.46 74.21,885.39 74.6,885.32 74.98,885.25 75.37,885.17 75.75,885.1 76.14,885.02 76.52,884.95 76.91,884.87 77.29,884.79 77.68,884.72 78.06,884.64 78.45,884.56 78.83,884.48 79.22,884.4 79.61,884.32 79.99,884.24 80.38,884.15 80.76,884.07 81.15,883.98 81.53,883.9 81.92,883.81 82.3,883.73 82.69,883.64 83.07,883.55 83.46,883.46 83.84,883.37 84.23,883.28 84.62,883.19 85,883.1 85.39,883.01 85.77,882.92 86.16,882.82 86.54,882.73 86.93,882.63 87.31,882.54 87.7,882.44 88.08,882.34 88.47,882.24 88.85,882.14 89.24,882.04 89.63,881.94 90.01,881.84 90.4,881.74 90.78,881.64 91.17,881.53 91.55,881.43 91.94,881.32 92.32,881.22 92.71,881.11 93.09,881 93.48,880.89 93.86,880.78 94.25,880.68 94.64,880.56 95.02,880.45 95.41,880.34 95.79,880.23 96.18,880.11 96.56,880 96.95,879.88 97.33,879.77 97.41,879.75 97.41,879.75 97.8,879.43 98.18,879.12 98.57,878.8 98.95,878.48 99.34,878.16 99.72,877.84 100.11,877.52 100.49,877.19 100.88,876.87 101.26,876.54 101.65,876.21 102.03,875.89 102.42,875.55 102.81,875.22 103.19,874.89 103.58,874.56 103.96,874.22 104.35,873.89 104.73,873.55 105.12,873.21 105.5,872.87 105.89,872.53 106.27,872.19 106.66,871.84 107.04,871.5 107.43,871.15 107.81,870.81 108.2,870.46 108.59,870.11 108.97,869.76 109.36,869.41 109.74,869.06 110.13,868.7 110.51,868.34 110.9,867.98 111.28,867.62 111.67,867.25 112.05,866.88 112.44,866.51 112.82,866.13 113.21,865.75 113.6,865.37 113.98,864.99 114.37,864.61 114.75,864.22 115.14,863.84 115.52,863.46 115.91,863.07 116.29,862.69 116.68,862.31 117.06,861.92 117.45,861.54 117.83,861.16 118.22,860.79 118.61,860.41 118.99,860.04 119.38,859.67 119.76,859.3 120.15,858.94 120.53,858.58 120.92,858.23 121.3,857.87 121.69,857.52 122.07,857.18 122.46,856.83 122.84,856.49 123.23,856.14 123.62,855.8 124,855.46 124.39,855.12 124.77,854.79 125.16,854.45 125.54,854.12 125.93,853.78 126.31,853.45 126.7,853.12 127.08,852.79 127.47,852.46 127.85,852.13 128.24,851.81 128.63,851.48 129.01,851.15 129.4,850.83 129.78,850.5 130.17,850.18 130.55,849.85 130.94,849.53 131.32,849.21 131.71,848.88 132.09,848.56 132.48,848.24 132.86,847.92 133.25,847.59 133.64,847.27 134.02,846.95 134.41,846.62 134.79,846.3 135.18,845.98 135.56,845.66 135.95,845.33 136.33,845.01 136.72,844.69 137.1,844.37 137.49,844.05 137.87,843.73 138.26,843.41 138.64,843.09 139.03,842.77 139.42,842.45 139.8,842.14 140.19,841.82 140.57,841.5 140.96,841.19 141.34,840.87 141.73,840.55 142.11,840.24 142.5,839.92 142.88,839.61 143.27,839.29 143.65,838.98 144.04,838.66 144.43,838.35 144.81,838.04 145.2,837.72 145.58,837.41 145.97,837.1 146.35,836.79 146.74,836.47 147.12,836.16 147.51,835.85 147.89,835.54 148.28,835.23 148.66,834.92 149.05,834.61 149.44,834.3 149.82,833.99 150.21,833.68 150.59,833.37 150.98,833.06 151.36,832.75 151.75,832.44 152.13,832.13 152.52,831.83 152.9,831.52 153.29,831.21 153.67,830.9 154.06,830.6 154.45,830.29 154.83,829.98 155.22,829.68 155.6,829.37 155.99,829.07 156.37,828.76 156.76,828.46 157.14,828.15 157.53,827.85 157.91,827.54 158.3,827.24 158.68,826.93 159.07,826.63 159.46,826.33 159.84,826.03 160.23,825.72 160.61,825.42 161,825.12 161.38,824.82 161.77,824.52 162.15,824.22 162.54,823.92 162.92,823.61 163.31,823.31 163.69,823.02 164.08,822.72 164.47,822.42 164.85,822.12 165.24,821.82 165.39,821.7 165.39,821.7 165.78,821.11 166.16,820.52 166.55,819.93 166.93,819.34 167.32,818.75 167.7,818.17 168.09,817.58 168.47,817 168.86,816.41 169.24,815.83 169.63,815.25 170.01,814.68 170.4,814.1 170.79,813.52 171.17,812.95 171.56,812.37 171.94,811.8 172.33,811.23 172.71,810.66 173.1,810.1 173.48,809.53 173.87,808.96 174.25,808.4 174.64,807.84 175.02,807.28 175.41,806.72 175.8,806.16 176.18,805.6 176.57,805.05 176.95,804.49 177.34,803.94 177.72,803.39 178.11,802.84 178.49,802.29 178.88,801.74 179.26,801.2 179.65,800.65 180.03,800.11 180.42,799.57 180.8,799.03 181.19,798.49 181.58,797.95 181.96,797.42 182.35,796.89 182.73,796.36 183.12,795.83 183.5,795.3 183.89,794.77 184.27,794.25 184.66,793.72 185.04,793.2 185.43,792.68 185.81,792.16 186.2,791.64 186.59,791.12 186.97,790.6 187.36,790.09 187.74,789.57 188.13,789.06 188.51,788.54 188.9,788.03 189.28,787.52 189.67,787.01 190.05,786.5 190.44,785.98 190.82,785.47 191.21,784.97 191.6,784.46 191.98,783.95 192.37,783.44 192.75,782.93 193.14,782.42 193.52,781.92 193.91,781.41 194.29,780.9 194.68,780.39 195.06,779.89 195.45,779.38 195.83,778.87 196.22,778.36 196.61,777.86 196.99,777.35 197.38,776.84 197.76,776.33 198.15,775.82 198.53,775.32 198.92,774.81 199.3,774.3 199.69,773.79 200.07,773.29 200.46,772.78 200.84,772.28 201.23,771.77 201.62,771.27 202,770.77 202.39,770.26 202.77,769.76 203.16,769.26 203.54,768.76 203.93,768.27 204.31,767.77 204.7,767.28 205.08,766.78 205.47,766.29 205.85,765.8 206.24,765.31 206.63,764.82 207.01,764.33 207.4,763.85 207.78,763.37 208.17,762.89 208.55,762.41 208.94,761.93 209.32,761.46 209.71,760.98 210.09,760.51 210.48,760.05 210.86,759.58 211.25,759.11 211.63,758.65 212.02,758.19 212.41,757.73 212.79,757.27 213.18,756.82 213.56,756.36 213.95,755.91 214.33,755.46 214.72,755.01 215.1,754.56 215.49,754.11 215.87,753.66 216.26,753.22 216.64,752.78 217.03,752.34 217.42,751.89 217.8,751.46 218.19,751.02 218.57,750.58 218.96,750.15 219.34,749.71 219.73,749.28 220.11,748.85 220.5,748.42 220.88,747.99 221.27,747.57 221.65,747.14 222.04,746.71 222.43,746.29 222.81,745.87 223.2,745.45 223.58,745.03 223.97,744.61 224.35,744.19 224.74,743.77 225.12,743.36 225.51,742.94 225.89,742.53 226.28,742.12 226.66,741.71 227.05,741.3 227.44,740.89 227.82,740.48 228.21,740.07 228.59,739.67 228.98,739.27 229.36,738.86 229.75,738.46 230.13,738.06 230.52,737.66 230.9,737.26 231.29,736.87 231.67,736.47 232.06,736.08 232.45,735.69 232.83,735.29 233.22,734.9 233.6,734.52 233.99,734.13 234.37,733.74 234.76,733.36 235.14,732.97 235.53,732.59 235.53,732.59 235.91,732.63 236.3,732.66 236.68,732.7 237.07,732.74 237.46,732.77 237.84,732.81 238.23,732.84 238.61,732.88 239,732.92 239.38,732.95 239.77,732.99 240.15,733.03 240.54,733.06 240.92,733.1 241.31,733.13 241.69,733.17 242.08,733.21 242.46,733.24 242.85,733.28 243.24,733.31 243.62,733.35 244.01,733.39 244.39,733.42 244.78,733.46 245.16,733.49 245.55,733.53 245.93,733.56 246.32,733.6 246.7,733.63 247.09,733.67 247.47,733.71 247.86,733.74 248.25,733.77 248.63,733.81 249.02,733.84 249.4,733.88 249.79,733.91 250.17,733.95 250.56,733.98 250.94,734.02 251.33,734.05 251.71,734.08 252.1,734.12 252.48,734.15 252.87,734.18 253.26,734.22 253.64,734.25 254.03,734.28 254.41,734.32 254.8,734.35 255.18,734.38 255.57,734.42 255.95,734.45 256.34,734.48 256.72,734.51 257.11,734.54 257.49,734.58 257.88,734.61 258.27,734.64 258.65,734.67 259.04,734.7 259.42,734.73 259.81,734.76 260.19,734.79 260.58,734.82 260.96,734.85 261.35,734.88 261.73,734.92 262.12,734.95 262.5,734.98 262.89,735.01 263.28,735.04 263.66,735.07 264.05,735.1 264.43,735.13 264.82,735.16 265.2,735.19 265.59,735.22 265.97,735.25 266.36,735.28 266.74,735.31 267.13,735.34 267.51,735.37 267.9,735.4 268.29,735.43 268.67,735.46 269.06,735.49 269.44,735.52 269.83,735.55 270.21,735.58 270.6,735.61 270.98,735.64 271.37,735.67 271.75,735.7 272.14,735.73 272.52,735.76 272.91,735.79 273.29,735.81 273.68,735.84 274.07,735.87 274.45,735.9 274.84,735.93 275.22,735.96 275.61,735.99 275.99,736.02 276.38,736.05 276.76,736.08 277.15,736.11 277.53,736.14 277.92,736.17 278.3,736.2 278.69,736.23 279.08,736.25 279.46,736.28 279.85,736.31 280.23,736.34 280.62,736.37 281,736.4 281.39,736.43 281.77,736.46 282.16,736.48 282.54,736.51 282.93,736.54 283.31,736.57 283.7,736.6 284.09,736.63 284.47,736.66 284.86,736.68 285.24,736.71 285.63,736.74 286.01,736.77 286.4,736.8 286.78,736.83 287.17,736.85 287.55,736.88 287.94,736.91 288.32,736.94 288.71,736.97 289.1,736.99 289.48,737.02 289.87,737.05 290.25,737.08 290.64,737.11 291.02,737.13 291.41,737.16 291.79,737.19 292.18,737.22 292.56,737.24 292.95,737.27 293.33,737.3 293.72,737.33 294.11,737.35 294.49,737.38 294.88,737.41 295.26,737.44 295.65,737.46 296.03,737.49 296.42,737.52 296.8,737.54 297.19,737.57 297.57,737.6 297.96,737.62 298.34,737.65 298.73,737.68 299.12,737.7 299.5,737.73 299.89,737.76 300.27,737.78 300.66,737.81 301.04,737.84 301.43,737.86 301.81,737.89 302.2,737.92 302.58,737.94 302.97,737.97 303.35,737.99 303.74,738.02 304.12,738.05 304.51,738.07 304.9,738.1 305.28,738.12 305.67,738.15 306.05,738.17 306.44,738.2 306.82,738.23 307.21,738.25 307.59,738.28 307.98,738.3 308.36,738.33 308.75,738.35 309.13,738.38 309.52,738.4 309.91,738.43 310.29,738.45 310.68,738.48 311.06,738.5 311.45,738.53 311.83,738.55 312.22,738.58 312.6,738.6 312.99,738.63 313.37,738.65 313.76,738.68 314.14,738.7 314.53,738.72 314.92,738.75 315.3,738.77 315.69,738.8 316.07,738.82 316.46,738.84 316.84,738.87 317.23,738.89 317.61,738.92 318,738.94 318.38,738.96 318.77,738.99 319.15,739.01 319.54,739.03 319.93,739.06 320.31,739.08 320.7,739.1 321.08,739.13 321.47,739.15 321.85,739.17 322.24,739.2 322.62,739.22 323.01,739.24 323.39,739.26 323.78,739.29 324.16,739.31 324.55,739.33 324.94,739.35 325.32,739.38 325.71,739.4 326.09,739.42 326.48,739.44 326.86,739.47 327.25,739.49 327.63,739.51 328.02,739.53 328.4,739.55 328.79,739.57 329.17,739.6 329.56,739.62 329.95,739.64 330.33,739.66 330.72,739.68 331.1,739.7 331.49,739.72 331.87,739.75 332.26,739.77 332.64,739.79 333.03,739.81 333.41,739.83 333.8,739.85 334.18,739.87 334.57,739.89 334.95,739.91 335.34,739.93 335.73,739.95 336.11,739.97 336.5,739.99 336.65,740" fill="none" stroke="#e32b25" stroke-width="0.95" stroke-linejoin="round"/>
<line x1="53.4" y1="717.2" x2="361.7" y2="717.2" stroke="#8a8a8a" stroke-width="1.0" />
<line x1="361.7" y1="717.2" x2="361.7" y2="907.2" stroke="#8a8a8a" stroke-width="1.0" />
<line x1="53.4" y1="904.2" x2="53.4" y2="910.2" stroke="#2a2a2a" stroke-width="1.0" />
<line x1="53.4" y1="717.2" x2="53.4" y2="719.6" stroke="#8a8a8a" stroke-width="1.0" />
<text x="53.4" y="922" font-size="8.3" text-anchor="middle" stroke="#000" stroke-width="0.2" fill="#000" >0</text>
<line x1="68.81" y1="905.4" x2="68.81" y2="909" stroke="#2a2a2a" stroke-width="1.0" />
<line x1="68.81" y1="717.2" x2="68.81" y2="718.64" stroke="#8a8a8a" stroke-width="1.0" />
<line x1="84.23" y1="905.4" x2="84.23" y2="909" stroke="#2a2a2a" stroke-width="1.0" />
<line x1="84.23" y1="717.2" x2="84.23" y2="718.64" stroke="#8a8a8a" stroke-width="1.0" />
<line x1="99.65" y1="905.4" x2="99.65" y2="909" stroke="#2a2a2a" stroke-width="1.0" />
<line x1="99.65" y1="717.2" x2="99.65" y2="718.64" stroke="#8a8a8a" stroke-width="1.0" />
<line x1="115.06" y1="905.4" x2="115.06" y2="909" stroke="#2a2a2a" stroke-width="1.0" />
<line x1="115.06" y1="717.2" x2="115.06" y2="718.64" stroke="#8a8a8a" stroke-width="1.0" />
<line x1="130.47" y1="904.2" x2="130.47" y2="910.2" stroke="#2a2a2a" stroke-width="1.0" />
<line x1="130.47" y1="717.2" x2="130.47" y2="719.6" stroke="#8a8a8a" stroke-width="1.0" />
<text x="130.47" y="922" font-size="8.3" text-anchor="middle" stroke="#000" stroke-width="0.2" fill="#000" >100</text>
<line x1="145.89" y1="905.4" x2="145.89" y2="909" stroke="#2a2a2a" stroke-width="1.0" />
<line x1="145.89" y1="717.2" x2="145.89" y2="718.64" stroke="#8a8a8a" stroke-width="1.0" />
<line x1="161.31" y1="905.4" x2="161.31" y2="909" stroke="#2a2a2a" stroke-width="1.0" />
<line x1="161.31" y1="717.2" x2="161.31" y2="718.64" stroke="#8a8a8a" stroke-width="1.0" />
<line x1="176.72" y1="905.4" x2="176.72" y2="909" stroke="#2a2a2a" stroke-width="1.0" />
<line x1="176.72" y1="717.2" x2="176.72" y2="718.64" stroke="#8a8a8a" stroke-width="1.0" />
<line x1="192.14" y1="905.4" x2="192.14" y2="909" stroke="#2a2a2a" stroke-width="1.0" />
<line x1="192.14" y1="717.2" x2="192.14" y2="718.64" stroke="#8a8a8a" stroke-width="1.0" />
<line x1="207.55" y1="904.2" x2="207.55" y2="910.2" stroke="#2a2a2a" stroke-width="1.0" />
<line x1="207.55" y1="717.2" x2="207.55" y2="719.6" stroke="#8a8a8a" stroke-width="1.0" />
<text x="207.55" y="922" font-size="8.3" text-anchor="middle" stroke="#000" stroke-width="0.2" fill="#000" >200</text>
<line x1="222.97" y1="905.4" x2="222.97" y2="909" stroke="#2a2a2a" stroke-width="1.0" />
<line x1="222.97" y1="717.2" x2="222.97" y2="718.64" stroke="#8a8a8a" stroke-width="1.0" />
<line x1="238.38" y1="905.4" x2="238.38" y2="909" stroke="#2a2a2a" stroke-width="1.0" />
<line x1="238.38" y1="717.2" x2="238.38" y2="718.64" stroke="#8a8a8a" stroke-width="1.0" />
<line x1="253.8" y1="905.4" x2="253.8" y2="909" stroke="#2a2a2a" stroke-width="1.0" />
<line x1="253.8" y1="717.2" x2="253.8" y2="718.64" stroke="#8a8a8a" stroke-width="1.0" />
<line x1="269.21" y1="905.4" x2="269.21" y2="909" stroke="#2a2a2a" stroke-width="1.0" />
<line x1="269.21" y1="717.2" x2="269.21" y2="718.64" stroke="#8a8a8a" stroke-width="1.0" />
<line x1="284.62" y1="904.2" x2="284.62" y2="910.2" stroke="#2a2a2a" stroke-width="1.0" />
<line x1="284.62" y1="717.2" x2="284.62" y2="719.6" stroke="#8a8a8a" stroke-width="1.0" />
<text x="284.62" y="922" font-size="8.3" text-anchor="middle" stroke="#000" stroke-width="0.2" fill="#000" >300</text>
<line x1="300.04" y1="905.4" x2="300.04" y2="909" stroke="#2a2a2a" stroke-width="1.0" />
<line x1="300.04" y1="717.2" x2="300.04" y2="718.64" stroke="#8a8a8a" stroke-width="1.0" />
<line x1="315.45" y1="905.4" x2="315.45" y2="909" stroke="#2a2a2a" stroke-width="1.0" />
<line x1="315.45" y1="717.2" x2="315.45" y2="718.64" stroke="#8a8a8a" stroke-width="1.0" />
<line x1="330.87" y1="905.4" x2="330.87" y2="909" stroke="#2a2a2a" stroke-width="1.0" />
<line x1="330.87" y1="717.2" x2="330.87" y2="718.64" stroke="#8a8a8a" stroke-width="1.0" />
<line x1="346.28" y1="905.4" x2="346.28" y2="909" stroke="#2a2a2a" stroke-width="1.0" />
<line x1="346.28" y1="717.2" x2="346.28" y2="718.64" stroke="#8a8a8a" stroke-width="1.0" />
<line x1="361.7" y1="904.2" x2="361.7" y2="910.2" stroke="#2a2a2a" stroke-width="1.0" />
<line x1="361.7" y1="717.2" x2="361.7" y2="719.6" stroke="#8a8a8a" stroke-width="1.0" />
<text x="361.7" y="922" font-size="8.3" text-anchor="middle" stroke="#000" stroke-width="0.2" fill="#000" >400</text>
<line x1="51.6" y1="907.2" x2="55.2" y2="907.2" stroke="#2a2a2a" stroke-width="1.0" />
<line x1="360.26" y1="907.2" x2="361.7" y2="907.2" stroke="#8a8a8a" stroke-width="1.0" />
<line x1="51.6" y1="897.7" x2="55.2" y2="897.7" stroke="#2a2a2a" stroke-width="1.0" />
<line x1="360.26" y1="897.7" x2="361.7" y2="897.7" stroke="#8a8a8a" stroke-width="1.0" />
<line x1="50.4" y1="888.2" x2="56.4" y2="888.2" stroke="#2a2a2a" stroke-width="1.0" />
<line x1="359.3" y1="888.2" x2="361.7" y2="888.2" stroke="#8a8a8a" stroke-width="1.0" />
<text x="35.3" y="891" font-size="8.3" text-anchor="middle" stroke="#000" stroke-width="0.2" fill="#000" >0</text>
<line x1="51.6" y1="878.7" x2="55.2" y2="878.7" stroke="#2a2a2a" stroke-width="1.0" />
<line x1="360.26" y1="878.7" x2="361.7" y2="878.7" stroke="#8a8a8a" stroke-width="1.0" />
<line x1="51.6" y1="869.2" x2="55.2" y2="869.2" stroke="#2a2a2a" stroke-width="1.0" />
<line x1="360.26" y1="869.2" x2="361.7" y2="869.2" stroke="#8a8a8a" stroke-width="1.0" />
<line x1="51.6" y1="859.7" x2="55.2" y2="859.7" stroke="#2a2a2a" stroke-width="1.0" />
<line x1="360.26" y1="859.7" x2="361.7" y2="859.7" stroke="#8a8a8a" stroke-width="1.0" />
<line x1="51.6" y1="850.2" x2="55.2" y2="850.2" stroke="#2a2a2a" stroke-width="1.0" />
<line x1="360.26" y1="850.2" x2="361.7" y2="850.2" stroke="#8a8a8a" stroke-width="1.0" />
<line x1="50.4" y1="840.7" x2="56.4" y2="840.7" stroke="#2a2a2a" stroke-width="1.0" />
<line x1="359.3" y1="840.7" x2="361.7" y2="840.7" stroke="#8a8a8a" stroke-width="1.0" />
<text x="35.3" y="843.5" font-size="8.3" text-anchor="middle" stroke="#000" stroke-width="0.2" fill="#000" >500</text>
<line x1="51.6" y1="831.2" x2="55.2" y2="831.2" stroke="#2a2a2a" stroke-width="1.0" />
<line x1="360.26" y1="831.2" x2="361.7" y2="831.2" stroke="#8a8a8a" stroke-width="1.0" />
<line x1="51.6" y1="821.7" x2="55.2" y2="821.7" stroke="#2a2a2a" stroke-width="1.0" />
<line x1="360.26" y1="821.7" x2="361.7" y2="821.7" stroke="#8a8a8a" stroke-width="1.0" />
<line x1="51.6" y1="812.2" x2="55.2" y2="812.2" stroke="#2a2a2a" stroke-width="1.0" />
<line x1="360.26" y1="812.2" x2="361.7" y2="812.2" stroke="#8a8a8a" stroke-width="1.0" />
<line x1="51.6" y1="802.7" x2="55.2" y2="802.7" stroke="#2a2a2a" stroke-width="1.0" />
<line x1="360.26" y1="802.7" x2="361.7" y2="802.7" stroke="#8a8a8a" stroke-width="1.0" />
<line x1="50.4" y1="793.2" x2="56.4" y2="793.2" stroke="#2a2a2a" stroke-width="1.0" />
<line x1="359.3" y1="793.2" x2="361.7" y2="793.2" stroke="#8a8a8a" stroke-width="1.0" />
<text x="35.3" y="796" font-size="8.3" text-anchor="middle" stroke="#000" stroke-width="0.2" fill="#000" >1000</text>
<line x1="51.6" y1="783.7" x2="55.2" y2="783.7" stroke="#2a2a2a" stroke-width="1.0" />
<line x1="360.26" y1="783.7" x2="361.7" y2="783.7" stroke="#8a8a8a" stroke-width="1.0" />
<line x1="51.6" y1="774.2" x2="55.2" y2="774.2" stroke="#2a2a2a" stroke-width="1.0" />
<line x1="360.26" y1="774.2" x2="361.7" y2="774.2" stroke="#8a8a8a" stroke-width="1.0" />
<line x1="51.6" y1="764.7" x2="55.2" y2="764.7" stroke="#2a2a2a" stroke-width="1.0" />
<line x1="360.26" y1="764.7" x2="361.7" y2="764.7" stroke="#8a8a8a" stroke-width="1.0" />
<line x1="51.6" y1="755.2" x2="55.2" y2="755.2" stroke="#2a2a2a" stroke-width="1.0" />
<line x1="360.26" y1="755.2" x2="361.7" y2="755.2" stroke="#8a8a8a" stroke-width="1.0" />
<line x1="50.4" y1="745.7" x2="56.4" y2="745.7" stroke="#2a2a2a" stroke-width="1.0" />
<line x1="359.3" y1="745.7" x2="361.7" y2="745.7" stroke="#8a8a8a" stroke-width="1.0" />
<text x="35.3" y="748.5" font-size="8.3" text-anchor="middle" stroke="#000" stroke-width="0.2" fill="#000" >1500</text>
<line x1="51.6" y1="736.2" x2="55.2" y2="736.2" stroke="#2a2a2a" stroke-width="1.0" />
<line x1="360.26" y1="736.2" x2="361.7" y2="736.2" stroke="#8a8a8a" stroke-width="1.0" />
<line x1="51.6" y1="726.7" x2="55.2" y2="726.7" stroke="#2a2a2a" stroke-width="1.0" />
<line x1="360.26" y1="726.7" x2="361.7" y2="726.7" stroke="#8a8a8a" stroke-width="1.0" />
<line x1="51.6" y1="717.2" x2="55.2" y2="717.2" stroke="#2a2a2a" stroke-width="1.0" />
<line x1="360.26" y1="717.2" x2="361.7" y2="717.2" stroke="#8a8a8a" stroke-width="1.0" />
<line x1="53.4" y1="717.2" x2="53.4" y2="907.7" stroke="#2a2a2a" stroke-width="1.0" />
<line x1="52.9" y1="907.2" x2="362.2" y2="907.2" stroke="#2a2a2a" stroke-width="1.0" />
<text x="79.4" y="731.4" font-size="8.2" text-anchor="middle" stroke="#000" stroke-width="0.3" fill="#000" >0.1 nM</text>
<text x="131" y="731.4" font-size="8.2" text-anchor="middle" stroke="#000" stroke-width="0.3" fill="#000" >0.5 nM</text>
<text x="200" y="731.4" font-size="8.2" text-anchor="middle" stroke="#000" stroke-width="0.3" fill="#000" >1 nM</text>
<text x="285.6" y="731.4" font-size="8.2" text-anchor="middle" stroke="#000" stroke-width="0.3" fill="#000" >0 nM</text>
<text x="49.6" y="712.9" font-size="8.2" text-anchor="start" stroke="#000" stroke-width="0.3" fill="#000" >0 nM</text>
<line x1="57" y1="721.5" x2="58.8" y2="715.8" stroke="#111" stroke-width="0.9" />
<text x="17.4" y="812.2" font-size="9.0" text-anchor="middle" font-weight="bold" fill="#000" transform="rotate(-90 17.4 812.2)">Signal (CPS) halflife corrected</text>
<text x="207.55" y="935.5" font-size="8.7" text-anchor="middle" font-weight="bold" fill="#000" >Time (Minutes)</text>
<text x="6.9" y="723.6" font-size="16" text-anchor="start" font-weight="bold" fill="#000" >i</text>
<line x1="436.17" y1="717.2" x2="436.17" y2="907.2" stroke="#6f9ce0" stroke-width="1.35" stroke-dasharray="4.8 4.6" stroke-dashoffset="2"/>
<line x1="469.86" y1="717.2" x2="469.86" y2="907.2" stroke="#6f9ce0" stroke-width="1.35" stroke-dasharray="4.8 4.6" stroke-dashoffset="2"/>
<line x1="538.07" y1="717.2" x2="538.07" y2="907.2" stroke="#6f9ce0" stroke-width="1.35" stroke-dasharray="4.8 4.6" stroke-dashoffset="2"/>
<line x1="608.28" y1="717.2" x2="608.28" y2="907.2" stroke="#6f9ce0" stroke-width="1.35" stroke-dasharray="4.8 4.6" stroke-dashoffset="2"/>
<polyline points="426,888.39 426.69,888.99 427.39,888.05 428.08,888.22 428.77,888.14 429.47,889.11 430.16,888.12 430.86,889.05 431.55,888.83 432.24,889.09 432.94,888.62 433.63,888.67 434.32,888.44 435.02,889.15 435.71,888.48 436.17,889.01 436.87,888.42 437.56,889.33 438.25,888.83 438.95,888.09 439.64,888.36 440.34,888.27 441.03,887.58 441.72,887.83 442.42,887.41 443.11,886.89 443.8,887.85 444.5,886.89 445.19,885.82 445.89,886.66 446.58,886.17 447.27,886.3 447.97,885.25 448.66,886.46 449.35,885.66 450.05,885.87 450.74,885.1 451.43,885.53 452.13,884.68 452.82,885.43 453.52,884.72 454.21,885.13 454.9,884.7 455.6,884.64 456.29,884.25 456.98,884.6 457.68,883.37 458.37,884 459.07,884.02 459.76,883.39 460.45,883.57 461.15,883.17 461.84,882.91 462.53,883.1 463.23,882.56 463.92,883.11 464.61,882.33 465.31,881.93 466,882.8 466.7,882.2 467.39,881.77 468.08,882.46 468.78,882.11 469.47,879.46 469.86,881.58 470.55,878.6 471.24,878.23 471.94,879.85 472.63,877.04 473.32,877.12 474.02,874.14 474.71,876.1 475.41,874.22 476.1,875 476.79,870.74 477.49,872.59 478.18,872.2 478.87,872.74 479.57,868.81 480.26,870.82 480.95,867.77 481.65,869.01 482.34,866.29 483.04,866.02 483.73,863.42 484.42,865.22 485.12,859.93 485.81,864.04 486.5,857.34 487.2,860.79 487.89,859.07 488.58,861.39 489.28,862.23 489.97,859.64 490.67,857.41 491.36,855.49 492.05,858.36 492.75,854.43 493.44,855.71 494.13,855.19 494.83,856.86 495.52,854.17 496.22,853.66 496.91,852.25 497.6,851.19 498.3,853.66 498.99,849.21 499.68,850.38 500.38,849.08 501.07,848.89 501.76,846.97 502.46,849.08 503.15,849.13 503.85,850.47 504.54,845.2 505.23,846.48 505.93,845.63 506.62,847.56 507.31,845.23 508.01,845.91 508.7,844.83 509.4,846.66 510.09,840.72 510.78,844.66 511.48,843.62 512.17,845.77 512.86,843.25 513.56,842.53 514.25,840.63 514.94,843.17 515.64,841.21 516.33,842.28 517.03,841.48 517.72,839.57 518.41,838.9 519.11,837.86 519.8,840 520.49,839.93 521.19,837.02 521.88,839.96 522.57,839.84 523.27,840.45 523.96,837.06 524.66,837.38 525.35,837.09 526.04,836.06 526.74,834.56 527.43,836.91 528.12,835.72 528.82,836.37 529.51,833.97 530.21,834.59 530.9,834.22 531.59,835.03 532.29,833.74 532.98,837.09 533.67,834.22 534.37,832.77 535.06,832.33 535.75,831.67 536.45,831.58 537.14,831.65 537.84,829.78 538.07,831.42 538.76,830.22 539.45,828.62 540.15,825.19 540.84,825.58 541.54,820.91 542.23,819.33 542.92,818.13 543.62,814.61 544.31,814.24 545,814.41 545.7,811.25 546.39,811.91 547.08,807.32 547.78,807.81 548.47,802.42 549.17,803.99 549.86,801.5 550.55,802.62 551.25,801.76 551.94,799.75 552.63,798.46 553.33,795.54 554.02,794.35 554.72,792.76 555.41,790.5 556.1,790.75 556.8,789.51 557.49,789.41 558.18,786.31 558.88,786 559.57,785.53 560.26,784.62 560.96,779.08 561.65,783.16 562.35,780.79 563.04,781.97 563.73,780.07 564.43,777.78 565.12,776.13 565.81,777.04 566.51,772.75 567.2,771.96 567.9,774.04 568.59,772.04 569.28,770.5 569.98,771.03 570.67,769.42 571.36,770.28 572.06,766.44 572.75,767.84 573.44,766.36 574.14,765.82 574.83,763.99 575.53,764.9 576.22,762.78 576.91,761.83 577.61,761.74 578.3,762.5 578.99,761.58 579.69,761.36 580.38,760.72 581.07,759.7 581.77,757.31 582.46,760.81 583.16,756.12 583.85,756.09 584.54,754.94 585.24,756.44 585.93,751.78 586.62,755.22 587.32,753.92 588.01,753.85 588.71,750.8 589.4,750.08 590.09,747.36 590.79,749.26 591.48,749.24 592.17,749.82 592.87,748.28 593.56,748.26 594.25,748.28 594.95,746.68 595.64,744.2 596.34,745.68 597.03,743.03 597.72,746.13 598.42,744.29 599.11,744.43 599.8,740.56 600.5,741.15 601.19,741.46 601.89,740.49 602.58,740.08 603.27,738.63 603.97,738.39 604.66,740.68 605.35,737.35 606.05,740.3 606.74,738.28 607.43,740.01 608.13,735.83 608.28,737.62 608.98,736.64 609.67,737.98 610.36,734.57 611.06,737.56 611.75,736.96 612.44,735.89 613.14,734.21 613.83,736.7 614.53,737.62 615.22,738.18 615.91,734.52 616.61,737.21 617.3,733.56 617.99,738.97 618.69,734.72 619.38,737.88 620.07,734.08 620.77,736.95 621.46,734.75 622.16,737.84 622.85,737.36 623.54,738.63 624.24,736.86 624.93,738.77 625.62,734.58 626.32,735.75 627.01,735.28 627.71,738.58 628.4,736.03 629.09,738.38 629.79,734.33 630.48,736.33 631.17,735.17 631.87,737.56 632.56,738.62 633.25,738.3 633.95,737.78 634.64,737.21 635.34,735.62 636.03,737.99 636.72,736.23 637.42,735.26 638.11,737.06 638.8,738.78 639.5,735.84 640.19,737.95 640.89,736.13 641.58,736.66 642.27,734.01 642.97,739.67 643.66,736.21 644.35,737.75 645.05,736.18 645.74,737.33 646.43,736.38 647.13,736.16 647.82,736.48 648.52,737.28 649.21,735.84 649.9,737.77 650.6,736.87 651.29,736.23 651.98,736.58 652.68,737.4 653.37,736.69 654.06,739.32 654.76,737.67 655.45,739.2 656.15,735.9 656.84,738.46 657.53,737.99 658.23,737.76 658.92,736.07 659.61,739.84 660.31,734.28 661,737.78 661.7,736.65 662.39,736 663.08,736.26 663.78,738.81 664.47,733.34 665.16,739.24 665.86,736.77 666.55,736.28 667.24,737.89 667.94,738.13 668.63,736.06 669.33,735.12 670.02,738 670.71,738.28 671.41,735.5 672.1,738.21 672.79,737.81 673.49,737.2 674.18,736.1 674.88,737.32 675.57,734.98 676.26,737.1 676.96,736.05 677.65,737.72 678.34,738.56 679.04,738.35 679.73,736.68 680.42,738.55 681.12,736.74 681.81,739.67 682.51,734.62 683.2,735.51 683.89,737.63 684.59,737.49 685.28,736.81 685.97,736.2 686.67,735.88 687.36,738.09 688.06,737.3 688.75,738.13 689.44,738.31 690.14,737.39 690.83,737.98 691.52,737.82 692.22,737.02 692.91,736.61 693.6,737.1 694.3,736.67 694.99,738.32 695.69,737.62 696.38,737.12 697.07,737.85 697.77,737.11 698.46,737.5 699.15,739.97 699.85,738.4 700.54,738.96 701.23,736.53 701.93,739.93 702.62,740.16 703.32,739.44 704.01,736.6 704.7,738.53 705.4,738.66 706.09,737.97 706.78,741.39 707.48,737.84 708.17,737.39 708.87,737.81 709.56,737.58 710.25,737.47 710.95,738.87" fill="none" stroke="#111" stroke-width="0.75" stroke-linejoin="round"/>
<polyline points="426,888.2 436.17,888.96 436.17,888.96 436.56,888.86 436.94,888.76 437.33,888.67 437.72,888.57 438.1,888.47 438.49,888.38 438.87,888.28 439.26,888.18 439.64,888.09 440.03,887.99 440.41,887.9 440.8,887.8 441.18,887.71 441.57,887.61 441.95,887.52 442.34,887.42 442.73,887.33 443.11,887.24 443.5,887.15 443.88,887.05 444.27,886.96 444.65,886.87 445.04,886.78 445.42,886.69 445.81,886.6 446.19,886.51 446.58,886.42 446.96,886.33 447.35,886.24 447.74,886.15 448.12,886.07 448.51,885.98 448.89,885.89 449.28,885.81 449.66,885.72 450.05,885.64 450.43,885.55 450.82,885.46 451.2,885.38 451.59,885.29 451.97,885.21 452.36,885.12 452.75,885.04 453.13,884.95 453.52,884.87 453.9,884.79 454.29,884.7 454.67,884.62 455.06,884.54 455.44,884.45 455.83,884.37 456.21,884.29 456.6,884.21 456.98,884.12 457.37,884.04 457.75,883.96 458.14,883.88 458.53,883.8 458.91,883.72 459.3,883.64 459.68,883.56 460.07,883.48 460.45,883.4 460.84,883.32 461.22,883.24 461.61,883.16 461.99,883.08 462.38,883 462.76,882.93 463.15,882.85 463.54,882.77 463.92,882.69 464.31,882.62 464.69,882.54 465.08,882.46 465.46,882.39 465.85,882.31 466.23,882.24 466.62,882.16 467,882.09 467.39,882.02 467.77,881.94 468.16,881.87 468.55,881.8 468.93,881.72 469.32,881.65 469.7,881.58 469.86,881.55 469.86,881.55 470.24,881.1 470.63,880.65 471.01,880.2 471.4,879.75 471.78,879.3 472.17,878.85 472.55,878.4 472.94,877.94 473.32,877.49 473.71,877.04 474.09,876.58 474.48,876.13 474.87,875.67 475.25,875.22 475.64,874.76 476.02,874.31 476.41,873.85 476.79,873.39 477.18,872.93 477.56,872.46 477.95,871.99 478.33,871.51 478.72,871.03 479.1,870.55 479.49,870.08 479.88,869.6 480.26,869.12 480.65,868.64 481.03,868.17 481.42,867.7 481.8,867.24 482.19,866.78 482.57,866.33 482.96,865.89 483.34,865.45 483.73,865.03 484.11,864.61 484.5,864.21 484.89,863.81 485.27,863.41 485.66,863.01 486.04,862.62 486.43,862.23 486.81,861.85 487.2,861.47 487.58,861.09 487.97,860.71 488.35,860.34 488.74,859.97 489.12,859.61 489.51,859.25 489.9,858.89 490.28,858.54 490.67,858.19 491.05,857.84 491.44,857.49 491.82,857.15 492.21,856.81 492.59,856.48 492.98,856.15 493.36,855.82 493.75,855.49 494.13,855.17 494.52,854.85 494.91,854.54 495.29,854.22 495.68,853.91 496.06,853.6 496.45,853.3 496.83,852.99 497.22,852.69 497.6,852.39 497.99,852.09 498.37,851.79 498.76,851.49 499.14,851.2 499.53,850.91 499.91,850.63 500.3,850.34 500.69,850.06 501.07,849.78 501.46,849.51 501.84,849.24 502.23,848.97 502.61,848.7 503,848.44 503.38,848.19 503.77,847.93 504.15,847.68 504.54,847.44 504.92,847.19 505.31,846.96 505.7,846.72 506.08,846.5 506.47,846.27 506.85,846.05 507.24,845.83 507.62,845.62 508.01,845.41 508.39,845.2 508.78,844.99 509.16,844.79 509.55,844.59 509.93,844.39 510.32,844.2 510.71,844.01 511.09,843.82 511.48,843.63 511.86,843.44 512.25,843.26 512.63,843.07 513.02,842.89 513.4,842.71 513.79,842.53 514.17,842.35 514.56,842.17 514.94,841.99 515.33,841.81 515.72,841.64 516.1,841.46 516.49,841.28 516.87,841.11 517.26,840.93 517.64,840.75 518.03,840.57 518.41,840.39 518.8,840.21 519.18,840.03 519.57,839.85 519.95,839.68 520.34,839.5 520.73,839.32 521.11,839.15 521.5,838.97 521.88,838.8 522.27,838.62 522.65,838.45 523.04,838.28 523.42,838.1 523.81,837.93 524.19,837.76 524.58,837.59 524.96,837.43 525.35,837.26 525.74,837.09 526.12,836.92 526.51,836.76 526.89,836.6 527.28,836.43 527.66,836.27 528.05,836.11 528.43,835.95 528.82,835.79 529.2,835.63 529.59,835.47 529.97,835.31 530.36,835.15 530.74,835 531.13,834.84 531.52,834.68 531.9,834.53 532.29,834.37 532.67,834.22 533.06,834.07 533.44,833.92 533.83,833.76 534.21,833.61 534.6,833.46 534.98,833.31 535.37,833.17 535.75,833.02 536.14,832.87 536.53,832.73 536.91,832.58 537.3,832.44 537.68,832.29 538.07,832.15 538.07,832.15 538.45,830.96 538.84,829.77 539.22,828.6 539.61,827.44 539.99,826.3 540.38,825.16 540.76,824.05 541.15,822.95 541.54,821.86 541.92,820.8 542.31,819.75 542.69,818.73 543.08,817.72 543.46,816.74 543.85,815.78 544.23,814.85 544.62,813.94 545,813.04 545.39,812.16 545.77,811.29 546.16,810.44 546.55,809.6 546.93,808.78 547.32,807.96 547.7,807.16 548.09,806.37 548.47,805.59 548.86,804.82 549.24,804.06 549.63,803.3 550.01,802.56 550.4,801.82 550.78,801.08 551.17,800.36 551.56,799.64 551.94,798.92 552.33,798.21 552.71,797.5 553.1,796.79 553.48,796.09 553.87,795.39 554.25,794.69 554.64,794 555.02,793.3 555.41,792.62 555.79,791.93 556.18,791.26 556.57,790.58 556.95,789.91 557.34,789.25 557.72,788.59 558.11,787.94 558.49,787.29 558.88,786.65 559.26,786.01 559.65,785.39 560.03,784.77 560.42,784.15 560.8,783.55 561.19,782.95 561.57,782.36 561.96,781.78 562.35,781.21 562.73,780.64 563.12,780.09 563.5,779.54 563.89,779.01 564.27,778.48 564.66,777.95 565.04,777.44 565.43,776.93 565.81,776.42 566.2,775.92 566.58,775.43 566.97,774.94 567.36,774.46 567.74,773.98 568.13,773.51 568.51,773.04 568.9,772.58 569.28,772.11 569.67,771.65 570.05,771.2 570.44,770.74 570.82,770.29 571.21,769.84 571.59,769.39 571.98,768.94 572.37,768.49 572.75,768.05 573.14,767.61 573.52,767.17 573.91,766.73 574.29,766.3 574.68,765.87 575.06,765.44 575.45,765.02 575.83,764.6 576.22,764.18 576.6,763.77 576.99,763.35 577.38,762.94 577.76,762.53 578.15,762.12 578.53,761.71 578.92,761.31 579.3,760.9 579.69,760.5 580.07,760.1 580.46,759.7 580.84,759.3 581.23,758.9 581.61,758.5 582,758.09 582.39,757.69 582.77,757.29 583.16,756.88 583.54,756.48 583.93,756.07 584.31,755.67 584.7,755.26 585.08,754.86 585.47,754.46 585.85,754.06 586.24,753.66 586.62,753.26 587.01,752.87 587.4,752.48 587.78,752.1 588.17,751.72 588.55,751.34 588.94,750.97 589.32,750.6 589.71,750.24 590.09,749.89 590.48,749.54 590.86,749.2 591.25,748.86 591.63,748.54 592.02,748.21 592.4,747.89 592.79,747.58 593.18,747.27 593.56,746.96 593.95,746.66 594.33,746.35 594.72,746.06 595.1,745.76 595.49,745.47 595.87,745.19 596.26,744.9 596.64,744.62 597.03,744.34 597.41,744.06 597.8,743.78 598.19,743.51 598.57,743.24 598.96,742.97 599.34,742.7 599.73,742.43 600.11,742.17 600.5,741.9 600.88,741.64 601.27,741.37 601.65,741.11 602.04,740.86 602.42,740.6 602.81,740.35 603.2,740.09 603.58,739.84 603.97,739.6 604.35,739.35 604.74,739.11 605.12,738.86 605.51,738.62 605.89,738.39 606.28,738.15 606.66,737.92 607.05,737.69 607.43,737.46 607.82,737.23 608.21,737 608.28,736.96 608.28,736.96 608.67,736.93 609.05,736.89 609.44,736.85 609.82,736.81 610.21,736.78 610.59,736.74 610.98,736.7 611.37,736.66 611.75,736.63 612.14,736.59 612.52,736.56 612.91,736.53 613.29,736.5 613.68,736.47 614.06,736.45 614.45,736.43 614.83,736.41 615.22,736.4 615.6,736.39 615.99,736.39 616.38,736.39 616.76,736.39 617.15,736.39 617.53,736.39 617.92,736.39 618.3,736.39 618.69,736.39 619.07,736.4 619.46,736.4 619.84,736.4 620.23,736.4 620.61,736.4 621,736.41 621.39,736.41 621.77,736.41 622.16,736.41 622.54,736.42 622.93,736.42 623.31,736.42 623.7,736.43 624.08,736.43 624.47,736.43 624.85,736.44 625.24,736.44 625.62,736.45 626.01,736.45 626.39,736.46 626.78,736.46 627.17,736.46 627.55,736.47 627.94,736.47 628.32,736.48 628.71,736.49 629.09,736.49 629.48,736.5 629.86,736.5 630.25,736.51 630.63,736.51 631.02,736.52 631.4,736.52 631.79,736.53 632.18,736.54 632.56,736.54 632.95,736.55 633.33,736.56 633.72,736.56 634.1,736.57 634.49,736.58 634.87,736.58 635.26,736.59 635.64,736.6 636.03,736.6 636.41,736.61 636.8,736.62 637.19,736.62 637.57,736.63 637.96,736.64 638.34,736.65 638.73,736.65 639.11,736.66 639.5,736.67 639.88,736.67 640.27,736.68 640.65,736.69 641.04,736.7 641.42,736.7 641.81,736.71 642.2,736.72 642.58,736.73 642.97,736.73 643.35,736.74 643.74,736.75 644.12,736.76 644.51,736.77 644.89,736.77 645.28,736.78 645.66,736.79 646.05,736.8 646.43,736.8 646.82,736.81 647.21,736.82 647.59,736.83 647.98,736.83 648.36,736.84 648.75,736.85 649.13,736.86 649.52,736.86 649.9,736.87 650.29,736.88 650.67,736.88 651.06,736.89 651.44,736.9 651.83,736.91 652.22,736.91 652.6,736.92 652.99,736.93 653.37,736.93 653.76,736.94 654.14,736.95 654.53,736.95 654.91,736.96 655.3,736.97 655.68,736.97 656.07,736.98 656.45,736.99 656.84,736.99 657.23,737 657.61,737.01 658,737.01 658.38,737.02 658.77,737.03 659.15,737.03 659.54,737.04 659.92,737.05 660.31,737.05 660.69,737.06 661.08,737.07 661.46,737.07 661.85,737.08 662.23,737.09 662.62,737.09 663.01,737.1 663.39,737.11 663.78,737.11 664.16,737.12 664.55,737.13 664.93,737.14 665.32,737.14 665.7,737.15 666.09,737.16 666.47,737.16 666.86,737.17 667.24,737.18 667.63,737.18 668.02,737.19 668.4,737.2 668.79,737.21 669.17,737.21 669.56,737.22 669.94,737.23 670.33,737.23 670.71,737.24 671.1,737.25 671.48,737.26 671.87,737.26 672.25,737.27 672.64,737.28 673.03,737.29 673.41,737.29 673.8,737.3 674.18,737.31 674.57,737.32 674.95,737.32 675.34,737.33 675.72,737.34 676.11,737.34 676.49,737.35 676.88,737.36 677.26,737.37 677.65,737.38 678.04,737.38 678.42,737.39 678.81,737.4 679.19,737.41 679.58,737.41 679.96,737.42 680.35,737.43 680.73,737.44 681.12,737.44 681.5,737.45 681.89,737.46 682.27,737.47 682.66,737.47 683.05,737.48 683.43,737.49 683.82,737.5 684.2,737.51 684.59,737.51 684.97,737.52 685.36,737.53 685.74,737.54 686.13,737.55 686.51,737.55 686.9,737.56 687.28,737.57 687.67,737.58 688.06,737.59 688.44,737.59 688.83,737.6 689.21,737.61 689.6,737.62 689.98,737.63 690.37,737.63 690.75,737.64 691.14,737.65 691.52,737.66 691.91,737.67 692.29,737.68 692.68,737.68 693.06,737.69 693.45,737.7 693.84,737.71 694.22,737.72 694.61,737.73 694.99,737.73 695.38,737.74 695.76,737.75 696.15,737.76 696.53,737.77 696.92,737.78 697.3,737.78 697.69,737.79 698.07,737.8 698.46,737.81 698.85,737.82 699.23,737.83 699.62,737.84 700,737.84 700.39,737.85 700.77,737.86 701.16,737.87 701.54,737.88 701.93,737.89 702.31,737.9 702.7,737.9 703.08,737.91 703.47,737.92 703.86,737.93 704.24,737.94 704.63,737.95 705.01,737.96 705.4,737.97 705.78,737.97 706.17,737.98 706.55,737.99 706.94,738 707.32,738.01 707.71,738.02 708.09,738.03 708.48,738.04 708.87,738.05 709.25,738.05 709.64,738.06 710.02,738.07 710.41,738.08 710.79,738.09 711.18,738.1" fill="none" stroke="#e32b25" stroke-width="0.95" stroke-linejoin="round"/>
<line x1="426" y1="717.2" x2="734.3" y2="717.2" stroke="#8a8a8a" stroke-width="1.0" />
<line x1="734.3" y1="717.2" x2="734.3" y2="907.2" stroke="#8a8a8a" stroke-width="1.0" />
<line x1="426" y1="904.2" x2="426" y2="910.2" stroke="#2a2a2a" stroke-width="1.0" />
<line x1="426" y1="717.2" x2="426" y2="719.6" stroke="#8a8a8a" stroke-width="1.0" />
<text x="426" y="922" font-size="8.3" text-anchor="middle" stroke="#000" stroke-width="0.2" fill="#000" >0</text>
<line x1="441.42" y1="905.4" x2="441.42" y2="909" stroke="#2a2a2a" stroke-width="1.0" />
<line x1="441.42" y1="717.2" x2="441.42" y2="718.64" stroke="#8a8a8a" stroke-width="1.0" />
<line x1="456.83" y1="905.4" x2="456.83" y2="909" stroke="#2a2a2a" stroke-width="1.0" />
<line x1="456.83" y1="717.2" x2="456.83" y2="718.64" stroke="#8a8a8a" stroke-width="1.0" />
<line x1="472.25" y1="905.4" x2="472.25" y2="909" stroke="#2a2a2a" stroke-width="1.0" />
<line x1="472.25" y1="717.2" x2="472.25" y2="718.64" stroke="#8a8a8a" stroke-width="1.0" />
<line x1="487.66" y1="905.4" x2="487.66" y2="909" stroke="#2a2a2a" stroke-width="1.0" />
<line x1="487.66" y1="717.2" x2="487.66" y2="718.64" stroke="#8a8a8a" stroke-width="1.0" />
<line x1="503.07" y1="904.2" x2="503.07" y2="910.2" stroke="#2a2a2a" stroke-width="1.0" />
<line x1="503.07" y1="717.2" x2="503.07" y2="719.6" stroke="#8a8a8a" stroke-width="1.0" />
<text x="503.07" y="922" font-size="8.3" text-anchor="middle" stroke="#000" stroke-width="0.2" fill="#000" >100</text>
<line x1="518.49" y1="905.4" x2="518.49" y2="909" stroke="#2a2a2a" stroke-width="1.0" />
<line x1="518.49" y1="717.2" x2="518.49" y2="718.64" stroke="#8a8a8a" stroke-width="1.0" />
<line x1="533.9" y1="905.4" x2="533.9" y2="909" stroke="#2a2a2a" stroke-width="1.0" />
<line x1="533.9" y1="717.2" x2="533.9" y2="718.64" stroke="#8a8a8a" stroke-width="1.0" />
<line x1="549.32" y1="905.4" x2="549.32" y2="909" stroke="#2a2a2a" stroke-width="1.0" />
<line x1="549.32" y1="717.2" x2="549.32" y2="718.64" stroke="#8a8a8a" stroke-width="1.0" />
<line x1="564.74" y1="905.4" x2="564.74" y2="909" stroke="#2a2a2a" stroke-width="1.0" />
<line x1="564.74" y1="717.2" x2="564.74" y2="718.64" stroke="#8a8a8a" stroke-width="1.0" />
<line x1="580.15" y1="904.2" x2="580.15" y2="910.2" stroke="#2a2a2a" stroke-width="1.0" />
<line x1="580.15" y1="717.2" x2="580.15" y2="719.6" stroke="#8a8a8a" stroke-width="1.0" />
<text x="580.15" y="922" font-size="8.3" text-anchor="middle" stroke="#000" stroke-width="0.2" fill="#000" >200</text>
<line x1="595.57" y1="905.4" x2="595.57" y2="909" stroke="#2a2a2a" stroke-width="1.0" />
<line x1="595.57" y1="717.2" x2="595.57" y2="718.64" stroke="#8a8a8a" stroke-width="1.0" />
<line x1="610.98" y1="905.4" x2="610.98" y2="909" stroke="#2a2a2a" stroke-width="1.0" />
<line x1="610.98" y1="717.2" x2="610.98" y2="718.64" stroke="#8a8a8a" stroke-width="1.0" />
<line x1="626.39" y1="905.4" x2="626.39" y2="909" stroke="#2a2a2a" stroke-width="1.0" />
<line x1="626.39" y1="717.2" x2="626.39" y2="718.64" stroke="#8a8a8a" stroke-width="1.0" />
<line x1="641.81" y1="905.4" x2="641.81" y2="909" stroke="#2a2a2a" stroke-width="1.0" />
<line x1="641.81" y1="717.2" x2="641.81" y2="718.64" stroke="#8a8a8a" stroke-width="1.0" />
<line x1="657.23" y1="904.2" x2="657.23" y2="910.2" stroke="#2a2a2a" stroke-width="1.0" />
<line x1="657.23" y1="717.2" x2="657.23" y2="719.6" stroke="#8a8a8a" stroke-width="1.0" />
<text x="657.23" y="922" font-size="8.3" text-anchor="middle" stroke="#000" stroke-width="0.2" fill="#000" >300</text>
<line x1="672.64" y1="905.4" x2="672.64" y2="909" stroke="#2a2a2a" stroke-width="1.0" />
<line x1="672.64" y1="717.2" x2="672.64" y2="718.64" stroke="#8a8a8a" stroke-width="1.0" />
<line x1="688.06" y1="905.4" x2="688.06" y2="909" stroke="#2a2a2a" stroke-width="1.0" />
<line x1="688.06" y1="717.2" x2="688.06" y2="718.64" stroke="#8a8a8a" stroke-width="1.0" />
<line x1="703.47" y1="905.4" x2="703.47" y2="909" stroke="#2a2a2a" stroke-width="1.0" />
<line x1="703.47" y1="717.2" x2="703.47" y2="718.64" stroke="#8a8a8a" stroke-width="1.0" />
<line x1="718.88" y1="905.4" x2="718.88" y2="909" stroke="#2a2a2a" stroke-width="1.0" />
<line x1="718.88" y1="717.2" x2="718.88" y2="718.64" stroke="#8a8a8a" stroke-width="1.0" />
<line x1="734.3" y1="904.2" x2="734.3" y2="910.2" stroke="#2a2a2a" stroke-width="1.0" />
<line x1="734.3" y1="717.2" x2="734.3" y2="719.6" stroke="#8a8a8a" stroke-width="1.0" />
<text x="734.3" y="922" font-size="8.3" text-anchor="middle" stroke="#000" stroke-width="0.2" fill="#000" >400</text>
<line x1="424.2" y1="907.2" x2="427.8" y2="907.2" stroke="#2a2a2a" stroke-width="1.0" />
<line x1="732.86" y1="907.2" x2="734.3" y2="907.2" stroke="#8a8a8a" stroke-width="1.0" />
<line x1="424.2" y1="897.7" x2="427.8" y2="897.7" stroke="#2a2a2a" stroke-width="1.0" />
<line x1="732.86" y1="897.7" x2="734.3" y2="897.7" stroke="#8a8a8a" stroke-width="1.0" />
<line x1="423" y1="888.2" x2="429" y2="888.2" stroke="#2a2a2a" stroke-width="1.0" />
<line x1="731.9" y1="888.2" x2="734.3" y2="888.2" stroke="#8a8a8a" stroke-width="1.0" />
<text x="408" y="891" font-size="8.3" text-anchor="middle" stroke="#000" stroke-width="0.2" fill="#000" >0</text>
<line x1="424.2" y1="878.7" x2="427.8" y2="878.7" stroke="#2a2a2a" stroke-width="1.0" />
<line x1="732.86" y1="878.7" x2="734.3" y2="878.7" stroke="#8a8a8a" stroke-width="1.0" />
<line x1="424.2" y1="869.2" x2="427.8" y2="869.2" stroke="#2a2a2a" stroke-width="1.0" />
<line x1="732.86" y1="869.2" x2="734.3" y2="869.2" stroke="#8a8a8a" stroke-width="1.0" />
<line x1="424.2" y1="859.7" x2="427.8" y2="859.7" stroke="#2a2a2a" stroke-width="1.0" />
<line x1="732.86" y1="859.7" x2="734.3" y2="859.7" stroke="#8a8a8a" stroke-width="1.0" />
<line x1="424.2" y1="850.2" x2="427.8" y2="850.2" stroke="#2a2a2a" stroke-width="1.0" />
<line x1="732.86" y1="850.2" x2="734.3" y2="850.2" stroke="#8a8a8a" stroke-width="1.0" />
<line x1="423" y1="840.7" x2="429" y2="840.7" stroke="#2a2a2a" stroke-width="1.0" />
<line x1="731.9" y1="840.7" x2="734.3" y2="840.7" stroke="#8a8a8a" stroke-width="1.0" />
<text x="408" y="843.5" font-size="8.3" text-anchor="middle" stroke="#000" stroke-width="0.2" fill="#000" >500</text>
<line x1="424.2" y1="831.2" x2="427.8" y2="831.2" stroke="#2a2a2a" stroke-width="1.0" />
<line x1="732.86" y1="831.2" x2="734.3" y2="831.2" stroke="#8a8a8a" stroke-width="1.0" />
<line x1="424.2" y1="821.7" x2="427.8" y2="821.7" stroke="#2a2a2a" stroke-width="1.0" />
<line x1="732.86" y1="821.7" x2="734.3" y2="821.7" stroke="#8a8a8a" stroke-width="1.0" />
<line x1="424.2" y1="812.2" x2="427.8" y2="812.2" stroke="#2a2a2a" stroke-width="1.0" />
<line x1="732.86" y1="812.2" x2="734.3" y2="812.2" stroke="#8a8a8a" stroke-width="1.0" />
<line x1="424.2" y1="802.7" x2="427.8" y2="802.7" stroke="#2a2a2a" stroke-width="1.0" />
<line x1="732.86" y1="802.7" x2="734.3" y2="802.7" stroke="#8a8a8a" stroke-width="1.0" />
<line x1="423" y1="793.2" x2="429" y2="793.2" stroke="#2a2a2a" stroke-width="1.0" />
<line x1="731.9" y1="793.2" x2="734.3" y2="793.2" stroke="#8a8a8a" stroke-width="1.0" />
<text x="408" y="796" font-size="8.3" text-anchor="middle" stroke="#000" stroke-width="0.2" fill="#000" >1000</text>
<line x1="424.2" y1="783.7" x2="427.8" y2="783.7" stroke="#2a2a2a" stroke-width="1.0" />
<line x1="732.86" y1="783.7" x2="734.3" y2="783.7" stroke="#8a8a8a" stroke-width="1.0" />
<line x1="424.2" y1="774.2" x2="427.8" y2="774.2" stroke="#2a2a2a" stroke-width="1.0" />
<line x1="732.86" y1="774.2" x2="734.3" y2="774.2" stroke="#8a8a8a" stroke-width="1.0" />
<line x1="424.2" y1="764.7" x2="427.8" y2="764.7" stroke="#2a2a2a" stroke-width="1.0" />
<line x1="732.86" y1="764.7" x2="734.3" y2="764.7" stroke="#8a8a8a" stroke-width="1.0" />
<line x1="424.2" y1="755.2" x2="427.8" y2="755.2" stroke="#2a2a2a" stroke-width="1.0" />
<line x1="732.86" y1="755.2" x2="734.3" y2="755.2" stroke="#8a8a8a" stroke-width="1.0" />
<line x1="423" y1="745.7" x2="429" y2="745.7" stroke="#2a2a2a" stroke-width="1.0" />
<line x1="731.9" y1="745.7" x2="734.3" y2="745.7" stroke="#8a8a8a" stroke-width="1.0" />
<text x="408" y="748.5" font-size="8.3" text-anchor="middle" stroke="#000" stroke-width="0.2" fill="#000" >1500</text>
<line x1="424.2" y1="736.2" x2="427.8" y2="736.2" stroke="#2a2a2a" stroke-width="1.0" />
<line x1="732.86" y1="736.2" x2="734.3" y2="736.2" stroke="#8a8a8a" stroke-width="1.0" />
<line x1="424.2" y1="726.7" x2="427.8" y2="726.7" stroke="#2a2a2a" stroke-width="1.0" />
<line x1="732.86" y1="726.7" x2="734.3" y2="726.7" stroke="#8a8a8a" stroke-width="1.0" />
<line x1="424.2" y1="717.2" x2="427.8" y2="717.2" stroke="#2a2a2a" stroke-width="1.0" />
<line x1="732.86" y1="717.2" x2="734.3" y2="717.2" stroke="#8a8a8a" stroke-width="1.0" />
<line x1="426" y1="717.2" x2="426" y2="907.7" stroke="#2a2a2a" stroke-width="1.0" />
<line x1="425.5" y1="907.2" x2="734.8" y2="907.2" stroke="#2a2a2a" stroke-width="1.0" />
<text x="453" y="731.4" font-size="8.2" text-anchor="middle" stroke="#000" stroke-width="0.3" fill="#000" >0.1 nM</text>
<text x="503.9" y="731.4" font-size="8.2" text-anchor="middle" stroke="#000" stroke-width="0.3" fill="#000" >0.5 nM</text>
<text x="576" y="731.4" font-size="8.2" text-anchor="middle" stroke="#000" stroke-width="0.3" fill="#000" >1 nM</text>
<text x="657" y="731.4" font-size="8.2" text-anchor="middle" stroke="#000" stroke-width="0.3" fill="#000" >0 nM</text>
<text x="422.3" y="712.9" font-size="8.2" text-anchor="start" stroke="#000" stroke-width="0.3" fill="#000" >0 nM</text>
<line x1="429.8" y1="721.5" x2="431.6" y2="715.8" stroke="#111" stroke-width="0.9" />
<text x="390" y="812.2" font-size="9.0" text-anchor="middle" font-weight="bold" fill="#000" transform="rotate(-90 390 812.2)">Signal (CPS) halflife corrected</text>
<text x="580.15" y="935.5" font-size="8.7" text-anchor="middle" font-weight="bold" fill="#000" >Time (Minutes)</text>
<text x="380.6" y="723.6" font-size="16" text-anchor="start" font-weight="bold" fill="#000" >j</text>
<line x1="589.8" y1="314" x2="589.8" y2="452.4" stroke="#000" stroke-width="1.5" />
<line x1="589.2" y1="451.8" x2="727.5" y2="451.8" stroke="#000" stroke-width="1.5" />
<line x1="584.2" y1="451.8" x2="589.8" y2="451.8" stroke="#000" stroke-width="1.5" />
<text x="581.9" y="455.7" font-size="10.0" font-weight="bold" stroke="#000" stroke-width="0.25" text-anchor="end">0</text>
<line x1="584.2" y1="424.24" x2="589.8" y2="424.24" stroke="#000" stroke-width="1.5" />
<text x="581.9" y="428.14" font-size="10.0" font-weight="bold" stroke="#000" stroke-width="0.25" text-anchor="end">2×10<tspan font-size="6.6" dx="2.2" dy="-3.4">13</tspan></text>
<line x1="584.2" y1="396.68" x2="589.8" y2="396.68" stroke="#000" stroke-width="1.5" />
<text x="581.9" y="400.58" font-size="10.0" font-weight="bold" stroke="#000" stroke-width="0.25" text-anchor="end">4×10<tspan font-size="6.6" dx="2.2" dy="-3.4">13</tspan></text>
<line x1="584.2" y1="369.12" x2="589.8" y2="369.12" stroke="#000" stroke-width="1.5" />
<text x="581.9" y="373.02" font-size="10.0" font-weight="bold" stroke="#000" stroke-width="0.25" text-anchor="end">6×10<tspan font-size="6.6" dx="2.2" dy="-3.4">13</tspan></text>
<line x1="584.2" y1="341.56" x2="589.8" y2="341.56" stroke="#000" stroke-width="1.5" />
<text x="581.9" y="345.46" font-size="10.0" font-weight="bold" stroke="#000" stroke-width="0.25" text-anchor="end">8×10<tspan font-size="6.6" dx="2.2" dy="-3.4">13</tspan></text>
<line x1="584.2" y1="314" x2="589.8" y2="314" stroke="#000" stroke-width="1.5" />
<text x="581.9" y="317.9" font-size="10.0" font-weight="bold" stroke="#000" stroke-width="0.25" text-anchor="end">1×10<tspan font-size="6.6" dx="2.2" dy="-3.4">14</tspan></text>
<line x1="589.8" y1="451.8" x2="589.8" y2="456.2" stroke="#000" stroke-width="1.5" />
<text x="589.8" y="468.8" font-size="10.0" font-weight="bold" stroke="#000" stroke-width="0.25" text-anchor="middle">0</text>
<line x1="624.22" y1="451.8" x2="624.22" y2="456.2" stroke="#000" stroke-width="1.5" />
<line x1="658.65" y1="451.8" x2="658.65" y2="456.2" stroke="#000" stroke-width="1.5" />
<text x="658.65" y="468.8" font-size="10.0" font-weight="bold" stroke="#000" stroke-width="0.25" text-anchor="middle">2.5×10<tspan font-size="6.6" dx="2.2" dy="-3.4">6</tspan></text>
<line x1="693.08" y1="451.8" x2="693.08" y2="456.2" stroke="#000" stroke-width="1.5" />
<line x1="727.5" y1="451.8" x2="727.5" y2="456.2" stroke="#000" stroke-width="1.5" />
<text x="727.5" y="468.8" font-size="10.0" font-weight="bold" stroke="#000" stroke-width="0.25" text-anchor="middle">5×10<tspan font-size="6.6" dx="2.2" dy="-3.4">6</tspan></text>
<line x1="614.17" y1="416.34" x2="715.11" y2="360.78" stroke="#111" stroke-width="0.9" />
<circle cx="613.65" cy="411.84" r="2.8" fill="#000"/>
<circle cx="618.66" cy="413.08" r="2.8" fill="#000"/>
<circle cx="640.94" cy="392.13" r="2.8" fill="#000"/>
<circle cx="646.95" cy="413.91" r="2.8" fill="#000"/>
<circle cx="659.64" cy="396.96" r="2.8" fill="#000"/>
<circle cx="664.05" cy="385.24" r="2.8" fill="#000"/>
<circle cx="707.12" cy="339.77" r="2.8" fill="#000"/>
<circle cx="715.11" cy="376.42" r="2.8" fill="#000"/>
<text x="594.2" y="328.4" font-size="10.8">y = 1.1*10<tspan font-size="7.8" dy="-3.9">7</tspan><tspan dy="3.9">x + 1.6*10</tspan><tspan font-size="7.8" dy="-3.9">13</tspan></text><text x="594.2" y="342.4" font-size="10.8">R = 0.71</text>
<text x="658.5" y="479.6" font-size="11" text-anchor="middle" font-weight="bold" fill="#000" >Cell number</text>
<text x="550.3" y="383.5" font-size="11.5" text-anchor="middle" font-weight="bold" fill="#000" transform="rotate(-90 550.3 383.5)">nB</text>
<text x="536.4" y="314.5" font-size="16" text-anchor="start" font-weight="bold" fill="#000" >e</text>
<line x1="589.9" y1="530.9" x2="589.9" y2="669.3" stroke="#000" stroke-width="1.5" />
<line x1="589.3" y1="668.7" x2="727.4" y2="668.7" stroke="#000" stroke-width="1.5" />
<line x1="584.3" y1="668.7" x2="589.9" y2="668.7" stroke="#000" stroke-width="1.5" />
<text x="582" y="672.6" font-size="10.0" font-weight="bold" stroke="#000" stroke-width="0.25" text-anchor="end">0</text>
<line x1="584.3" y1="622.77" x2="589.9" y2="622.77" stroke="#000" stroke-width="1.5" />
<text x="582" y="626.67" font-size="10.0" font-weight="bold" stroke="#000" stroke-width="0.25" text-anchor="end">1×10<tspan font-size="6.6" dx="2.2" dy="-3.4">13</tspan></text>
<line x1="584.3" y1="576.83" x2="589.9" y2="576.83" stroke="#000" stroke-width="1.5" />
<text x="582" y="580.73" font-size="10.0" font-weight="bold" stroke="#000" stroke-width="0.25" text-anchor="end">2×10<tspan font-size="6.6" dx="2.2" dy="-3.4">13</tspan></text>
<line x1="584.3" y1="530.9" x2="589.9" y2="530.9" stroke="#000" stroke-width="1.5" />
<text x="582" y="534.8" font-size="10.0" font-weight="bold" stroke="#000" stroke-width="0.25" text-anchor="end">3×10<tspan font-size="6.6" dx="2.2" dy="-3.4">13</tspan></text>
<line x1="589.9" y1="668.7" x2="589.9" y2="673.1" stroke="#000" stroke-width="1.5" />
<text x="589.9" y="685.6" font-size="10.0" font-weight="bold" stroke="#000" stroke-width="0.25" text-anchor="middle">0</text>
<line x1="624.27" y1="668.7" x2="624.27" y2="673.1" stroke="#000" stroke-width="1.5" />
<line x1="658.65" y1="668.7" x2="658.65" y2="673.1" stroke="#000" stroke-width="1.5" />
<text x="658.65" y="685.6" font-size="10.0" font-weight="bold" stroke="#000" stroke-width="0.25" text-anchor="middle">2×10<tspan font-size="6.6" dx="2.2" dy="-3.4">6</tspan></text>
<line x1="693.02" y1="668.7" x2="693.02" y2="673.1" stroke="#000" stroke-width="1.5" />
<line x1="727.4" y1="668.7" x2="727.4" y2="673.1" stroke="#000" stroke-width="1.5" />
<text x="727.4" y="685.6" font-size="10.0" font-weight="bold" stroke="#000" stroke-width="0.25" text-anchor="middle">4×10<tspan font-size="6.6" dx="2.2" dy="-3.4">6</tspan></text>
<line x1="597.7" y1="634.24" x2="713" y2="552.58" stroke="#111" stroke-width="0.9" />
<circle cx="597.7" cy="646.79" r="2.8" fill="#000"/>
<circle cx="604.78" cy="642.01" r="2.8" fill="#000"/>
<circle cx="630.12" cy="585.1" r="2.8" fill="#000"/>
<circle cx="640.43" cy="597.96" r="2.8" fill="#000"/>
<circle cx="676.7" cy="565.35" r="2.8" fill="#000"/>
<circle cx="713" cy="568.11" r="2.8" fill="#000"/>
<text x="595.0" y="545.9" font-size="10.8">y = 5.3*10<tspan font-size="7.8" dy="-3.9">6</tspan><tspan dy="3.9">x + 6.3*10</tspan><tspan font-size="7.8" dy="-3.9">12</tspan></text><text x="595.0" y="559.5" font-size="10.8">R = 0.78</text>
<text x="658.7" y="696.6" font-size="11" text-anchor="middle" font-weight="bold" fill="#000" >Cell number</text>
<text x="549.8" y="599.6" font-size="11.5" text-anchor="middle" font-weight="bold" fill="#000" transform="rotate(-90 549.8 599.6)">nB</text>
<text x="534.5" y="534.8" font-size="16" text-anchor="start" font-weight="bold" fill="#000" >h</text>
</svg>
</body></html>
